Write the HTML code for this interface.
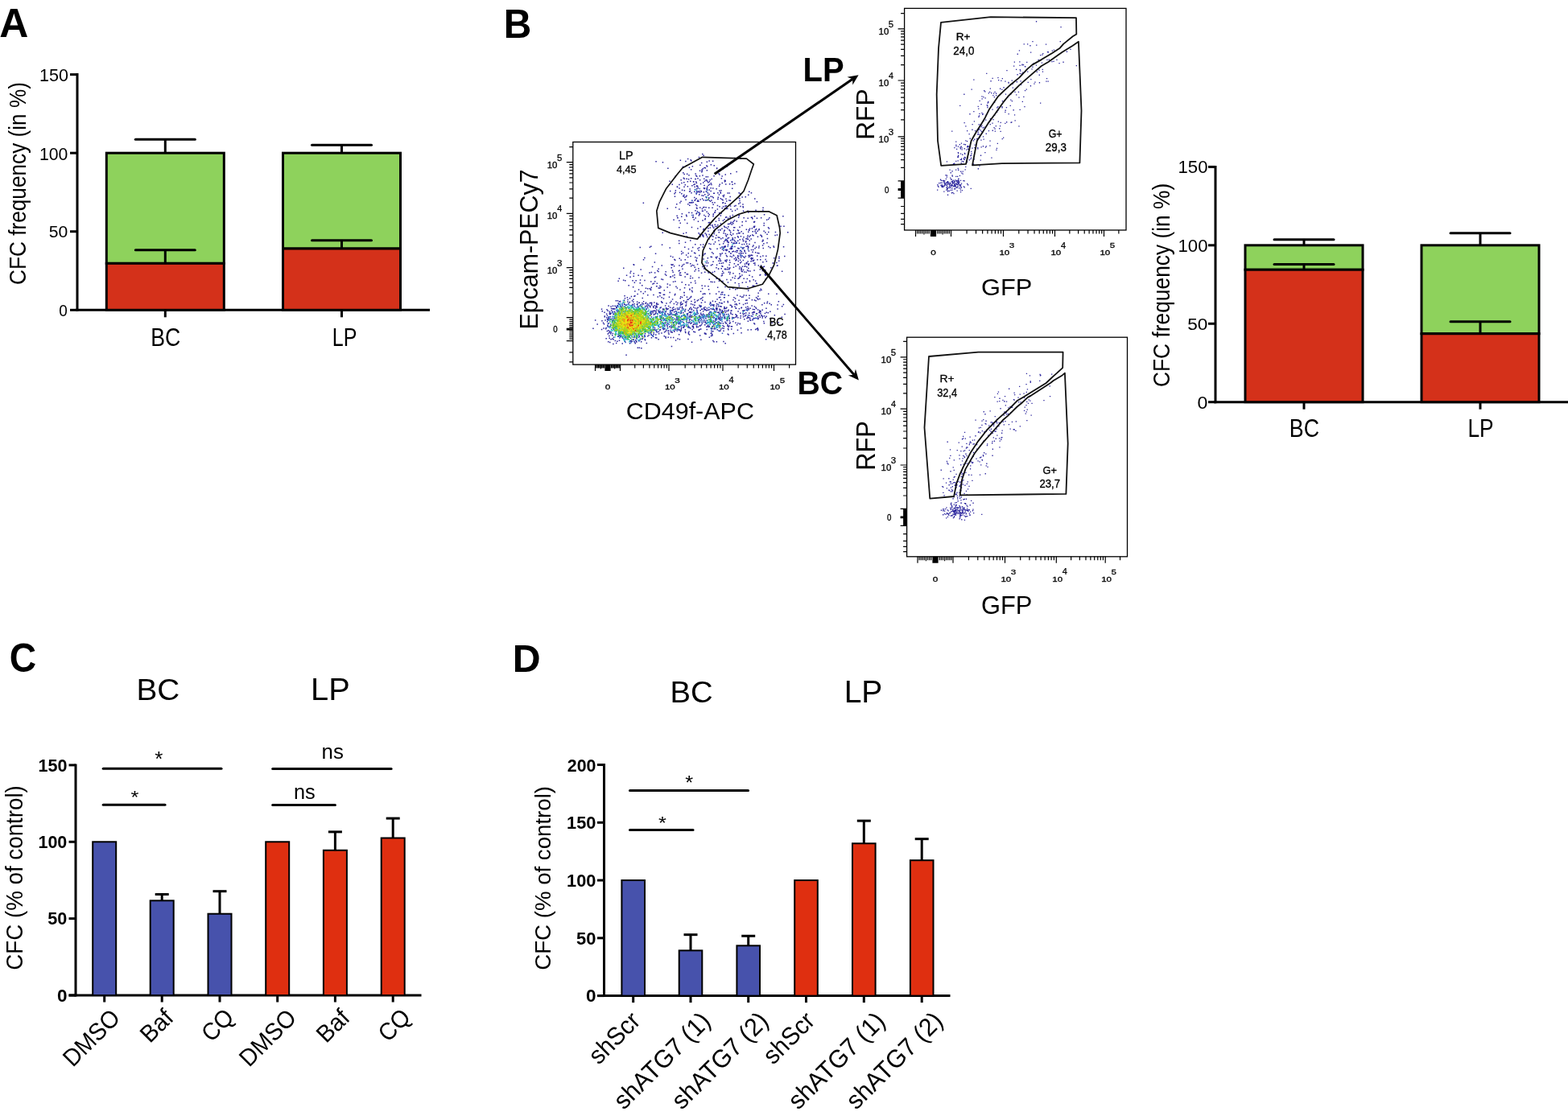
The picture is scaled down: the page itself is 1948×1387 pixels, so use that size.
<!DOCTYPE html>
<html><head><meta charset="utf-8"><title>Figure</title>
<style>html,body{margin:0;padding:0;background:#fff;overflow:hidden}svg{display:block}</style>
</head><body>
<svg width="1948" height="1387" viewBox="0 0 1948 1387" font-family="'Liberation Sans', Arial, sans-serif">
<rect width="1948" height="1387" fill="#fff"/>
<text transform="translate(-0.75,46) scale(1.0147,1)" font-size="49.28" font-weight="bold" fill="#000">A</text>
<text transform="translate(625.69,46.8) scale(0.9519,1)" font-size="50.29" font-weight="bold" fill="#000">B</text>
<text transform="translate(11.85,834.9) scale(0.9278,1)" font-size="49.86" font-weight="bold" fill="#000">C</text>
<text transform="translate(636.66,834.8) scale(0.9888,1)" font-size="48.84" font-weight="bold" fill="#000">D</text>
<line x1="96" y1="91.1" x2="96" y2="386.8" stroke="#000" stroke-width="3" stroke-linecap="butt"/>
<line x1="94.5" y1="385.3" x2="534" y2="385.3" stroke="#000" stroke-width="3" stroke-linecap="butt"/>
<line x1="87" y1="385.3" x2="96" y2="385.3" stroke="#000" stroke-width="3" stroke-linecap="butt"/>
<line x1="87" y1="287.73" x2="96" y2="287.73" stroke="#000" stroke-width="3" stroke-linecap="butt"/>
<line x1="87" y1="190.17" x2="96" y2="190.17" stroke="#000" stroke-width="3" stroke-linecap="butt"/>
<line x1="87" y1="92.6" x2="96" y2="92.6" stroke="#000" stroke-width="3" stroke-linecap="butt"/>
<text transform="translate(48.98,100.59) scale(1.0065,1)" font-size="21.41" fill="#000">150</text>
<text transform="translate(49.01,198.57) scale(0.9419,1)" font-size="22.54" fill="#000">100</text>
<text transform="translate(60.85,295.29)" font-size="21.13" fill="#000">50</text>
<text transform="translate(73.24,392.79) scale(0.9090,1)" font-size="20.85" fill="#000">0</text>
<rect x="132.3" y="190.17" width="146" height="137.18" fill="#8ED25C" stroke="#000" stroke-width="3"/>
<rect x="132.3" y="327.35" width="146" height="57.95" fill="#D4311A" stroke="#000" stroke-width="3"/>
<line x1="205.3" y1="190.17" x2="205.3" y2="173.19" stroke="#000" stroke-width="3" stroke-linecap="butt"/>
<line x1="168.3" y1="173.19" x2="242.3" y2="173.19" stroke="#000" stroke-width="3" stroke-linecap="round"/>
<line x1="205.3" y1="327.35" x2="205.3" y2="310.76" stroke="#000" stroke-width="3" stroke-linecap="butt"/>
<line x1="168.3" y1="310.76" x2="242.3" y2="310.76" stroke="#000" stroke-width="3" stroke-linecap="round"/>
<line x1="205.3" y1="385.3" x2="205.3" y2="394.3" stroke="#000" stroke-width="3" stroke-linecap="butt"/>
<rect x="351.5" y="190.17" width="146" height="118.84" fill="#8ED25C" stroke="#000" stroke-width="3"/>
<rect x="351.5" y="309" width="146" height="76.3" fill="#D4311A" stroke="#000" stroke-width="3"/>
<line x1="424.5" y1="190.17" x2="424.5" y2="180.21" stroke="#000" stroke-width="3" stroke-linecap="butt"/>
<line x1="387.5" y1="180.21" x2="461.5" y2="180.21" stroke="#000" stroke-width="3" stroke-linecap="round"/>
<line x1="424.5" y1="309" x2="424.5" y2="298.66" stroke="#000" stroke-width="3" stroke-linecap="butt"/>
<line x1="387.5" y1="298.66" x2="461.5" y2="298.66" stroke="#000" stroke-width="3" stroke-linecap="round"/>
<line x1="424.5" y1="385.3" x2="424.5" y2="394.3" stroke="#000" stroke-width="3" stroke-linecap="butt"/>
<text transform="translate(32.27,353.91) rotate(-90) scale(0.8973,1)" font-size="29.2" fill="#000">CFC frequency (in %)</text>
<text transform="translate(187.27,429.99) scale(0.8482,1)" font-size="31.41" fill="#000">BC</text>
<text transform="translate(412.8,430) scale(0.7855,1)" font-size="31.88" fill="#000">LP</text>
<line x1="1510" y1="205.9" x2="1510" y2="501.2" stroke="#000" stroke-width="3" stroke-linecap="butt"/>
<line x1="1508.5" y1="499.7" x2="1948" y2="499.7" stroke="#000" stroke-width="3" stroke-linecap="butt"/>
<line x1="1501" y1="499.7" x2="1510" y2="499.7" stroke="#000" stroke-width="3" stroke-linecap="butt"/>
<line x1="1501" y1="402.27" x2="1510" y2="402.27" stroke="#000" stroke-width="3" stroke-linecap="butt"/>
<line x1="1501" y1="304.83" x2="1510" y2="304.83" stroke="#000" stroke-width="3" stroke-linecap="butt"/>
<line x1="1501" y1="207.4" x2="1510" y2="207.4" stroke="#000" stroke-width="3" stroke-linecap="butt"/>
<text transform="translate(1463.54,215.39) scale(1.0405,1)" font-size="21.27" fill="#000">150</text>
<text transform="translate(1463.54,313.18) scale(1.0072,1)" font-size="21.97" fill="#000">100</text>
<text transform="translate(1475.3,409.79) scale(1.0707,1)" font-size="21.13" fill="#000">50</text>
<text transform="translate(1487.57,507.78) scale(1.0473,1)" font-size="22.11" fill="#000">0</text>
<rect x="1547" y="304.83" width="146" height="30.4" fill="#8ED25C" stroke="#000" stroke-width="3"/>
<rect x="1547" y="335.23" width="146" height="164.47" fill="#D4311A" stroke="#000" stroke-width="3"/>
<line x1="1620" y1="304.83" x2="1620" y2="297.82" stroke="#000" stroke-width="3" stroke-linecap="butt"/>
<line x1="1583" y1="297.82" x2="1657" y2="297.82" stroke="#000" stroke-width="3" stroke-linecap="round"/>
<line x1="1620" y1="335.23" x2="1620" y2="328.61" stroke="#000" stroke-width="3" stroke-linecap="butt"/>
<line x1="1583" y1="328.61" x2="1657" y2="328.61" stroke="#000" stroke-width="3" stroke-linecap="round"/>
<line x1="1620" y1="499.7" x2="1620" y2="508.7" stroke="#000" stroke-width="3" stroke-linecap="butt"/>
<rect x="1766" y="304.83" width="146" height="109.9" fill="#8ED25C" stroke="#000" stroke-width="3"/>
<rect x="1766" y="414.74" width="146" height="84.96" fill="#D4311A" stroke="#000" stroke-width="3"/>
<line x1="1839" y1="304.83" x2="1839" y2="289.63" stroke="#000" stroke-width="3" stroke-linecap="butt"/>
<line x1="1802" y1="289.63" x2="1876" y2="289.63" stroke="#000" stroke-width="3" stroke-linecap="round"/>
<line x1="1839" y1="414.74" x2="1839" y2="399.73" stroke="#000" stroke-width="3" stroke-linecap="butt"/>
<line x1="1802" y1="399.73" x2="1876" y2="399.73" stroke="#000" stroke-width="3" stroke-linecap="round"/>
<line x1="1839" y1="499.7" x2="1839" y2="508.7" stroke="#000" stroke-width="3" stroke-linecap="butt"/>
<text transform="translate(1453.28,481.02) rotate(-90) scale(0.9199,1)" font-size="28.66" fill="#000">CFC frequency (in %)</text>
<text transform="translate(1601.86,542.89) scale(0.8545,1)" font-size="31.27" fill="#000">BC</text>
<text transform="translate(1823.39,543) scale(0.8258,1)" font-size="31.88" fill="#000">LP</text>
<line x1="94" y1="949.4" x2="94" y2="1238.5" stroke="#000" stroke-width="3" stroke-linecap="butt"/>
<line x1="85.5" y1="1237" x2="523.5" y2="1237" stroke="#000" stroke-width="3" stroke-linecap="butt"/>
<line x1="85.5" y1="1237" x2="94" y2="1237" stroke="#000" stroke-width="3" stroke-linecap="butt"/>
<line x1="85.5" y1="1141.63" x2="94" y2="1141.63" stroke="#000" stroke-width="3" stroke-linecap="butt"/>
<line x1="85.5" y1="1046.27" x2="94" y2="1046.27" stroke="#000" stroke-width="3" stroke-linecap="butt"/>
<line x1="85.5" y1="950.9" x2="94" y2="950.9" stroke="#000" stroke-width="3" stroke-linecap="butt"/>
<text transform="translate(47.4,958.58) scale(0.9960,1)" font-size="21.69" font-weight="bold" fill="#000">150</text>
<text transform="translate(47.4,1053.88)" font-size="21.55" font-weight="bold" fill="#000">100</text>
<text transform="translate(59.35,1148.98) scale(1.0040,1)" font-size="21.55" font-weight="bold" fill="#000">50</text>
<text transform="translate(70.9,1244.98) scale(1.0252,1)" font-size="21.97" font-weight="bold" fill="#000">0</text>
<rect x="115.2" y="1046.27" width="29" height="190.73" fill="#4752AC" stroke="#000" stroke-width="2"/>
<line x1="129.7" y1="1237" x2="129.7" y2="1245.5" stroke="#000" stroke-width="3" stroke-linecap="butt"/>
<line x1="201.2" y1="1119.32" x2="201.2" y2="1111.5" stroke="#000" stroke-width="3" stroke-linecap="butt"/>
<line x1="192.7" y1="1111.5" x2="209.7" y2="1111.5" stroke="#000" stroke-width="3" stroke-linecap="butt"/>
<rect x="186.7" y="1119.32" width="29" height="117.68" fill="#4752AC" stroke="#000" stroke-width="2"/>
<line x1="201.2" y1="1237" x2="201.2" y2="1245.5" stroke="#000" stroke-width="3" stroke-linecap="butt"/>
<line x1="273" y1="1135.72" x2="273" y2="1107.68" stroke="#000" stroke-width="3" stroke-linecap="butt"/>
<line x1="264.5" y1="1107.68" x2="281.5" y2="1107.68" stroke="#000" stroke-width="3" stroke-linecap="butt"/>
<rect x="258.5" y="1135.72" width="29" height="101.28" fill="#4752AC" stroke="#000" stroke-width="2"/>
<line x1="273" y1="1237" x2="273" y2="1245.5" stroke="#000" stroke-width="3" stroke-linecap="butt"/>
<rect x="330.2" y="1046.27" width="29" height="190.73" fill="#DF2F10" stroke="#000" stroke-width="2"/>
<line x1="344.7" y1="1237" x2="344.7" y2="1245.5" stroke="#000" stroke-width="3" stroke-linecap="butt"/>
<line x1="416.4" y1="1056.76" x2="416.4" y2="1033.87" stroke="#000" stroke-width="3" stroke-linecap="butt"/>
<line x1="407.9" y1="1033.87" x2="424.9" y2="1033.87" stroke="#000" stroke-width="3" stroke-linecap="butt"/>
<rect x="401.9" y="1056.76" width="29" height="180.24" fill="#DF2F10" stroke="#000" stroke-width="2"/>
<line x1="416.4" y1="1237" x2="416.4" y2="1245.5" stroke="#000" stroke-width="3" stroke-linecap="butt"/>
<line x1="488.2" y1="1041.5" x2="488.2" y2="1017.08" stroke="#000" stroke-width="3" stroke-linecap="butt"/>
<line x1="479.7" y1="1017.08" x2="496.7" y2="1017.08" stroke="#000" stroke-width="3" stroke-linecap="butt"/>
<rect x="473.7" y="1041.5" width="29" height="195.5" fill="#DF2F10" stroke="#000" stroke-width="2"/>
<line x1="488.2" y1="1237" x2="488.2" y2="1245.5" stroke="#000" stroke-width="3" stroke-linecap="butt"/>
<line x1="128.2" y1="955.3" x2="275" y2="955.3" stroke="#000" stroke-width="3" stroke-linecap="round"/>
<line x1="128.2" y1="1000.3" x2="205" y2="1000.3" stroke="#000" stroke-width="3" stroke-linecap="round"/>
<line x1="338.7" y1="955.5" x2="486.1" y2="955.5" stroke="#000" stroke-width="3" stroke-linecap="round"/>
<line x1="338.7" y1="1000.5" x2="416.4" y2="1000.5" stroke="#000" stroke-width="3" stroke-linecap="round"/>
<text transform="translate(192.28,952.24)" font-size="26" fill="#000">*</text>
<text transform="translate(162.59,997.57) scale(1.1125,1)" font-size="22.86" fill="#000">*</text>
<text transform="translate(399.62,943.14) scale(1.0089,1)" font-size="25.64" fill="#000">ns</text>
<text transform="translate(364.95,993.25) scale(1.0099,1)" font-size="25.09" fill="#000">ns</text>
<text transform="translate(169.5,869.94) scale(1.0660,1)" font-size="36.34" fill="#000">BC</text>
<text transform="translate(386.01,870.3) scale(1.0486,1)" font-size="37.97" fill="#000">LP</text>
<text transform="translate(28.11,1205.79) rotate(-90) scale(0.9575,1)" font-size="28.98" fill="#000">CFC (% of control)</text>
<text transform="translate(90.49,1327.31) rotate(-45) scale(0.9443,1)" font-size="30.14">DMSO</text>
<text transform="translate(186.36,1297.44) rotate(-45) scale(0.9614,1)" font-size="30.14">Baf</text>
<text transform="translate(262.4,1296.3) rotate(-45) scale(0.9407,1)" font-size="30.14">CQ</text>
<text transform="translate(309.49,1327.31) rotate(-45) scale(0.9443,1)" font-size="30.14">DMSO</text>
<text transform="translate(405.36,1297.44) rotate(-45) scale(0.9614,1)" font-size="30.14">Baf</text>
<text transform="translate(481.9,1296.3) rotate(-45) scale(0.9407,1)" font-size="30.14">CQ</text>
<line x1="750.5" y1="949" x2="750.5" y2="1239.1" stroke="#000" stroke-width="3" stroke-linecap="butt"/>
<line x1="742" y1="1237.6" x2="1180.5" y2="1237.6" stroke="#000" stroke-width="3" stroke-linecap="butt"/>
<line x1="742" y1="1237.6" x2="750.5" y2="1237.6" stroke="#000" stroke-width="3" stroke-linecap="butt"/>
<line x1="742" y1="1165.82" x2="750.5" y2="1165.82" stroke="#000" stroke-width="3" stroke-linecap="butt"/>
<line x1="742" y1="1094.05" x2="750.5" y2="1094.05" stroke="#000" stroke-width="3" stroke-linecap="butt"/>
<line x1="742" y1="1022.27" x2="750.5" y2="1022.27" stroke="#000" stroke-width="3" stroke-linecap="butt"/>
<line x1="742" y1="950.5" x2="750.5" y2="950.5" stroke="#000" stroke-width="3" stroke-linecap="butt"/>
<text transform="translate(704.75,958.58) scale(0.9859,1)" font-size="21.69" font-weight="bold" fill="#000">200</text>
<text transform="translate(704.08,1030.18) scale(1.0048,1)" font-size="21.69" font-weight="bold" fill="#000">150</text>
<text transform="translate(704.08,1102.28) scale(1.0048,1)" font-size="21.69" font-weight="bold" fill="#000">100</text>
<text transform="translate(716.04,1173.68) scale(1.0107,1)" font-size="21.69" font-weight="bold" fill="#000">50</text>
<text transform="translate(727.9,1245.08) scale(1.0386,1)" font-size="21.69" font-weight="bold" fill="#000">0</text>
<rect x="772.4" y="1094.05" width="28.6" height="143.55" fill="#4752AC" stroke="#000" stroke-width="2"/>
<line x1="786.7" y1="1237.6" x2="786.7" y2="1246.1" stroke="#000" stroke-width="3" stroke-linecap="butt"/>
<line x1="858" y1="1181.33" x2="858" y2="1161.66" stroke="#000" stroke-width="3" stroke-linecap="butt"/>
<line x1="849.5" y1="1161.66" x2="866.5" y2="1161.66" stroke="#000" stroke-width="3" stroke-linecap="butt"/>
<rect x="843.7" y="1181.33" width="28.6" height="56.27" fill="#4752AC" stroke="#000" stroke-width="2"/>
<line x1="858" y1="1237.6" x2="858" y2="1246.1" stroke="#000" stroke-width="3" stroke-linecap="butt"/>
<line x1="929.7" y1="1175.3" x2="929.7" y2="1163.24" stroke="#000" stroke-width="3" stroke-linecap="butt"/>
<line x1="921.2" y1="1163.24" x2="938.2" y2="1163.24" stroke="#000" stroke-width="3" stroke-linecap="butt"/>
<rect x="915.4" y="1175.3" width="28.6" height="62.3" fill="#4752AC" stroke="#000" stroke-width="2"/>
<line x1="929.7" y1="1237.6" x2="929.7" y2="1246.1" stroke="#000" stroke-width="3" stroke-linecap="butt"/>
<rect x="987.2" y="1094.05" width="28.6" height="143.55" fill="#DF2F10" stroke="#000" stroke-width="2"/>
<line x1="1001.5" y1="1237.6" x2="1001.5" y2="1246.1" stroke="#000" stroke-width="3" stroke-linecap="butt"/>
<line x1="1073.3" y1="1048.26" x2="1073.3" y2="1020.12" stroke="#000" stroke-width="3" stroke-linecap="butt"/>
<line x1="1064.8" y1="1020.12" x2="1081.8" y2="1020.12" stroke="#000" stroke-width="3" stroke-linecap="butt"/>
<rect x="1059" y="1048.26" width="28.6" height="189.34" fill="#DF2F10" stroke="#000" stroke-width="2"/>
<line x1="1073.3" y1="1237.6" x2="1073.3" y2="1246.1" stroke="#000" stroke-width="3" stroke-linecap="butt"/>
<line x1="1145.2" y1="1069.22" x2="1145.2" y2="1042.66" stroke="#000" stroke-width="3" stroke-linecap="butt"/>
<line x1="1136.7" y1="1042.66" x2="1153.7" y2="1042.66" stroke="#000" stroke-width="3" stroke-linecap="butt"/>
<rect x="1130.9" y="1069.22" width="28.6" height="168.38" fill="#DF2F10" stroke="#000" stroke-width="2"/>
<line x1="1145.2" y1="1237.6" x2="1145.2" y2="1246.1" stroke="#000" stroke-width="3" stroke-linecap="butt"/>
<line x1="782.5" y1="982.4" x2="929.5" y2="982.4" stroke="#000" stroke-width="3" stroke-linecap="round"/>
<line x1="782.5" y1="1031.5" x2="861" y2="1031.5" stroke="#000" stroke-width="3" stroke-linecap="round"/>
<text transform="translate(851.19,980.57) scale(1.0988,1)" font-size="23.14" fill="#000">*</text>
<text transform="translate(817.89,1029.77) scale(1.1125,1)" font-size="22.86" fill="#000">*</text>
<text transform="translate(832.54,872.83) scale(1.0329,1)" font-size="37.04" fill="#000">BC</text>
<text transform="translate(1048.68,873.2) scale(0.9964,1)" font-size="39.13" fill="#000">LP</text>
<text transform="translate(684.21,1205.78) rotate(-90) scale(1.0018,1)" font-size="27.59" fill="#000">CFC (% of control)</text>
<text transform="translate(743.67,1324.13) rotate(-45) scale(0.9526,1)" font-size="31.16">shScr</text>
<text transform="translate(775.06,1380.24) rotate(-45) scale(0.9756,1)" font-size="31.16">shATG7 (1)</text>
<text transform="translate(846.96,1380.14) rotate(-45) scale(0.9756,1)" font-size="31.16">shATG7 (2)</text>
<text transform="translate(960.47,1324.13) rotate(-45) scale(0.9526,1)" font-size="31.16">shScr</text>
<text transform="translate(991.86,1380.24) rotate(-45) scale(0.9756,1)" font-size="31.16">shATG7 (1)</text>
<text transform="translate(1063.76,1380.14) rotate(-45) scale(0.9756,1)" font-size="31.16">shATG7 (2)</text>
<path d="M815.0 376.5h1.5v1.5h-1.5zM905.6 398.0h1.5v1.5h-1.5zM897.0 336.4h1.5v1.5h-1.5zM894.0 390.9h1.5v1.5h-1.5zM892.5 361.8h1.5v1.5h-1.5zM912.4 377.6h1.5v1.5h-1.5zM919.5 392.0h1.5v1.5h-1.5zM894.8 365.3h1.5v1.5h-1.5zM825.9 379.2h1.5v1.5h-1.5zM928.5 409.3h1.5v1.5h-1.5zM938.8 369.0h1.5v1.5h-1.5zM886.0 379.7h1.5v1.5h-1.5zM875.4 384.0h1.5v1.5h-1.5zM835.4 390.4h1.5v1.5h-1.5zM870.9 370.1h1.5v1.5h-1.5zM927.6 345.8h1.5v1.5h-1.5zM865.6 372.9h1.5v1.5h-1.5zM793.6 375.5h1.5v1.5h-1.5zM833.1 373.7h1.5v1.5h-1.5zM812.1 375.2h1.5v1.5h-1.5zM925.4 376.5h1.5v1.5h-1.5zM889.4 345.5h1.5v1.5h-1.5zM771.5 384.2h1.5v1.5h-1.5zM930.0 388.5h1.5v1.5h-1.5zM798.6 251.6h1.5v1.5h-1.5zM863.0 314.1h1.5v1.5h-1.5zM899.6 333.8h1.5v1.5h-1.5zM948.9 375.9h1.5v1.5h-1.5zM934.7 389.9h1.5v1.5h-1.5zM927.6 376.0h1.5v1.5h-1.5zM857.3 368.7h1.5v1.5h-1.5zM765.1 382.1h1.5v1.5h-1.5zM800.8 422.1h1.5v1.5h-1.5zM756.7 389.7h1.5v1.5h-1.5zM760.5 406.5h1.5v1.5h-1.5zM890.3 382.6h1.5v1.5h-1.5zM886.1 378.1h1.5v1.5h-1.5zM853.8 389.1h1.5v1.5h-1.5zM826.8 382.0h1.5v1.5h-1.5zM856.1 359.1h1.5v1.5h-1.5zM782.4 338.6h1.5v1.5h-1.5zM875.2 364.5h1.5v1.5h-1.5zM892.3 402.2h1.5v1.5h-1.5zM886.5 408.0h1.5v1.5h-1.5zM904.6 392.3h1.5v1.5h-1.5zM885.1 422.7h1.5v1.5h-1.5zM974.3 389.7h1.5v1.5h-1.5zM944.1 387.0h1.5v1.5h-1.5zM892.6 399.4h1.5v1.5h-1.5zM886.0 402.9h1.5v1.5h-1.5zM755.1 395.8h1.5v1.5h-1.5zM807.7 388.5h1.5v1.5h-1.5zM910.6 413.7h1.5v1.5h-1.5zM898.9 383.1h1.5v1.5h-1.5zM882.8 388.0h1.5v1.5h-1.5zM808.5 356.5h1.5v1.5h-1.5zM806.6 306.4h1.5v1.5h-1.5zM943.9 340.7h1.5v1.5h-1.5zM940.3 370.3h1.5v1.5h-1.5zM884.7 373.4h1.5v1.5h-1.5zM767.5 386.0h1.5v1.5h-1.5zM753.7 391.5h1.5v1.5h-1.5zM894.3 410.2h1.5v1.5h-1.5zM838.2 348.9h1.5v1.5h-1.5zM849.1 362.7h1.5v1.5h-1.5zM775.3 367.0h1.5v1.5h-1.5zM857.8 376.9h1.5v1.5h-1.5zM935.4 347.1h1.5v1.5h-1.5zM871.8 357.8h1.5v1.5h-1.5zM819.0 357.3h1.5v1.5h-1.5zM933.9 388.0h1.5v1.5h-1.5zM758.3 421.0h1.5v1.5h-1.5zM857.7 393.7h1.5v1.5h-1.5zM954.0 364.5h1.5v1.5h-1.5zM831.9 381.5h1.5v1.5h-1.5zM875.0 337.6h1.5v1.5h-1.5zM946.4 384.4h1.5v1.5h-1.5zM940.7 393.0h1.5v1.5h-1.5zM760.5 386.8h1.5v1.5h-1.5zM819.4 382.1h1.5v1.5h-1.5zM871.0 383.4h1.5v1.5h-1.5zM798.0 382.0h1.5v1.5h-1.5zM878.8 384.6h1.5v1.5h-1.5zM929.1 382.5h1.5v1.5h-1.5zM943.3 360.5h1.5v1.5h-1.5zM872.0 372.5h1.5v1.5h-1.5zM855.1 353.6h1.5v1.5h-1.5zM901.8 385.8h1.5v1.5h-1.5zM853.4 394.4h1.5v1.5h-1.5zM768.6 345.5h1.5v1.5h-1.5zM875.1 354.7h1.5v1.5h-1.5zM803.9 358.1h1.5v1.5h-1.5zM805.2 379.2h1.5v1.5h-1.5zM875.1 393.0h1.5v1.5h-1.5zM936.6 386.9h1.5v1.5h-1.5zM844.5 370.0h1.5v1.5h-1.5zM946.1 377.9h1.5v1.5h-1.5zM899.1 390.8h1.5v1.5h-1.5zM913.0 358.9h1.5v1.5h-1.5zM942.4 387.8h1.5v1.5h-1.5zM786.4 328.1h1.5v1.5h-1.5zM941.5 394.7h1.5v1.5h-1.5zM950.1 394.1h1.5v1.5h-1.5zM934.5 354.5h1.5v1.5h-1.5zM862.4 336.3h1.5v1.5h-1.5zM811.7 351.6h1.5v1.5h-1.5zM856.2 359.3h1.5v1.5h-1.5zM929.8 394.1h1.5v1.5h-1.5zM837.8 391.1h1.5v1.5h-1.5zM852.7 368.4h1.5v1.5h-1.5zM803.2 395.0h1.5v1.5h-1.5zM748.8 400.6h1.5v1.5h-1.5zM801.8 375.5h1.5v1.5h-1.5zM766.8 379.0h1.5v1.5h-1.5zM850.8 374.8h1.5v1.5h-1.5zM951.4 392.5h1.5v1.5h-1.5zM802.4 383.0h1.5v1.5h-1.5zM911.2 368.9h1.5v1.5h-1.5zM932.9 321.8h1.5v1.5h-1.5zM930.7 348.2h1.5v1.5h-1.5zM799.0 382.8h1.5v1.5h-1.5zM875.2 374.8h1.5v1.5h-1.5zM831.4 362.8h1.5v1.5h-1.5zM912.8 342.4h1.5v1.5h-1.5zM929.5 383.9h1.5v1.5h-1.5zM822.1 375.4h1.5v1.5h-1.5zM819.8 363.3h1.5v1.5h-1.5zM827.2 382.8h1.5v1.5h-1.5zM938.3 373.1h1.5v1.5h-1.5zM843.4 335.6h1.5v1.5h-1.5zM870.7 375.4h1.5v1.5h-1.5zM950.2 394.1h1.5v1.5h-1.5zM933.4 379.2h1.5v1.5h-1.5zM873.6 382.0h1.5v1.5h-1.5zM936.8 401.9h1.5v1.5h-1.5zM950.5 341.4h1.5v1.5h-1.5zM810.9 380.0h1.5v1.5h-1.5zM785.8 381.6h1.5v1.5h-1.5zM872.9 386.2h1.5v1.5h-1.5zM890.3 371.2h1.5v1.5h-1.5zM785.9 356.1h1.5v1.5h-1.5zM866.4 388.8h1.5v1.5h-1.5zM905.8 401.2h1.5v1.5h-1.5zM903.8 407.8h1.5v1.5h-1.5zM887.4 401.7h1.5v1.5h-1.5zM893.7 385.5h1.5v1.5h-1.5zM936.1 401.1h1.5v1.5h-1.5zM903.5 414.4h1.5v1.5h-1.5zM903.1 403.1h1.5v1.5h-1.5zM883.1 413.6h1.5v1.5h-1.5zM907.4 385.4h1.5v1.5h-1.5zM900.3 399.5h1.5v1.5h-1.5zM930.9 396.7h1.5v1.5h-1.5zM908.8 380.8h1.5v1.5h-1.5zM932.4 408.9h1.5v1.5h-1.5zM912.3 374.2h1.5v1.5h-1.5zM883.2 411.4h1.5v1.5h-1.5zM915.7 409.6h1.5v1.5h-1.5zM918.4 402.1h1.5v1.5h-1.5zM881.8 375.0h1.5v1.5h-1.5zM941.1 367.6h1.5v1.5h-1.5zM897.6 401.2h1.5v1.5h-1.5zM794.3 379.3h1.5v1.5h-1.5zM810.5 386.1h1.5v1.5h-1.5zM803.6 404.6h1.5v1.5h-1.5zM810.0 416.6h1.5v1.5h-1.5zM771.6 381.5h1.5v1.5h-1.5zM752.3 406.7h1.5v1.5h-1.5zM790.4 418.3h1.5v1.5h-1.5zM759.0 385.2h1.5v1.5h-1.5zM908.1 385.3h1.5v1.5h-1.5zM917.5 354.7h1.5v1.5h-1.5zM882.7 407.4h1.5v1.5h-1.5zM903.3 404.4h1.5v1.5h-1.5zM889.4 379.4h1.5v1.5h-1.5zM891.5 377.7h1.5v1.5h-1.5zM898.2 386.9h1.5v1.5h-1.5zM910.2 394.4h1.5v1.5h-1.5zM896.1 387.3h1.5v1.5h-1.5zM891.0 403.8h1.5v1.5h-1.5zM891.0 387.4h1.5v1.5h-1.5zM914.9 403.0h1.5v1.5h-1.5zM884.0 414.7h1.5v1.5h-1.5zM892.3 393.9h1.5v1.5h-1.5zM913.2 382.3h1.5v1.5h-1.5zM899.2 381.5h1.5v1.5h-1.5zM885.0 411.1h1.5v1.5h-1.5zM889.2 381.7h1.5v1.5h-1.5zM799.2 387.6h1.5v1.5h-1.5zM796.0 379.9h1.5v1.5h-1.5zM799.6 384.4h1.5v1.5h-1.5zM767.5 415.1h1.5v1.5h-1.5zM938.8 382.8h1.5v1.5h-1.5zM880.2 390.3h1.5v1.5h-1.5zM891.9 379.9h1.5v1.5h-1.5zM938.1 394.6h1.5v1.5h-1.5zM889.6 424.0h1.5v1.5h-1.5zM770.1 417.8h1.5v1.5h-1.5zM755.0 424.0h1.5v1.5h-1.5zM898.2 410.5h1.5v1.5h-1.5zM922.1 385.4h1.5v1.5h-1.5zM935.7 394.8h1.5v1.5h-1.5zM920.6 381.6h1.5v1.5h-1.5zM920.3 412.9h1.5v1.5h-1.5zM908.4 381.0h1.5v1.5h-1.5zM905.5 395.0h1.5v1.5h-1.5zM972.6 377.8h1.5v1.5h-1.5zM901.9 401.0h1.5v1.5h-1.5zM940.5 407.0h1.5v1.5h-1.5zM941.1 395.8h1.5v1.5h-1.5zM896.0 396.7h1.5v1.5h-1.5zM910.2 372.1h1.5v1.5h-1.5zM935.2 386.9h1.5v1.5h-1.5zM755.3 405.5h1.5v1.5h-1.5zM893.0 410.7h1.5v1.5h-1.5zM885.2 378.5h1.5v1.5h-1.5zM924.0 395.9h1.5v1.5h-1.5zM957.5 378.0h1.5v1.5h-1.5zM887.5 398.7h1.5v1.5h-1.5zM948.6 401.1h1.5v1.5h-1.5zM764.9 425.7h1.5v1.5h-1.5zM760.4 397.8h1.5v1.5h-1.5zM964.2 364.4h1.5v1.5h-1.5zM801.0 379.7h1.5v1.5h-1.5zM766.1 423.4h1.5v1.5h-1.5zM903.2 397.1h1.5v1.5h-1.5zM902.0 381.5h1.5v1.5h-1.5zM882.5 413.7h1.5v1.5h-1.5zM902.5 397.9h1.5v1.5h-1.5zM970.6 393.4h1.5v1.5h-1.5zM940.8 409.7h1.5v1.5h-1.5zM908.6 380.0h1.5v1.5h-1.5zM970.9 380.1h1.5v1.5h-1.5zM966.4 400.1h1.5v1.5h-1.5zM900.7 387.4h1.5v1.5h-1.5zM927.4 383.1h1.5v1.5h-1.5zM956.1 386.5h1.5v1.5h-1.5zM905.2 391.7h1.5v1.5h-1.5zM916.0 393.9h1.5v1.5h-1.5zM913.2 400.6h1.5v1.5h-1.5zM939.4 407.9h1.5v1.5h-1.5zM884.5 404.8h1.5v1.5h-1.5zM885.7 398.0h1.5v1.5h-1.5zM884.2 405.3h1.5v1.5h-1.5zM906.4 400.2h1.5v1.5h-1.5zM884.1 416.3h1.5v1.5h-1.5zM914.7 377.9h1.5v1.5h-1.5zM923.5 366.3h1.5v1.5h-1.5zM908.9 395.4h1.5v1.5h-1.5zM899.0 374.5h1.5v1.5h-1.5zM966.6 373.9h1.5v1.5h-1.5zM955.9 395.2h1.5v1.5h-1.5zM895.4 388.0h1.5v1.5h-1.5zM936.5 384.0h1.5v1.5h-1.5zM905.5 394.2h1.5v1.5h-1.5zM923.3 385.5h1.5v1.5h-1.5zM955.4 376.4h1.5v1.5h-1.5zM938.9 389.1h1.5v1.5h-1.5zM894.9 401.1h1.5v1.5h-1.5zM890.5 409.1h1.5v1.5h-1.5zM913.2 389.9h1.5v1.5h-1.5zM941.1 408.4h1.5v1.5h-1.5zM927.2 394.8h1.5v1.5h-1.5zM922.1 388.6h1.5v1.5h-1.5zM919.2 394.5h1.5v1.5h-1.5zM896.5 393.7h1.5v1.5h-1.5zM939.7 389.0h1.5v1.5h-1.5zM948.1 398.8h1.5v1.5h-1.5zM904.2 389.8h1.5v1.5h-1.5zM930.1 369.8h1.5v1.5h-1.5zM944.1 386.0h1.5v1.5h-1.5zM905.6 400.9h1.5v1.5h-1.5zM922.8 377.7h1.5v1.5h-1.5zM908.7 404.9h1.5v1.5h-1.5zM920.2 381.9h1.5v1.5h-1.5zM802.6 425.7h1.5v1.5h-1.5zM910.0 398.8h1.5v1.5h-1.5zM949.7 388.7h1.5v1.5h-1.5zM754.4 385.4h1.5v1.5h-1.5zM894.7 372.0h1.5v1.5h-1.5zM882.7 416.8h1.5v1.5h-1.5zM899.8 395.3h1.5v1.5h-1.5zM888.0 374.0h1.5v1.5h-1.5zM922.7 390.5h1.5v1.5h-1.5zM835.3 328.0h1.5v1.5h-1.5zM889.0 364.4h1.5v1.5h-1.5zM935.8 387.7h1.5v1.5h-1.5zM872.3 368.8h1.5v1.5h-1.5zM926.0 372.6h1.5v1.5h-1.5zM792.7 380.4h1.5v1.5h-1.5zM952.7 374.3h1.5v1.5h-1.5zM821.2 387.6h1.5v1.5h-1.5zM879.2 355.0h1.5v1.5h-1.5zM899.7 392.8h1.5v1.5h-1.5zM913.4 393.4h1.5v1.5h-1.5zM881.0 364.2h1.5v1.5h-1.5zM871.4 354.2h1.5v1.5h-1.5zM837.3 344.2h1.5v1.5h-1.5zM820.9 374.1h1.5v1.5h-1.5zM920.5 333.7h1.5v1.5h-1.5zM845.2 385.8h1.5v1.5h-1.5zM909.4 344.3h1.5v1.5h-1.5zM797.0 341.9h1.5v1.5h-1.5zM879.4 337.1h1.5v1.5h-1.5zM916.0 307.7h1.5v1.5h-1.5zM876.9 291.7h1.5v1.5h-1.5zM931.1 394.7h1.5v1.5h-1.5zM774.8 376.9h1.5v1.5h-1.5zM812.6 325.3h1.5v1.5h-1.5zM868.2 378.7h1.5v1.5h-1.5zM917.6 383.1h1.5v1.5h-1.5zM858.7 311.3h1.5v1.5h-1.5zM787.3 377.0h1.5v1.5h-1.5zM850.2 386.2h1.5v1.5h-1.5zM845.5 387.9h1.5v1.5h-1.5zM767.4 348.5h1.5v1.5h-1.5zM786.1 374.6h1.5v1.5h-1.5zM817.3 421.0h1.5v1.5h-1.5zM751.3 397.2h1.5v1.5h-1.5zM859.4 362.0h1.5v1.5h-1.5zM921.6 350.4h1.5v1.5h-1.5zM893.0 375.4h1.5v1.5h-1.5zM945.6 392.1h1.5v1.5h-1.5zM831.8 375.4h1.5v1.5h-1.5zM895.7 362.8h1.5v1.5h-1.5zM866.8 372.1h1.5v1.5h-1.5zM786.1 371.6h1.5v1.5h-1.5zM906.5 337.8h1.5v1.5h-1.5zM940.9 384.3h1.5v1.5h-1.5zM941.4 363.5h1.5v1.5h-1.5zM935.8 326.6h1.5v1.5h-1.5zM786.6 339.2h1.5v1.5h-1.5zM815.6 351.6h1.5v1.5h-1.5zM882.7 328.9h1.5v1.5h-1.5zM854.4 371.4h1.5v1.5h-1.5zM838.6 390.5h1.5v1.5h-1.5zM761.8 408.4h1.5v1.5h-1.5zM918.9 367.6h1.5v1.5h-1.5zM925.9 381.2h1.5v1.5h-1.5zM896.4 384.9h1.5v1.5h-1.5zM767.7 377.1h1.5v1.5h-1.5zM951.2 382.5h1.5v1.5h-1.5zM802.1 410.8h1.5v1.5h-1.5zM770.7 417.4h1.5v1.5h-1.5zM788.4 425.7h1.5v1.5h-1.5zM948.8 392.1h1.5v1.5h-1.5zM893.9 284.7h1.5v1.5h-1.5zM856.1 358.6h1.5v1.5h-1.5zM894.5 393.1h1.5v1.5h-1.5zM945.2 359.7h1.5v1.5h-1.5zM832.0 343.5h1.5v1.5h-1.5zM809.0 375.7h1.5v1.5h-1.5zM917.9 376.4h1.5v1.5h-1.5zM869.8 361.5h1.5v1.5h-1.5zM910.0 290.1h1.5v1.5h-1.5zM852.4 373.8h1.5v1.5h-1.5zM793.6 431.5h1.5v1.5h-1.5zM858.2 373.7h1.5v1.5h-1.5zM852.7 293.2h1.5v1.5h-1.5zM783.7 367.8h1.5v1.5h-1.5zM849.8 357.1h1.5v1.5h-1.5zM916.8 288.7h1.5v1.5h-1.5zM837.1 321.8h1.5v1.5h-1.5zM954.0 287.8h1.5v1.5h-1.5zM921.5 275.1h1.5v1.5h-1.5zM914.0 301.5h1.5v1.5h-1.5zM964.7 291.3h1.5v1.5h-1.5zM814.9 355.0h1.5v1.5h-1.5zM892.9 263.9h1.5v1.5h-1.5zM822.5 400.5h1.5v1.5h-1.5zM908.9 304.9h1.5v1.5h-1.5zM945.3 292.3h1.5v1.5h-1.5zM898.3 288.9h1.5v1.5h-1.5zM893.2 303.1h1.5v1.5h-1.5zM917.3 308.2h1.5v1.5h-1.5zM869.7 303.4h1.5v1.5h-1.5zM907.0 277.1h1.5v1.5h-1.5zM808.0 349.3h1.5v1.5h-1.5zM892.6 273.0h1.5v1.5h-1.5zM952.2 301.1h1.5v1.5h-1.5zM844.7 338.2h1.5v1.5h-1.5zM795.4 334.3h1.5v1.5h-1.5zM822.5 288.6h1.5v1.5h-1.5zM922.6 257.0h1.5v1.5h-1.5zM831.5 307.2h1.5v1.5h-1.5zM857.2 342.5h1.5v1.5h-1.5zM812.9 349.0h1.5v1.5h-1.5zM801.7 357.4h1.5v1.5h-1.5zM934.0 271.0h1.5v1.5h-1.5zM821.5 329.2h1.5v1.5h-1.5zM878.9 325.9h1.5v1.5h-1.5zM790.2 419.4h1.5v1.5h-1.5zM773.6 386.7h1.5v1.5h-1.5zM781.6 374.7h1.5v1.5h-1.5zM851.0 353.0h1.5v1.5h-1.5zM820.3 355.9h1.5v1.5h-1.5zM777.8 341.6h1.5v1.5h-1.5zM936.0 275.4h1.5v1.5h-1.5zM835.8 349.5h1.5v1.5h-1.5zM784.7 372.9h1.5v1.5h-1.5zM857.0 298.2h1.5v1.5h-1.5zM903.8 277.8h1.5v1.5h-1.5zM906.8 255.2h1.5v1.5h-1.5zM808.1 305.6h1.5v1.5h-1.5zM936.4 280.5h1.5v1.5h-1.5zM807.9 375.4h1.5v1.5h-1.5zM857.9 329.9h1.5v1.5h-1.5zM798.6 364.1h1.5v1.5h-1.5zM898.7 306.6h1.5v1.5h-1.5zM908.0 291.7h1.5v1.5h-1.5zM843.0 281.9h1.5v1.5h-1.5zM832.7 343.3h1.5v1.5h-1.5zM900.5 305.9h1.5v1.5h-1.5zM835.1 318.7h1.5v1.5h-1.5zM900.2 255.6h1.5v1.5h-1.5zM788.1 361.2h1.5v1.5h-1.5zM928.4 270.5h1.5v1.5h-1.5zM879.4 338.2h1.5v1.5h-1.5zM863.4 270.3h1.5v1.5h-1.5zM800.2 347.8h1.5v1.5h-1.5zM909.7 296.5h1.5v1.5h-1.5zM822.8 346.7h1.5v1.5h-1.5zM863.0 303.0h1.5v1.5h-1.5zM900.1 305.0h1.5v1.5h-1.5zM885.5 245.0h1.5v1.5h-1.5zM807.8 387.8h1.5v1.5h-1.5zM846.8 380.7h1.5v1.5h-1.5zM942.9 385.2h1.5v1.5h-1.5zM858.8 360.5h1.5v1.5h-1.5zM867.4 335.7h1.5v1.5h-1.5zM786.5 342.6h1.5v1.5h-1.5zM787.2 367.4h1.5v1.5h-1.5zM782.3 343.6h1.5v1.5h-1.5zM812.9 338.3h1.5v1.5h-1.5zM781.7 369.9h1.5v1.5h-1.5zM926.3 366.4h1.5v1.5h-1.5zM897.7 391.7h1.5v1.5h-1.5zM811.8 390.3h1.5v1.5h-1.5zM940.7 293.5h1.5v1.5h-1.5zM920.2 314.6h1.5v1.5h-1.5zM808.7 377.1h1.5v1.5h-1.5zM768.8 373.9h1.5v1.5h-1.5zM804.0 366.1h1.5v1.5h-1.5zM924.8 391.9h1.5v1.5h-1.5zM874.3 384.3h1.5v1.5h-1.5zM899.8 382.6h1.5v1.5h-1.5zM806.4 358.0h1.5v1.5h-1.5zM903.7 350.3h1.5v1.5h-1.5zM870.8 390.7h1.5v1.5h-1.5zM899.2 365.7h1.5v1.5h-1.5zM936.6 380.3h1.5v1.5h-1.5zM780.4 354.0h1.5v1.5h-1.5zM846.3 330.5h1.5v1.5h-1.5zM928.2 393.1h1.5v1.5h-1.5zM814.0 380.7h1.5v1.5h-1.5zM897.1 362.6h1.5v1.5h-1.5zM892.7 369.1h1.5v1.5h-1.5zM785.6 421.2h1.5v1.5h-1.5zM760.5 382.9h1.5v1.5h-1.5zM765.5 381.4h1.5v1.5h-1.5zM821.5 375.1h1.5v1.5h-1.5zM874.4 314.9h1.5v1.5h-1.5zM849.5 366.3h1.5v1.5h-1.5zM808.1 388.6h1.5v1.5h-1.5zM912.9 370.3h1.5v1.5h-1.5zM879.8 359.0h1.5v1.5h-1.5zM953.5 388.1h1.5v1.5h-1.5zM829.9 379.7h1.5v1.5h-1.5zM844.9 367.9h1.5v1.5h-1.5zM927.7 384.7h1.5v1.5h-1.5zM914.0 377.1h1.5v1.5h-1.5zM862.1 371.8h1.5v1.5h-1.5zM774.0 332.5h1.5v1.5h-1.5zM846.5 377.5h1.5v1.5h-1.5zM849.4 362.9h1.5v1.5h-1.5zM942.7 391.5h1.5v1.5h-1.5zM827.2 376.3h1.5v1.5h-1.5zM871.9 290.9h1.5v1.5h-1.5zM943.5 393.6h1.5v1.5h-1.5zM777.6 382.2h1.5v1.5h-1.5zM932.7 391.9h1.5v1.5h-1.5zM929.5 358.0h1.5v1.5h-1.5zM942.7 387.3h1.5v1.5h-1.5zM877.2 385.2h1.5v1.5h-1.5zM803.0 378.8h1.5v1.5h-1.5zM926.0 388.2h1.5v1.5h-1.5zM793.4 417.3h1.5v1.5h-1.5zM758.0 414.1h1.5v1.5h-1.5zM869.7 379.9h1.5v1.5h-1.5zM763.1 383.3h1.5v1.5h-1.5zM747.2 398.0h1.5v1.5h-1.5zM907.1 387.8h1.5v1.5h-1.5zM788.1 366.9h1.5v1.5h-1.5zM941.1 371.4h1.5v1.5h-1.5zM848.7 372.9h1.5v1.5h-1.5zM944.2 389.0h1.5v1.5h-1.5zM904.4 366.6h1.5v1.5h-1.5zM839.2 355.4h1.5v1.5h-1.5zM833.4 392.8h1.5v1.5h-1.5zM900.8 334.0h1.5v1.5h-1.5zM924.0 385.0h1.5v1.5h-1.5zM802.4 383.2h1.5v1.5h-1.5zM797.0 354.1h1.5v1.5h-1.5zM931.4 382.4h1.5v1.5h-1.5zM855.6 387.5h1.5v1.5h-1.5zM838.0 364.7h1.5v1.5h-1.5zM749.7 402.0h1.5v1.5h-1.5zM767.5 417.2h1.5v1.5h-1.5zM782.8 422.9h1.5v1.5h-1.5zM769.9 373.7h1.5v1.5h-1.5zM928.2 380.5h1.5v1.5h-1.5zM920.8 368.5h1.5v1.5h-1.5zM944.4 358.5h1.5v1.5h-1.5zM913.9 382.4h1.5v1.5h-1.5zM919.7 292.9h1.5v1.5h-1.5zM789.8 423.2h1.5v1.5h-1.5zM914.3 391.0h1.5v1.5h-1.5zM951.5 387.5h1.5v1.5h-1.5zM896.6 386.3h1.5v1.5h-1.5zM894.1 384.1h1.5v1.5h-1.5zM930.2 391.2h1.5v1.5h-1.5zM874.4 390.7h1.5v1.5h-1.5zM933.6 372.1h1.5v1.5h-1.5zM837.2 341.1h1.5v1.5h-1.5zM892.4 388.2h1.5v1.5h-1.5zM904.3 384.6h1.5v1.5h-1.5zM913.9 392.7h1.5v1.5h-1.5zM936.7 372.2h1.5v1.5h-1.5zM828.9 389.3h1.5v1.5h-1.5zM835.3 384.2h1.5v1.5h-1.5zM826.6 386.2h1.5v1.5h-1.5zM829.3 382.9h1.5v1.5h-1.5zM839.2 374.4h1.5v1.5h-1.5zM758.8 382.7h1.5v1.5h-1.5zM754.5 396.8h1.5v1.5h-1.5zM760.7 379.5h1.5v1.5h-1.5zM750.5 393.0h1.5v1.5h-1.5zM774.8 372.6h1.5v1.5h-1.5zM755.3 393.6h1.5v1.5h-1.5zM864.5 323.7h1.5v1.5h-1.5zM938.2 381.6h1.5v1.5h-1.5zM792.4 341.5h1.5v1.5h-1.5zM795.5 361.8h1.5v1.5h-1.5zM787.6 350.5h1.5v1.5h-1.5zM917.3 372.4h1.5v1.5h-1.5zM836.6 376.8h1.5v1.5h-1.5zM889.8 377.0h1.5v1.5h-1.5zM791.7 380.7h1.5v1.5h-1.5zM906.5 378.6h1.5v1.5h-1.5zM823.1 384.3h1.5v1.5h-1.5zM952.3 376.1h1.5v1.5h-1.5zM872.5 394.2h1.5v1.5h-1.5zM943.1 370.8h1.5v1.5h-1.5zM773.8 374.7h1.5v1.5h-1.5zM767.5 376.3h1.5v1.5h-1.5zM811.2 365.8h1.5v1.5h-1.5zM900.3 355.7h1.5v1.5h-1.5zM927.3 372.3h1.5v1.5h-1.5zM911.2 394.3h1.5v1.5h-1.5zM850.4 343.3h1.5v1.5h-1.5zM886.9 349.8h1.5v1.5h-1.5zM890.3 318.5h1.5v1.5h-1.5zM896.7 364.9h1.5v1.5h-1.5zM928.7 393.9h1.5v1.5h-1.5zM877.6 323.8h1.5v1.5h-1.5zM814.0 388.5h1.5v1.5h-1.5zM886.9 384.0h1.5v1.5h-1.5zM814.0 415.3h1.5v1.5h-1.5zM840.3 392.7h1.5v1.5h-1.5zM825.9 389.4h1.5v1.5h-1.5zM842.9 415.1h1.5v1.5h-1.5zM823.7 407.4h1.5v1.5h-1.5zM831.4 405.2h1.5v1.5h-1.5zM805.5 415.8h1.5v1.5h-1.5zM844.8 397.6h1.5v1.5h-1.5zM858.9 392.1h1.5v1.5h-1.5zM848.8 402.3h1.5v1.5h-1.5zM831.4 397.8h1.5v1.5h-1.5zM884.6 400.9h1.5v1.5h-1.5zM865.3 400.6h1.5v1.5h-1.5zM903.4 373.8h1.5v1.5h-1.5zM761.3 420.9h1.5v1.5h-1.5zM770.2 413.9h1.5v1.5h-1.5zM763.4 379.5h1.5v1.5h-1.5zM736.2 407.6h1.5v1.5h-1.5zM850.9 383.7h1.5v1.5h-1.5zM879.2 405.6h1.5v1.5h-1.5zM876.4 400.9h1.5v1.5h-1.5zM889.0 386.9h1.5v1.5h-1.5zM808.8 378.2h1.5v1.5h-1.5zM898.4 407.5h1.5v1.5h-1.5zM867.6 396.5h1.5v1.5h-1.5zM843.0 383.4h1.5v1.5h-1.5zM768.7 422.6h1.5v1.5h-1.5zM738.9 397.3h1.5v1.5h-1.5zM779.0 385.9h1.5v1.5h-1.5zM850.9 392.4h1.5v1.5h-1.5zM846.4 395.9h1.5v1.5h-1.5zM811.7 385.6h1.5v1.5h-1.5zM905.2 404.3h1.5v1.5h-1.5zM843.7 421.1h1.5v1.5h-1.5zM904.1 408.9h1.5v1.5h-1.5zM850.2 385.4h1.5v1.5h-1.5zM810.8 417.6h1.5v1.5h-1.5zM907.5 378.8h1.5v1.5h-1.5zM844.8 378.4h1.5v1.5h-1.5zM811.4 405.4h1.5v1.5h-1.5zM828.8 407.0h1.5v1.5h-1.5zM824.8 412.0h1.5v1.5h-1.5zM868.9 416.2h1.5v1.5h-1.5zM826.1 386.9h1.5v1.5h-1.5zM835.9 404.1h1.5v1.5h-1.5zM863.7 389.4h1.5v1.5h-1.5zM879.9 393.7h1.5v1.5h-1.5zM870.5 403.2h1.5v1.5h-1.5zM844.6 409.7h1.5v1.5h-1.5zM864.9 384.6h1.5v1.5h-1.5zM852.5 399.8h1.5v1.5h-1.5zM854.6 404.4h1.5v1.5h-1.5zM869.5 408.2h1.5v1.5h-1.5zM834.7 385.5h1.5v1.5h-1.5zM884.2 407.8h1.5v1.5h-1.5zM837.1 411.2h1.5v1.5h-1.5zM887.0 385.9h1.5v1.5h-1.5zM855.8 415.2h1.5v1.5h-1.5zM858.7 384.3h1.5v1.5h-1.5zM860.6 399.4h1.5v1.5h-1.5zM831.9 390.5h1.5v1.5h-1.5zM822.5 389.4h1.5v1.5h-1.5zM851.2 379.5h1.5v1.5h-1.5zM813.1 389.6h1.5v1.5h-1.5zM821.3 400.5h1.5v1.5h-1.5zM841.2 375.7h1.5v1.5h-1.5zM856.1 383.4h1.5v1.5h-1.5zM883.7 399.4h1.5v1.5h-1.5zM859.5 404.5h1.5v1.5h-1.5zM878.3 404.5h1.5v1.5h-1.5zM847.3 376.8h1.5v1.5h-1.5zM892.9 400.3h1.5v1.5h-1.5zM893.5 396.4h1.5v1.5h-1.5zM777.3 440.6h1.5v1.5h-1.5zM762.0 382.9h1.5v1.5h-1.5zM808.3 414.9h1.5v1.5h-1.5zM880.5 404.7h1.5v1.5h-1.5zM831.0 405.2h1.5v1.5h-1.5zM826.1 397.7h1.5v1.5h-1.5zM797.7 419.6h1.5v1.5h-1.5zM863.1 395.3h1.5v1.5h-1.5zM844.6 376.0h1.5v1.5h-1.5zM889.0 383.1h1.5v1.5h-1.5zM851.9 375.8h1.5v1.5h-1.5zM814.1 409.7h1.5v1.5h-1.5zM838.2 399.5h1.5v1.5h-1.5zM845.7 408.0h1.5v1.5h-1.5zM820.9 394.0h1.5v1.5h-1.5zM758.1 388.5h1.5v1.5h-1.5zM858.4 400.4h1.5v1.5h-1.5zM886.5 393.7h1.5v1.5h-1.5zM841.3 384.1h1.5v1.5h-1.5zM818.7 386.5h1.5v1.5h-1.5zM862.4 375.3h1.5v1.5h-1.5zM895.4 380.2h1.5v1.5h-1.5zM845.9 386.1h1.5v1.5h-1.5zM848.9 405.6h1.5v1.5h-1.5zM872.7 399.6h1.5v1.5h-1.5zM766.9 395.0h1.5v1.5h-1.5zM756.6 397.2h1.5v1.5h-1.5zM800.5 416.7h1.5v1.5h-1.5zM843.1 397.0h1.5v1.5h-1.5zM862.9 382.3h1.5v1.5h-1.5zM899.2 380.7h1.5v1.5h-1.5zM857.4 381.4h1.5v1.5h-1.5zM864.8 401.0h1.5v1.5h-1.5zM857.7 400.6h1.5v1.5h-1.5zM885.4 382.7h1.5v1.5h-1.5zM845.5 409.8h1.5v1.5h-1.5zM855.6 399.6h1.5v1.5h-1.5zM827.5 383.9h1.5v1.5h-1.5zM822.3 404.8h1.5v1.5h-1.5zM884.2 383.5h1.5v1.5h-1.5zM819.3 392.0h1.5v1.5h-1.5zM825.2 408.0h1.5v1.5h-1.5zM861.0 385.3h1.5v1.5h-1.5zM854.6 413.0h1.5v1.5h-1.5zM861.6 402.0h1.5v1.5h-1.5zM822.9 383.3h1.5v1.5h-1.5zM834.1 406.1h1.5v1.5h-1.5zM856.0 382.7h1.5v1.5h-1.5zM830.5 390.6h1.5v1.5h-1.5zM871.8 383.6h1.5v1.5h-1.5zM758.3 380.2h1.5v1.5h-1.5zM808.0 390.1h1.5v1.5h-1.5zM856.5 396.0h1.5v1.5h-1.5zM819.6 395.3h1.5v1.5h-1.5zM897.1 389.5h1.5v1.5h-1.5zM775.6 423.4h1.5v1.5h-1.5zM778.2 414.3h1.5v1.5h-1.5zM768.7 402.2h1.5v1.5h-1.5zM843.1 409.1h1.5v1.5h-1.5zM866.4 381.4h1.5v1.5h-1.5zM817.5 411.8h1.5v1.5h-1.5zM865.3 402.2h1.5v1.5h-1.5zM884.8 393.8h1.5v1.5h-1.5zM835.4 400.4h1.5v1.5h-1.5zM844.3 380.9h1.5v1.5h-1.5zM814.2 386.7h1.5v1.5h-1.5zM832.3 386.7h1.5v1.5h-1.5zM874.7 413.5h1.5v1.5h-1.5zM904.1 300.7h1.5v1.5h-1.5zM829.4 418.6h1.5v1.5h-1.5zM889.2 404.7h1.5v1.5h-1.5zM838.8 409.3h1.5v1.5h-1.5zM804.9 395.7h1.5v1.5h-1.5zM892.4 387.6h1.5v1.5h-1.5zM882.4 382.9h1.5v1.5h-1.5zM869.0 393.0h1.5v1.5h-1.5zM817.9 414.0h1.5v1.5h-1.5zM837.5 403.7h1.5v1.5h-1.5zM926.0 274.3h1.5v1.5h-1.5zM807.0 379.7h1.5v1.5h-1.5zM909.9 357.5h1.5v1.5h-1.5zM954.7 283.3h1.5v1.5h-1.5zM934.5 320.2h1.5v1.5h-1.5zM935.0 309.8h1.5v1.5h-1.5zM898.2 310.4h1.5v1.5h-1.5zM961.0 320.0h1.5v1.5h-1.5zM888.1 395.6h1.5v1.5h-1.5zM834.5 405.2h1.5v1.5h-1.5zM876.3 414.4h1.5v1.5h-1.5zM881.7 393.2h1.5v1.5h-1.5zM832.9 406.8h1.5v1.5h-1.5zM811.9 401.2h1.5v1.5h-1.5zM833.7 388.3h1.5v1.5h-1.5zM855.7 397.3h1.5v1.5h-1.5zM872.9 389.5h1.5v1.5h-1.5zM894.0 323.6h1.5v1.5h-1.5zM848.1 396.7h1.5v1.5h-1.5zM821.2 413.2h1.5v1.5h-1.5zM820.2 401.5h1.5v1.5h-1.5zM878.4 400.3h1.5v1.5h-1.5zM790.1 424.3h1.5v1.5h-1.5zM867.8 399.3h1.5v1.5h-1.5zM896.7 407.0h1.5v1.5h-1.5zM864.9 405.9h1.5v1.5h-1.5zM905.1 248.3h1.5v1.5h-1.5zM910.8 317.0h1.5v1.5h-1.5zM920.7 336.6h1.5v1.5h-1.5zM967.2 318.6h1.5v1.5h-1.5zM900.6 309.8h1.5v1.5h-1.5zM887.5 278.6h1.5v1.5h-1.5zM896.6 341.5h1.5v1.5h-1.5zM916.3 345.4h1.5v1.5h-1.5zM939.6 351.8h1.5v1.5h-1.5zM908.7 307.9h1.5v1.5h-1.5zM934.4 323.4h1.5v1.5h-1.5zM940.0 317.2h1.5v1.5h-1.5zM925.5 243.9h1.5v1.5h-1.5zM906.9 297.9h1.5v1.5h-1.5zM909.2 312.0h1.5v1.5h-1.5zM882.4 349.6h1.5v1.5h-1.5zM937.2 300.8h1.5v1.5h-1.5zM964.7 329.5h1.5v1.5h-1.5zM904.7 355.9h1.5v1.5h-1.5zM930.8 348.9h1.5v1.5h-1.5zM967.0 323.5h1.5v1.5h-1.5zM907.2 347.2h1.5v1.5h-1.5zM944.2 291.4h1.5v1.5h-1.5zM947.2 298.5h1.5v1.5h-1.5zM922.6 322.8h1.5v1.5h-1.5zM904.6 337.4h1.5v1.5h-1.5zM905.7 322.7h1.5v1.5h-1.5zM875.0 402.9h1.5v1.5h-1.5zM914.3 322.3h1.5v1.5h-1.5zM903.0 290.8h1.5v1.5h-1.5zM923.2 293.9h1.5v1.5h-1.5zM922.2 308.6h1.5v1.5h-1.5zM927.3 326.3h1.5v1.5h-1.5zM893.4 346.6h1.5v1.5h-1.5zM901.2 291.7h1.5v1.5h-1.5zM854.5 385.0h1.5v1.5h-1.5zM876.0 413.7h1.5v1.5h-1.5zM876.9 390.9h1.5v1.5h-1.5zM820.7 393.8h1.5v1.5h-1.5zM870.6 393.0h1.5v1.5h-1.5zM877.4 397.6h1.5v1.5h-1.5zM844.7 411.2h1.5v1.5h-1.5zM811.5 414.7h1.5v1.5h-1.5zM867.4 409.5h1.5v1.5h-1.5zM907.6 404.9h1.5v1.5h-1.5zM832.7 418.8h1.5v1.5h-1.5zM835.9 418.8h1.5v1.5h-1.5zM870.8 393.1h1.5v1.5h-1.5zM862.7 412.0h1.5v1.5h-1.5zM829.7 412.7h1.5v1.5h-1.5zM817.2 396.7h1.5v1.5h-1.5zM845.4 377.4h1.5v1.5h-1.5zM854.8 414.3h1.5v1.5h-1.5zM815.5 411.9h1.5v1.5h-1.5zM854.6 406.2h1.5v1.5h-1.5zM902.8 394.7h1.5v1.5h-1.5zM815.9 389.3h1.5v1.5h-1.5zM800.5 410.6h1.5v1.5h-1.5zM828.4 405.1h1.5v1.5h-1.5zM868.7 404.1h1.5v1.5h-1.5zM862.1 391.4h1.5v1.5h-1.5zM855.1 400.4h1.5v1.5h-1.5zM861.1 411.6h1.5v1.5h-1.5zM809.1 386.2h1.5v1.5h-1.5zM874.7 391.5h1.5v1.5h-1.5zM849.8 404.6h1.5v1.5h-1.5zM814.9 410.7h1.5v1.5h-1.5zM815.0 384.6h1.5v1.5h-1.5zM846.9 399.1h1.5v1.5h-1.5zM886.8 406.2h1.5v1.5h-1.5zM894.0 390.2h1.5v1.5h-1.5zM854.2 420.7h1.5v1.5h-1.5zM848.6 406.4h1.5v1.5h-1.5zM830.2 390.8h1.5v1.5h-1.5zM877.0 390.7h1.5v1.5h-1.5zM893.3 394.8h1.5v1.5h-1.5zM870.2 390.2h1.5v1.5h-1.5zM899.7 385.6h1.5v1.5h-1.5zM868.1 400.3h1.5v1.5h-1.5zM845.9 406.3h1.5v1.5h-1.5zM897.1 387.6h1.5v1.5h-1.5zM874.9 414.0h1.5v1.5h-1.5zM829.0 401.5h1.5v1.5h-1.5zM807.9 408.8h1.5v1.5h-1.5zM898.7 405.0h1.5v1.5h-1.5zM828.3 383.4h1.5v1.5h-1.5zM848.3 383.3h1.5v1.5h-1.5zM848.0 388.1h1.5v1.5h-1.5zM795.2 378.0h1.5v1.5h-1.5zM836.9 387.0h1.5v1.5h-1.5zM832.0 397.8h1.5v1.5h-1.5zM829.3 410.6h1.5v1.5h-1.5zM880.4 384.2h1.5v1.5h-1.5zM808.7 419.0h1.5v1.5h-1.5zM845.3 404.2h1.5v1.5h-1.5zM823.9 401.6h1.5v1.5h-1.5zM892.7 404.4h1.5v1.5h-1.5zM804.1 417.1h1.5v1.5h-1.5zM875.9 399.6h1.5v1.5h-1.5zM853.8 405.8h1.5v1.5h-1.5zM852.7 397.1h1.5v1.5h-1.5zM836.8 410.7h1.5v1.5h-1.5zM819.4 405.9h1.5v1.5h-1.5zM826.9 398.1h1.5v1.5h-1.5zM811.3 385.7h1.5v1.5h-1.5zM824.5 417.0h1.5v1.5h-1.5zM836.4 384.0h1.5v1.5h-1.5zM888.3 396.7h1.5v1.5h-1.5zM858.6 397.2h1.5v1.5h-1.5zM757.9 402.2h1.5v1.5h-1.5zM808.2 414.4h1.5v1.5h-1.5zM820.1 396.6h1.5v1.5h-1.5zM830.6 402.4h1.5v1.5h-1.5zM848.5 400.1h1.5v1.5h-1.5zM872.5 364.8h1.5v1.5h-1.5zM870.0 379.2h1.5v1.5h-1.5zM845.4 387.6h1.5v1.5h-1.5zM808.9 397.8h1.5v1.5h-1.5zM839.8 389.2h1.5v1.5h-1.5zM881.0 390.6h1.5v1.5h-1.5zM904.4 405.5h1.5v1.5h-1.5zM848.6 403.7h1.5v1.5h-1.5zM846.7 382.3h1.5v1.5h-1.5zM889.5 383.1h1.5v1.5h-1.5zM907.3 389.3h1.5v1.5h-1.5zM817.6 386.8h1.5v1.5h-1.5zM870.0 388.4h1.5v1.5h-1.5zM863.9 392.7h1.5v1.5h-1.5zM845.6 388.4h1.5v1.5h-1.5zM817.7 411.6h1.5v1.5h-1.5zM800.5 421.1h1.5v1.5h-1.5zM863.6 401.2h1.5v1.5h-1.5zM870.1 421.6h1.5v1.5h-1.5zM892.4 393.6h1.5v1.5h-1.5zM826.6 400.4h1.5v1.5h-1.5zM881.7 402.0h1.5v1.5h-1.5zM830.3 414.4h1.5v1.5h-1.5zM879.0 403.2h1.5v1.5h-1.5zM875.1 381.0h1.5v1.5h-1.5zM876.2 384.6h1.5v1.5h-1.5zM819.7 409.0h1.5v1.5h-1.5zM840.2 400.8h1.5v1.5h-1.5zM899.2 394.0h1.5v1.5h-1.5zM874.8 397.8h1.5v1.5h-1.5zM857.6 388.0h1.5v1.5h-1.5zM842.3 401.5h1.5v1.5h-1.5zM835.9 400.0h1.5v1.5h-1.5zM836.0 381.3h1.5v1.5h-1.5zM860.8 407.1h1.5v1.5h-1.5zM839.2 388.9h1.5v1.5h-1.5zM796.6 413.7h1.5v1.5h-1.5zM827.1 409.4h1.5v1.5h-1.5zM892.1 395.6h1.5v1.5h-1.5zM858.5 383.3h1.5v1.5h-1.5zM857.3 401.4h1.5v1.5h-1.5zM792.9 422.8h1.5v1.5h-1.5zM839.5 402.1h1.5v1.5h-1.5zM826.3 410.9h1.5v1.5h-1.5zM876.1 395.0h1.5v1.5h-1.5zM824.9 404.2h1.5v1.5h-1.5zM869.5 384.9h1.5v1.5h-1.5zM868.2 409.0h1.5v1.5h-1.5zM832.5 411.5h1.5v1.5h-1.5zM826.7 391.3h1.5v1.5h-1.5zM877.0 401.4h1.5v1.5h-1.5zM879.7 399.8h1.5v1.5h-1.5zM840.0 394.3h1.5v1.5h-1.5zM833.9 411.8h1.5v1.5h-1.5zM806.5 375.9h1.5v1.5h-1.5zM870.4 380.0h1.5v1.5h-1.5zM793.2 375.6h1.5v1.5h-1.5zM826.2 396.8h1.5v1.5h-1.5zM770.9 380.2h1.5v1.5h-1.5zM755.8 413.0h1.5v1.5h-1.5zM804.9 407.3h1.5v1.5h-1.5zM857.3 392.9h1.5v1.5h-1.5zM924.0 389.0h1.5v1.5h-1.5zM911.1 394.1h1.5v1.5h-1.5zM753.3 384.1h1.5v1.5h-1.5zM767.2 395.4h1.5v1.5h-1.5zM778.6 368.9h1.5v1.5h-1.5zM764.9 380.8h1.5v1.5h-1.5zM922.5 368.2h1.5v1.5h-1.5zM965.4 383.2h1.5v1.5h-1.5zM894.5 397.3h1.5v1.5h-1.5zM894.9 408.3h1.5v1.5h-1.5zM934.7 395.7h1.5v1.5h-1.5zM934.7 383.7h1.5v1.5h-1.5zM887.6 387.6h1.5v1.5h-1.5zM899.4 369.0h1.5v1.5h-1.5zM937.9 408.7h1.5v1.5h-1.5zM896.4 376.2h1.5v1.5h-1.5zM880.9 387.1h1.5v1.5h-1.5zM928.6 398.5h1.5v1.5h-1.5zM881.4 399.7h1.5v1.5h-1.5zM945.3 390.9h1.5v1.5h-1.5zM889.8 383.9h1.5v1.5h-1.5zM919.0 388.6h1.5v1.5h-1.5zM882.1 395.2h1.5v1.5h-1.5zM965.3 378.2h1.5v1.5h-1.5zM919.8 406.9h1.5v1.5h-1.5zM946.5 394.2h1.5v1.5h-1.5zM897.3 403.9h1.5v1.5h-1.5zM916.3 386.3h1.5v1.5h-1.5zM903.7 385.8h1.5v1.5h-1.5zM925.9 391.0h1.5v1.5h-1.5zM943.6 385.8h1.5v1.5h-1.5zM916.1 401.1h1.5v1.5h-1.5zM914.9 392.0h1.5v1.5h-1.5zM894.0 380.1h1.5v1.5h-1.5zM904.3 415.2h1.5v1.5h-1.5zM888.7 386.5h1.5v1.5h-1.5zM804.6 389.2h1.5v1.5h-1.5zM860.5 404.8h1.5v1.5h-1.5zM861.0 411.4h1.5v1.5h-1.5zM875.1 399.7h1.5v1.5h-1.5zM865.5 386.7h1.5v1.5h-1.5zM801.4 376.5h1.5v1.5h-1.5zM849.5 404.4h1.5v1.5h-1.5zM821.1 393.6h1.5v1.5h-1.5zM809.4 410.6h1.5v1.5h-1.5zM863.0 389.4h1.5v1.5h-1.5zM814.4 386.8h1.5v1.5h-1.5zM870.9 396.7h1.5v1.5h-1.5zM851.0 412.8h1.5v1.5h-1.5zM877.5 408.7h1.5v1.5h-1.5zM864.7 404.5h1.5v1.5h-1.5zM832.6 411.7h1.5v1.5h-1.5zM855.2 411.5h1.5v1.5h-1.5zM848.3 405.9h1.5v1.5h-1.5zM756.5 411.2h1.5v1.5h-1.5zM901.8 389.9h1.5v1.5h-1.5zM961.6 391.1h1.5v1.5h-1.5zM946.7 392.5h1.5v1.5h-1.5zM882.2 379.1h1.5v1.5h-1.5zM918.5 401.5h1.5v1.5h-1.5zM909.0 393.7h1.5v1.5h-1.5zM950.9 421.1h1.5v1.5h-1.5zM958.3 400.4h1.5v1.5h-1.5zM903.6 375.1h1.5v1.5h-1.5zM752.9 389.4h1.5v1.5h-1.5zM931.8 397.6h1.5v1.5h-1.5zM934.3 396.9h1.5v1.5h-1.5zM922.8 393.0h1.5v1.5h-1.5zM900.4 425.9h1.5v1.5h-1.5zM908.0 408.2h1.5v1.5h-1.5zM817.4 385.3h1.5v1.5h-1.5zM775.0 422.8h1.5v1.5h-1.5zM812.8 406.9h1.5v1.5h-1.5zM807.5 412.8h1.5v1.5h-1.5zM835.1 394.0h1.5v1.5h-1.5zM850.6 409.1h1.5v1.5h-1.5zM874.7 413.2h1.5v1.5h-1.5zM836.3 403.5h1.5v1.5h-1.5zM820.4 381.3h1.5v1.5h-1.5zM791.3 377.0h1.5v1.5h-1.5zM820.9 397.7h1.5v1.5h-1.5zM763.6 422.7h1.5v1.5h-1.5zM758.6 412.2h1.5v1.5h-1.5zM801.0 379.8h1.5v1.5h-1.5zM758.3 396.5h1.5v1.5h-1.5zM823.9 383.5h1.5v1.5h-1.5zM841.1 396.9h1.5v1.5h-1.5zM846.1 391.8h1.5v1.5h-1.5zM895.3 376.1h1.5v1.5h-1.5zM859.8 377.7h1.5v1.5h-1.5zM746.8 408.7h1.5v1.5h-1.5zM901.2 382.7h1.5v1.5h-1.5zM877.6 382.3h1.5v1.5h-1.5zM869.0 404.6h1.5v1.5h-1.5zM885.4 383.1h1.5v1.5h-1.5zM861.0 381.0h1.5v1.5h-1.5zM831.1 392.9h1.5v1.5h-1.5zM838.0 406.6h1.5v1.5h-1.5zM842.1 404.9h1.5v1.5h-1.5zM856.6 390.8h1.5v1.5h-1.5zM856.5 386.8h1.5v1.5h-1.5zM855.8 392.4h1.5v1.5h-1.5zM882.1 376.6h1.5v1.5h-1.5zM853.4 371.5h1.5v1.5h-1.5zM863.4 402.3h1.5v1.5h-1.5zM843.4 401.1h1.5v1.5h-1.5zM808.4 411.4h1.5v1.5h-1.5zM815.5 380.9h1.5v1.5h-1.5zM867.9 392.2h1.5v1.5h-1.5zM818.9 409.5h1.5v1.5h-1.5zM884.1 378.3h1.5v1.5h-1.5zM824.4 403.1h1.5v1.5h-1.5zM814.3 398.4h1.5v1.5h-1.5zM822.7 386.5h1.5v1.5h-1.5zM871.5 401.6h1.5v1.5h-1.5zM826.2 417.7h1.5v1.5h-1.5zM874.3 383.2h1.5v1.5h-1.5zM811.4 390.2h1.5v1.5h-1.5zM823.5 394.9h1.5v1.5h-1.5zM883.5 391.5h1.5v1.5h-1.5zM823.9 397.3h1.5v1.5h-1.5zM858.8 424.6h1.5v1.5h-1.5zM815.0 419.2h1.5v1.5h-1.5zM820.4 405.4h1.5v1.5h-1.5zM859.7 405.2h1.5v1.5h-1.5zM865.4 387.6h1.5v1.5h-1.5zM847.0 396.6h1.5v1.5h-1.5zM840.7 408.8h1.5v1.5h-1.5zM838.7 385.9h1.5v1.5h-1.5zM817.3 403.7h1.5v1.5h-1.5zM859.4 408.7h1.5v1.5h-1.5zM880.2 405.5h1.5v1.5h-1.5zM880.6 418.6h1.5v1.5h-1.5zM858.9 393.3h1.5v1.5h-1.5zM790.6 377.4h1.5v1.5h-1.5zM865.1 382.6h1.5v1.5h-1.5zM834.3 412.5h1.5v1.5h-1.5zM870.0 408.2h1.5v1.5h-1.5zM761.7 418.6h1.5v1.5h-1.5zM844.6 388.8h1.5v1.5h-1.5zM851.8 378.3h1.5v1.5h-1.5zM893.9 368.8h1.5v1.5h-1.5zM866.7 405.4h1.5v1.5h-1.5zM893.2 383.4h1.5v1.5h-1.5zM857.3 386.9h1.5v1.5h-1.5zM840.8 382.2h1.5v1.5h-1.5zM868.0 391.6h1.5v1.5h-1.5zM889.0 400.6h1.5v1.5h-1.5zM826.4 419.2h1.5v1.5h-1.5zM848.5 396.4h1.5v1.5h-1.5zM909.2 390.0h1.5v1.5h-1.5zM830.7 368.4h1.5v1.5h-1.5zM871.7 390.7h1.5v1.5h-1.5zM885.7 388.7h1.5v1.5h-1.5zM825.6 392.0h1.5v1.5h-1.5zM782.1 423.4h1.5v1.5h-1.5zM823.9 407.9h1.5v1.5h-1.5zM877.0 405.6h1.5v1.5h-1.5zM842.6 387.5h1.5v1.5h-1.5zM889.8 395.6h1.5v1.5h-1.5zM808.6 393.2h1.5v1.5h-1.5zM843.4 409.4h1.5v1.5h-1.5zM812.8 409.0h1.5v1.5h-1.5zM836.3 404.8h1.5v1.5h-1.5zM893.4 403.7h1.5v1.5h-1.5zM883.2 397.8h1.5v1.5h-1.5zM829.9 410.3h1.5v1.5h-1.5zM857.2 387.8h1.5v1.5h-1.5zM834.7 382.2h1.5v1.5h-1.5zM818.7 388.1h1.5v1.5h-1.5zM838.8 422.2h1.5v1.5h-1.5zM808.4 390.0h1.5v1.5h-1.5zM772.5 418.9h1.5v1.5h-1.5zM752.4 419.9h1.5v1.5h-1.5zM776.0 418.5h1.5v1.5h-1.5zM813.7 382.5h1.5v1.5h-1.5zM905.5 395.6h1.5v1.5h-1.5zM850.3 396.3h1.5v1.5h-1.5zM811.2 408.8h1.5v1.5h-1.5zM845.5 374.8h1.5v1.5h-1.5zM811.4 412.7h1.5v1.5h-1.5zM826.9 402.8h1.5v1.5h-1.5zM860.7 402.6h1.5v1.5h-1.5zM880.0 388.8h1.5v1.5h-1.5zM822.1 387.2h1.5v1.5h-1.5zM839.8 396.2h1.5v1.5h-1.5zM841.6 409.0h1.5v1.5h-1.5zM889.9 400.3h1.5v1.5h-1.5zM823.5 408.7h1.5v1.5h-1.5zM856.9 407.0h1.5v1.5h-1.5zM815.0 384.5h1.5v1.5h-1.5zM833.4 385.0h1.5v1.5h-1.5zM807.0 381.0h1.5v1.5h-1.5zM769.7 374.1h1.5v1.5h-1.5zM762.4 401.3h1.5v1.5h-1.5zM897.0 386.1h1.5v1.5h-1.5zM881.9 396.9h1.5v1.5h-1.5zM841.3 420.3h1.5v1.5h-1.5zM824.7 383.8h1.5v1.5h-1.5zM819.0 392.3h1.5v1.5h-1.5zM833.7 429.7h1.5v1.5h-1.5zM853.4 390.4h1.5v1.5h-1.5zM862.9 374.6h1.5v1.5h-1.5zM901.0 401.0h1.5v1.5h-1.5zM798.7 376.9h1.5v1.5h-1.5zM810.4 395.3h1.5v1.5h-1.5zM797.2 381.9h1.5v1.5h-1.5zM780.3 376.2h1.5v1.5h-1.5zM850.7 411.6h1.5v1.5h-1.5zM885.6 383.7h1.5v1.5h-1.5zM886.2 424.1h1.5v1.5h-1.5zM847.1 396.2h1.5v1.5h-1.5zM929.2 317.1h1.5v1.5h-1.5zM770.7 417.2h1.5v1.5h-1.5zM760.5 400.1h1.5v1.5h-1.5zM768.5 410.2h1.5v1.5h-1.5zM863.7 253.5h1.5v1.5h-1.5zM838.8 256.9h1.5v1.5h-1.5zM891.1 279.1h1.5v1.5h-1.5zM917.6 245.8h1.5v1.5h-1.5zM935.5 354.5h1.5v1.5h-1.5zM771.9 391.7h1.5v1.5h-1.5zM967.2 320.6h1.5v1.5h-1.5zM935.3 304.2h1.5v1.5h-1.5zM908.4 300.6h1.5v1.5h-1.5zM909.3 275.7h1.5v1.5h-1.5zM923.8 302.7h1.5v1.5h-1.5zM944.8 329.3h1.5v1.5h-1.5zM901.4 281.9h1.5v1.5h-1.5zM878.0 293.7h1.5v1.5h-1.5zM924.6 312.0h1.5v1.5h-1.5zM910.5 311.5h1.5v1.5h-1.5zM936.9 280.4h1.5v1.5h-1.5zM949.8 340.8h1.5v1.5h-1.5zM920.1 324.7h1.5v1.5h-1.5zM940.3 321.9h1.5v1.5h-1.5zM952.3 290.5h1.5v1.5h-1.5zM873.0 316.5h1.5v1.5h-1.5zM962.3 291.8h1.5v1.5h-1.5zM924.5 311.3h1.5v1.5h-1.5zM923.4 345.5h1.5v1.5h-1.5zM948.4 286.6h1.5v1.5h-1.5zM944.9 270.1h1.5v1.5h-1.5zM928.3 292.0h1.5v1.5h-1.5zM769.8 379.9h1.5v1.5h-1.5zM800.7 414.0h1.5v1.5h-1.5zM762.9 410.6h1.5v1.5h-1.5zM761.1 426.8h1.5v1.5h-1.5zM874.0 256.7h1.5v1.5h-1.5zM855.7 207.6h1.5v1.5h-1.5zM858.7 281.8h1.5v1.5h-1.5zM859.6 205.9h1.5v1.5h-1.5zM877.7 248.1h1.5v1.5h-1.5zM875.1 260.2h1.5v1.5h-1.5zM852.3 267.9h1.5v1.5h-1.5zM847.8 206.4h1.5v1.5h-1.5zM870.9 201.8h1.5v1.5h-1.5zM746.8 383.5h1.5v1.5h-1.5zM849.6 236.1h1.5v1.5h-1.5zM869.8 227.7h1.5v1.5h-1.5zM853.6 230.9h1.5v1.5h-1.5zM841.3 270.1h1.5v1.5h-1.5zM880.9 228.5h1.5v1.5h-1.5zM866.3 237.9h1.5v1.5h-1.5zM886.6 239.5h1.5v1.5h-1.5zM918.1 245.9h1.5v1.5h-1.5zM919.4 342.8h1.5v1.5h-1.5zM923.4 307.0h1.5v1.5h-1.5zM938.5 289.3h1.5v1.5h-1.5zM889.3 291.7h1.5v1.5h-1.5zM831.3 224.6h1.5v1.5h-1.5zM930.0 237.5h1.5v1.5h-1.5zM864.7 264.2h1.5v1.5h-1.5zM918.9 322.6h1.5v1.5h-1.5zM930.1 285.4h1.5v1.5h-1.5zM959.5 326.3h1.5v1.5h-1.5zM884.3 349.7h1.5v1.5h-1.5zM877.6 211.1h1.5v1.5h-1.5zM867.5 237.2h1.5v1.5h-1.5zM877.9 224.6h1.5v1.5h-1.5zM865.1 229.9h1.5v1.5h-1.5zM788.6 426.0h1.5v1.5h-1.5zM768.6 374.1h1.5v1.5h-1.5zM764.6 372.9h1.5v1.5h-1.5zM906.1 332.3h1.5v1.5h-1.5zM784.7 378.5h1.5v1.5h-1.5zM955.1 270.0h1.5v1.5h-1.5zM915.2 358.1h1.5v1.5h-1.5zM929.8 318.7h1.5v1.5h-1.5zM912.1 345.1h1.5v1.5h-1.5zM892.1 323.6h1.5v1.5h-1.5zM902.5 318.0h1.5v1.5h-1.5zM926.3 337.6h1.5v1.5h-1.5zM757.7 389.8h1.5v1.5h-1.5zM876.7 326.1h1.5v1.5h-1.5zM926.2 296.0h1.5v1.5h-1.5zM910.7 285.6h1.5v1.5h-1.5zM909.4 295.0h1.5v1.5h-1.5zM903.0 298.3h1.5v1.5h-1.5zM978.0 288.1h1.5v1.5h-1.5zM916.0 298.4h1.5v1.5h-1.5zM908.5 278.2h1.5v1.5h-1.5zM907.5 307.2h1.5v1.5h-1.5zM933.6 283.3h1.5v1.5h-1.5zM919.9 319.2h1.5v1.5h-1.5zM905.4 312.2h1.5v1.5h-1.5zM914.3 310.8h1.5v1.5h-1.5zM918.9 317.3h1.5v1.5h-1.5zM927.8 334.9h1.5v1.5h-1.5zM934.5 287.1h1.5v1.5h-1.5zM932.3 324.1h1.5v1.5h-1.5zM950.0 334.9h1.5v1.5h-1.5zM931.2 336.3h1.5v1.5h-1.5zM930.3 341.4h1.5v1.5h-1.5zM933.9 316.8h1.5v1.5h-1.5zM902.8 299.7h1.5v1.5h-1.5zM867.8 306.9h1.5v1.5h-1.5zM948.4 279.4h1.5v1.5h-1.5zM912.6 350.7h1.5v1.5h-1.5zM760.6 413.8h1.5v1.5h-1.5zM879.6 275.9h1.5v1.5h-1.5zM891.2 246.8h1.5v1.5h-1.5zM865.0 218.4h1.5v1.5h-1.5zM879.2 264.5h1.5v1.5h-1.5zM851.1 199.8h1.5v1.5h-1.5zM944.1 318.2h1.5v1.5h-1.5zM965.2 329.3h1.5v1.5h-1.5zM906.5 269.8h1.5v1.5h-1.5zM935.8 322.4h1.5v1.5h-1.5zM760.3 392.8h1.5v1.5h-1.5zM894.2 317.2h1.5v1.5h-1.5zM917.2 352.1h1.5v1.5h-1.5zM917.5 314.2h1.5v1.5h-1.5zM880.5 346.4h1.5v1.5h-1.5zM913.5 330.1h1.5v1.5h-1.5zM868.1 316.7h1.5v1.5h-1.5zM914.5 274.2h1.5v1.5h-1.5zM916.1 327.9h1.5v1.5h-1.5zM892.9 345.9h1.5v1.5h-1.5zM913.8 321.3h1.5v1.5h-1.5zM929.0 332.7h1.5v1.5h-1.5zM894.4 307.5h1.5v1.5h-1.5zM928.9 360.6h1.5v1.5h-1.5zM916.0 317.1h1.5v1.5h-1.5zM957.1 331.9h1.5v1.5h-1.5zM927.0 302.4h1.5v1.5h-1.5zM899.5 285.5h1.5v1.5h-1.5zM877.1 223.1h1.5v1.5h-1.5zM904.9 312.1h1.5v1.5h-1.5zM962.7 287.7h1.5v1.5h-1.5zM893.1 326.5h1.5v1.5h-1.5zM907.9 306.1h1.5v1.5h-1.5zM932.8 309.7h1.5v1.5h-1.5zM915.2 366.2h1.5v1.5h-1.5zM758.3 388.5h1.5v1.5h-1.5zM798.8 374.0h1.5v1.5h-1.5zM898.9 241.8h1.5v1.5h-1.5zM855.2 263.6h1.5v1.5h-1.5zM864.8 234.0h1.5v1.5h-1.5zM880.5 235.2h1.5v1.5h-1.5zM852.3 221.4h1.5v1.5h-1.5zM875.5 270.9h1.5v1.5h-1.5zM862.4 231.4h1.5v1.5h-1.5zM922.2 253.2h1.5v1.5h-1.5zM900.3 223.7h1.5v1.5h-1.5zM871.9 246.3h1.5v1.5h-1.5zM834.5 228.6h1.5v1.5h-1.5zM874.0 221.6h1.5v1.5h-1.5zM888.0 261.0h1.5v1.5h-1.5zM873.7 232.9h1.5v1.5h-1.5zM878.0 231.3h1.5v1.5h-1.5zM877.6 200.4h1.5v1.5h-1.5zM900.3 251.9h1.5v1.5h-1.5zM873.5 283.7h1.5v1.5h-1.5zM857.9 221.0h1.5v1.5h-1.5zM857.0 224.5h1.5v1.5h-1.5zM884.4 251.1h1.5v1.5h-1.5zM873.3 247.9h1.5v1.5h-1.5zM858.8 263.7h1.5v1.5h-1.5zM907.2 259.4h1.5v1.5h-1.5zM861.2 228.7h1.5v1.5h-1.5zM864.0 225.3h1.5v1.5h-1.5zM878.9 242.1h1.5v1.5h-1.5zM908.4 225.3h1.5v1.5h-1.5zM857.4 198.1h1.5v1.5h-1.5zM873.6 238.0h1.5v1.5h-1.5zM900.9 269.4h1.5v1.5h-1.5zM874.2 207.7h1.5v1.5h-1.5zM840.6 231.3h1.5v1.5h-1.5zM899.3 272.0h1.5v1.5h-1.5zM858.0 250.9h1.5v1.5h-1.5zM849.4 221.4h1.5v1.5h-1.5zM851.9 205.2h1.5v1.5h-1.5zM838.6 218.0h1.5v1.5h-1.5zM814.3 200.0h1.5v1.5h-1.5zM899.8 258.3h1.5v1.5h-1.5zM886.3 218.0h1.5v1.5h-1.5zM877.4 234.5h1.5v1.5h-1.5zM881.7 278.9h1.5v1.5h-1.5zM859.1 230.1h1.5v1.5h-1.5zM897.6 208.9h1.5v1.5h-1.5zM876.3 244.0h1.5v1.5h-1.5zM874.8 233.3h1.5v1.5h-1.5zM852.3 242.5h1.5v1.5h-1.5zM866.1 283.2h1.5v1.5h-1.5zM880.4 199.2h1.5v1.5h-1.5zM903.4 239.3h1.5v1.5h-1.5zM747.5 386.0h1.5v1.5h-1.5zM785.3 377.6h1.5v1.5h-1.5zM797.1 420.8h1.5v1.5h-1.5zM853.6 225.0h1.5v1.5h-1.5zM803.8 377.1h1.5v1.5h-1.5zM753.8 398.9h1.5v1.5h-1.5zM875.8 268.2h1.5v1.5h-1.5zM868.8 238.4h1.5v1.5h-1.5zM896.2 247.1h1.5v1.5h-1.5zM877.6 233.1h1.5v1.5h-1.5zM865.0 254.7h1.5v1.5h-1.5zM905.4 239.2h1.5v1.5h-1.5zM864.3 245.9h1.5v1.5h-1.5zM890.6 259.2h1.5v1.5h-1.5zM863.4 221.8h1.5v1.5h-1.5zM883.9 279.2h1.5v1.5h-1.5zM856.7 251.2h1.5v1.5h-1.5zM863.0 247.6h1.5v1.5h-1.5zM868.8 211.6h1.5v1.5h-1.5zM862.4 228.2h1.5v1.5h-1.5zM873.4 192.5h1.5v1.5h-1.5zM876.5 218.9h1.5v1.5h-1.5zM889.4 234.0h1.5v1.5h-1.5zM873.1 257.0h1.5v1.5h-1.5zM844.5 276.6h1.5v1.5h-1.5zM880.6 225.0h1.5v1.5h-1.5zM892.3 215.0h1.5v1.5h-1.5zM843.2 228.8h1.5v1.5h-1.5zM860.1 269.6h1.5v1.5h-1.5zM872.5 261.6h1.5v1.5h-1.5zM872.0 190.8h1.5v1.5h-1.5zM879.0 226.1h1.5v1.5h-1.5zM895.2 236.1h1.5v1.5h-1.5zM879.4 247.2h1.5v1.5h-1.5zM872.5 208.9h1.5v1.5h-1.5zM856.0 254.5h1.5v1.5h-1.5zM904.0 281.1h1.5v1.5h-1.5zM873.0 226.3h1.5v1.5h-1.5zM906.4 243.8h1.5v1.5h-1.5zM836.3 272.4h1.5v1.5h-1.5zM843.1 273.5h1.5v1.5h-1.5zM891.1 239.1h1.5v1.5h-1.5zM903.0 258.6h1.5v1.5h-1.5zM850.5 229.1h1.5v1.5h-1.5zM871.5 211.8h1.5v1.5h-1.5zM844.1 251.2h1.5v1.5h-1.5zM918.2 248.7h1.5v1.5h-1.5zM877.1 205.3h1.5v1.5h-1.5zM896.2 283.4h1.5v1.5h-1.5zM858.0 199.1h1.5v1.5h-1.5zM829.1 208.4h1.5v1.5h-1.5zM902.7 205.9h1.5v1.5h-1.5zM886.5 205.1h1.5v1.5h-1.5zM765.0 403.9h1.5v1.5h-1.5zM866.7 274.4h1.5v1.5h-1.5zM890.7 254.8h1.5v1.5h-1.5zM898.3 243.7h1.5v1.5h-1.5zM879.5 267.9h1.5v1.5h-1.5zM851.5 243.7h1.5v1.5h-1.5zM892.7 241.3h1.5v1.5h-1.5zM871.7 258.8h1.5v1.5h-1.5zM897.8 250.9h1.5v1.5h-1.5zM877.4 262.6h1.5v1.5h-1.5zM866.3 248.2h1.5v1.5h-1.5zM880.0 257.6h1.5v1.5h-1.5zM885.0 233.3h1.5v1.5h-1.5zM846.1 240.1h1.5v1.5h-1.5zM843.9 238.4h1.5v1.5h-1.5zM845.4 223.0h1.5v1.5h-1.5zM831.9 236.7h1.5v1.5h-1.5zM877.1 244.9h1.5v1.5h-1.5zM894.6 239.3h1.5v1.5h-1.5zM885.3 268.0h1.5v1.5h-1.5zM870.1 236.6h1.5v1.5h-1.5zM876.8 290.4h1.5v1.5h-1.5zM874.5 233.8h1.5v1.5h-1.5zM900.6 289.7h1.5v1.5h-1.5zM893.2 236.2h1.5v1.5h-1.5zM874.7 224.6h1.5v1.5h-1.5zM938.3 260.5h1.5v1.5h-1.5zM900.5 216.2h1.5v1.5h-1.5zM919.6 196.6h1.5v1.5h-1.5zM882.6 227.1h1.5v1.5h-1.5zM877.9 205.9h1.5v1.5h-1.5zM921.2 303.0h1.5v1.5h-1.5zM849.3 231.6h1.5v1.5h-1.5zM750.3 387.6h1.5v1.5h-1.5zM761.2 383.2h1.5v1.5h-1.5zM775.1 380.4h1.5v1.5h-1.5zM868.0 265.8h1.5v1.5h-1.5zM838.3 238.4h1.5v1.5h-1.5zM822.7 201.0h1.5v1.5h-1.5zM846.8 235.4h1.5v1.5h-1.5zM890.3 308.6h1.5v1.5h-1.5zM901.7 316.7h1.5v1.5h-1.5zM951.6 324.0h1.5v1.5h-1.5zM918.3 288.8h1.5v1.5h-1.5zM895.6 341.9h1.5v1.5h-1.5zM947.1 325.1h1.5v1.5h-1.5zM927.0 331.0h1.5v1.5h-1.5zM960.3 305.2h1.5v1.5h-1.5zM760.2 420.3h1.5v1.5h-1.5zM895.5 333.0h1.5v1.5h-1.5zM914.7 312.7h1.5v1.5h-1.5zM903.8 303.6h1.5v1.5h-1.5zM936.3 335.3h1.5v1.5h-1.5zM936.7 268.0h1.5v1.5h-1.5zM912.3 301.7h1.5v1.5h-1.5zM898.6 306.1h1.5v1.5h-1.5zM930.5 298.2h1.5v1.5h-1.5zM897.7 326.1h1.5v1.5h-1.5zM930.3 366.5h1.5v1.5h-1.5zM902.9 310.0h1.5v1.5h-1.5zM904.7 294.7h1.5v1.5h-1.5zM937.3 286.9h1.5v1.5h-1.5zM892.2 298.3h1.5v1.5h-1.5zM918.0 344.3h1.5v1.5h-1.5zM932.4 316.6h1.5v1.5h-1.5zM932.7 269.4h1.5v1.5h-1.5zM922.5 298.5h1.5v1.5h-1.5zM931.5 292.0h1.5v1.5h-1.5zM908.5 308.4h1.5v1.5h-1.5zM947.3 331.2h1.5v1.5h-1.5zM924.3 330.3h1.5v1.5h-1.5zM929.2 358.0h1.5v1.5h-1.5zM901.7 309.5h1.5v1.5h-1.5zM931.0 317.5h1.5v1.5h-1.5zM930.2 293.6h1.5v1.5h-1.5zM902.8 333.9h1.5v1.5h-1.5zM905.4 328.4h1.5v1.5h-1.5zM924.3 319.4h1.5v1.5h-1.5zM932.4 296.2h1.5v1.5h-1.5zM937.9 313.1h1.5v1.5h-1.5zM937.9 348.4h1.5v1.5h-1.5zM762.8 386.5h1.5v1.5h-1.5zM775.7 370.1h1.5v1.5h-1.5zM787.7 424.2h1.5v1.5h-1.5zM763.8 415.3h1.5v1.5h-1.5zM934.0 291.2h1.5v1.5h-1.5zM897.2 294.9h1.5v1.5h-1.5zM919.4 313.8h1.5v1.5h-1.5zM900.4 322.7h1.5v1.5h-1.5zM862.5 331.4h1.5v1.5h-1.5zM903.2 331.8h1.5v1.5h-1.5zM900.4 333.4h1.5v1.5h-1.5zM898.8 299.8h1.5v1.5h-1.5zM901.6 324.5h1.5v1.5h-1.5zM906.4 268.1h1.5v1.5h-1.5zM926.2 349.9h1.5v1.5h-1.5zM944.0 321.9h1.5v1.5h-1.5zM851.8 288.4h1.5v1.5h-1.5zM945.7 293.5h1.5v1.5h-1.5zM929.3 328.6h1.5v1.5h-1.5zM928.4 324.2h1.5v1.5h-1.5zM884.6 337.8h1.5v1.5h-1.5zM974.0 317.7h1.5v1.5h-1.5zM926.6 325.7h1.5v1.5h-1.5zM915.8 319.3h1.5v1.5h-1.5zM921.5 336.8h1.5v1.5h-1.5zM912.0 282.1h1.5v1.5h-1.5zM938.8 288.6h1.5v1.5h-1.5zM915.6 310.8h1.5v1.5h-1.5zM951.9 272.4h1.5v1.5h-1.5zM943.6 334.1h1.5v1.5h-1.5zM901.6 269.0h1.5v1.5h-1.5zM912.1 305.7h1.5v1.5h-1.5zM927.7 296.3h1.5v1.5h-1.5zM920.9 317.0h1.5v1.5h-1.5zM920.2 334.7h1.5v1.5h-1.5zM928.2 355.8h1.5v1.5h-1.5zM918.7 311.1h1.5v1.5h-1.5zM916.4 317.8h1.5v1.5h-1.5zM887.3 263.5h1.5v1.5h-1.5zM896.3 329.9h1.5v1.5h-1.5zM941.6 329.3h1.5v1.5h-1.5zM933.3 320.8h1.5v1.5h-1.5zM889.2 331.9h1.5v1.5h-1.5zM942.4 284.0h1.5v1.5h-1.5zM929.6 327.0h1.5v1.5h-1.5zM906.7 290.4h1.5v1.5h-1.5zM923.0 318.4h1.5v1.5h-1.5zM948.6 330.5h1.5v1.5h-1.5zM918.1 331.1h1.5v1.5h-1.5zM950.5 345.9h1.5v1.5h-1.5zM855.7 405.9h1.5v1.5h-1.5zM900.0 394.4h1.5v1.5h-1.5zM887.3 401.2h1.5v1.5h-1.5zM860.6 405.4h1.5v1.5h-1.5zM889.9 384.6h1.5v1.5h-1.5zM898.2 423.7h1.5v1.5h-1.5zM878.5 390.8h1.5v1.5h-1.5zM904.4 300.3h1.5v1.5h-1.5zM880.8 337.5h1.5v1.5h-1.5zM905.9 339.7h1.5v1.5h-1.5zM936.2 274.8h1.5v1.5h-1.5zM750.5 392.2h1.5v1.5h-1.5zM779.1 374.3h1.5v1.5h-1.5zM921.7 330.6h1.5v1.5h-1.5zM901.4 297.8h1.5v1.5h-1.5zM926.6 284.5h1.5v1.5h-1.5zM891.8 333.2h1.5v1.5h-1.5zM768.8 416.7h1.5v1.5h-1.5zM942.3 305.3h1.5v1.5h-1.5zM906.9 314.2h1.5v1.5h-1.5zM923.2 298.8h1.5v1.5h-1.5zM924.1 310.6h1.5v1.5h-1.5zM765.5 385.5h1.5v1.5h-1.5zM755.4 394.9h1.5v1.5h-1.5zM792.6 382.1h1.5v1.5h-1.5zM781.0 378.6h1.5v1.5h-1.5zM874.0 333.1h1.5v1.5h-1.5zM785.2 380.9h1.5v1.5h-1.5zM784.4 423.5h1.5v1.5h-1.5zM756.6 388.3h1.5v1.5h-1.5zM906.6 317.7h1.5v1.5h-1.5zM891.5 294.2h1.5v1.5h-1.5zM902.3 322.2h1.5v1.5h-1.5zM908.5 318.4h1.5v1.5h-1.5zM888.6 319.0h1.5v1.5h-1.5zM894.3 285.2h1.5v1.5h-1.5zM910.3 302.1h1.5v1.5h-1.5zM922.8 334.8h1.5v1.5h-1.5zM940.5 313.8h1.5v1.5h-1.5zM936.5 281.8h1.5v1.5h-1.5zM904.4 300.4h1.5v1.5h-1.5zM929.6 311.2h1.5v1.5h-1.5zM897.0 330.6h1.5v1.5h-1.5zM909.3 312.0h1.5v1.5h-1.5zM946.6 335.8h1.5v1.5h-1.5zM905.3 332.8h1.5v1.5h-1.5zM921.4 307.2h1.5v1.5h-1.5zM918.0 339.4h1.5v1.5h-1.5zM913.2 323.1h1.5v1.5h-1.5zM878.6 320.0h1.5v1.5h-1.5zM950.4 321.7h1.5v1.5h-1.5zM768.1 404.6h1.5v1.5h-1.5zM893.7 314.8h1.5v1.5h-1.5zM938.9 284.1h1.5v1.5h-1.5zM933.9 343.3h1.5v1.5h-1.5zM952.7 295.7h1.5v1.5h-1.5zM932.8 319.7h1.5v1.5h-1.5zM882.2 302.8h1.5v1.5h-1.5zM926.3 305.6h1.5v1.5h-1.5zM788.9 421.9h1.5v1.5h-1.5zM930.1 316.4h1.5v1.5h-1.5zM941.8 262.6h1.5v1.5h-1.5zM868.6 290.5h1.5v1.5h-1.5zM918.2 281.4h1.5v1.5h-1.5zM928.5 305.5h1.5v1.5h-1.5zM916.5 294.2h1.5v1.5h-1.5zM925.2 329.9h1.5v1.5h-1.5zM900.7 314.3h1.5v1.5h-1.5zM910.7 331.4h1.5v1.5h-1.5zM900.3 323.5h1.5v1.5h-1.5zM917.7 301.5h1.5v1.5h-1.5zM916.9 269.6h1.5v1.5h-1.5zM907.7 308.7h1.5v1.5h-1.5zM892.9 320.6h1.5v1.5h-1.5zM903.3 295.5h1.5v1.5h-1.5zM936.3 275.1h1.5v1.5h-1.5zM912.5 299.2h1.5v1.5h-1.5zM924.0 337.3h1.5v1.5h-1.5zM925.8 300.3h1.5v1.5h-1.5zM920.2 332.3h1.5v1.5h-1.5zM917.4 344.8h1.5v1.5h-1.5zM922.6 289.5h1.5v1.5h-1.5zM927.9 305.1h1.5v1.5h-1.5zM938.8 351.2h1.5v1.5h-1.5zM902.2 346.8h1.5v1.5h-1.5zM934.4 305.8h1.5v1.5h-1.5zM892.7 348.6h1.5v1.5h-1.5zM947.1 317.3h1.5v1.5h-1.5zM890.9 356.6h1.5v1.5h-1.5zM942.1 284.9h1.5v1.5h-1.5zM918.5 297.0h1.5v1.5h-1.5zM919.0 326.1h1.5v1.5h-1.5zM783.4 422.8h1.5v1.5h-1.5zM918.5 342.4h1.5v1.5h-1.5zM897.7 307.7h1.5v1.5h-1.5zM946.4 299.2h1.5v1.5h-1.5zM956.1 307.0h1.5v1.5h-1.5zM929.0 306.2h1.5v1.5h-1.5zM891.9 333.4h1.5v1.5h-1.5zM914.4 300.5h1.5v1.5h-1.5zM910.2 339.1h1.5v1.5h-1.5zM906.3 308.4h1.5v1.5h-1.5zM950.0 339.2h1.5v1.5h-1.5zM916.7 285.9h1.5v1.5h-1.5zM903.1 283.3h1.5v1.5h-1.5zM924.6 327.4h1.5v1.5h-1.5zM947.5 307.7h1.5v1.5h-1.5zM884.4 279.3h1.5v1.5h-1.5zM911.8 255.4h1.5v1.5h-1.5zM920.4 287.1h1.5v1.5h-1.5zM962.5 352.5h1.5v1.5h-1.5zM874.0 333.2h1.5v1.5h-1.5zM867.3 289.1h1.5v1.5h-1.5zM937.3 307.9h1.5v1.5h-1.5zM937.2 328.5h1.5v1.5h-1.5zM889.8 328.5h1.5v1.5h-1.5zM927.8 294.1h1.5v1.5h-1.5zM920.6 312.1h1.5v1.5h-1.5zM932.7 316.3h1.5v1.5h-1.5zM970.9 336.5h1.5v1.5h-1.5zM905.2 284.9h1.5v1.5h-1.5zM895.0 296.1h1.5v1.5h-1.5zM914.8 289.7h1.5v1.5h-1.5zM964.1 325.8h1.5v1.5h-1.5zM934.3 312.6h1.5v1.5h-1.5zM910.7 274.6h1.5v1.5h-1.5zM911.6 320.9h1.5v1.5h-1.5zM760.0 416.1h1.5v1.5h-1.5zM761.5 404.1h1.5v1.5h-1.5zM755.6 401.1h1.5v1.5h-1.5zM948.1 302.0h1.5v1.5h-1.5zM922.1 296.4h1.5v1.5h-1.5zM942.1 313.9h1.5v1.5h-1.5zM921.2 341.2h1.5v1.5h-1.5zM929.0 328.0h1.5v1.5h-1.5zM925.6 317.7h1.5v1.5h-1.5zM972.8 306.0h1.5v1.5h-1.5zM922.8 261.6h1.5v1.5h-1.5zM915.8 292.9h1.5v1.5h-1.5zM947.2 297.5h1.5v1.5h-1.5zM900.0 298.1h1.5v1.5h-1.5zM925.7 313.9h1.5v1.5h-1.5zM926.6 326.9h1.5v1.5h-1.5zM936.1 354.4h1.5v1.5h-1.5zM942.0 307.3h1.5v1.5h-1.5zM935.2 323.6h1.5v1.5h-1.5zM897.2 348.7h1.5v1.5h-1.5zM916.9 320.8h1.5v1.5h-1.5zM887.0 336.8h1.5v1.5h-1.5zM896.5 313.9h1.5v1.5h-1.5zM872.5 306.3h1.5v1.5h-1.5zM916.6 323.7h1.5v1.5h-1.5zM922.4 313.9h1.5v1.5h-1.5zM882.2 308.9h1.5v1.5h-1.5zM943.3 341.2h1.5v1.5h-1.5zM897.9 302.0h1.5v1.5h-1.5zM883.9 313.1h1.5v1.5h-1.5zM885.2 293.3h1.5v1.5h-1.5zM906.1 325.6h1.5v1.5h-1.5zM933.6 269.4h1.5v1.5h-1.5zM937.2 326.2h1.5v1.5h-1.5zM791.6 431.5h1.5v1.5h-1.5zM926.0 299.0h1.5v1.5h-1.5zM793.5 417.7h1.5v1.5h-1.5zM757.4 405.1h1.5v1.5h-1.5zM741.4 402.3h1.5v1.5h-1.5zM754.5 414.3h1.5v1.5h-1.5zM786.5 421.2h1.5v1.5h-1.5zM781.8 426.1h1.5v1.5h-1.5zM770.9 384.9h1.5v1.5h-1.5zM904.9 334.0h1.5v1.5h-1.5zM749.3 407.2h1.5v1.5h-1.5zM917.9 333.2h1.5v1.5h-1.5zM896.4 339.5h1.5v1.5h-1.5zM938.8 306.5h1.5v1.5h-1.5zM954.1 305.7h1.5v1.5h-1.5zM960.8 306.4h1.5v1.5h-1.5zM895.4 264.6h1.5v1.5h-1.5zM915.8 285.2h1.5v1.5h-1.5zM928.6 307.7h1.5v1.5h-1.5zM929.0 336.1h1.5v1.5h-1.5zM932.3 320.4h1.5v1.5h-1.5zM898.1 338.5h1.5v1.5h-1.5zM894.8 323.4h1.5v1.5h-1.5zM898.8 368.9h1.5v1.5h-1.5zM893.3 346.7h1.5v1.5h-1.5zM951.1 317.4h1.5v1.5h-1.5zM880.2 296.3h1.5v1.5h-1.5zM901.0 228.3h1.5v1.5h-1.5zM950.1 288.2h1.5v1.5h-1.5zM946.8 304.3h1.5v1.5h-1.5zM911.6 327.0h1.5v1.5h-1.5zM912.3 380.2h1.5v1.5h-1.5zM907.4 314.3h1.5v1.5h-1.5zM913.1 319.5h1.5v1.5h-1.5zM930.2 302.8h1.5v1.5h-1.5zM875.3 314.5h1.5v1.5h-1.5zM807.8 359.8h1.5v1.5h-1.5zM817.4 333.5h1.5v1.5h-1.5zM884.8 280.9h1.5v1.5h-1.5zM833.3 327.9h1.5v1.5h-1.5zM847.2 333.4h1.5v1.5h-1.5zM857.3 317.8h1.5v1.5h-1.5zM901.8 269.0h1.5v1.5h-1.5zM888.6 295.1h1.5v1.5h-1.5zM885.4 314.5h1.5v1.5h-1.5zM800.8 361.8h1.5v1.5h-1.5zM873.3 321.3h1.5v1.5h-1.5zM854.5 314.1h1.5v1.5h-1.5zM792.8 359.3h1.5v1.5h-1.5zM905.8 358.7h1.5v1.5h-1.5zM835.1 342.3h1.5v1.5h-1.5zM886.2 302.4h1.5v1.5h-1.5zM810.2 352.2h1.5v1.5h-1.5zM937.7 285.1h1.5v1.5h-1.5zM869.5 370.8h1.5v1.5h-1.5zM948.8 266.0h1.5v1.5h-1.5zM845.9 311.7h1.5v1.5h-1.5zM930.8 283.5h1.5v1.5h-1.5zM813.9 343.4h1.5v1.5h-1.5zM972.1 267.9h1.5v1.5h-1.5zM889.4 320.3h1.5v1.5h-1.5zM935.5 281.4h1.5v1.5h-1.5zM864.2 322.4h1.5v1.5h-1.5zM821.1 346.2h1.5v1.5h-1.5zM791.4 364.7h1.5v1.5h-1.5zM810.4 388.0h1.5v1.5h-1.5zM795.9 424.0h1.5v1.5h-1.5zM796.9 416.9h1.5v1.5h-1.5zM882.4 318.5h1.5v1.5h-1.5zM872.2 292.3h1.5v1.5h-1.5zM928.7 296.5h1.5v1.5h-1.5zM948.5 276.7h1.5v1.5h-1.5zM809.8 330.8h1.5v1.5h-1.5zM867.1 333.1h1.5v1.5h-1.5zM953.8 282.1h1.5v1.5h-1.5zM887.9 280.7h1.5v1.5h-1.5zM857.0 326.9h1.5v1.5h-1.5zM825.7 339.9h1.5v1.5h-1.5zM824.5 360.1h1.5v1.5h-1.5zM834.7 335.5h1.5v1.5h-1.5zM907.0 215.0h1.5v1.5h-1.5zM876.3 257.0h1.5v1.5h-1.5zM850.8 300.4h1.5v1.5h-1.5zM875.0 329.2h1.5v1.5h-1.5zM823.6 365.6h1.5v1.5h-1.5zM911.8 273.1h1.5v1.5h-1.5zM816.5 368.2h1.5v1.5h-1.5zM910.1 276.9h1.5v1.5h-1.5zM905.4 277.5h1.5v1.5h-1.5zM896.7 309.0h1.5v1.5h-1.5zM847.8 313.4h1.5v1.5h-1.5zM929.0 241.4h1.5v1.5h-1.5zM753.8 396.1h1.5v1.5h-1.5zM819.6 363.5h1.5v1.5h-1.5zM814.9 379.5h1.5v1.5h-1.5zM859.4 328.8h1.5v1.5h-1.5zM826.9 341.4h1.5v1.5h-1.5zM833.5 332.0h1.5v1.5h-1.5zM785.3 348.1h1.5v1.5h-1.5zM875.4 289.2h1.5v1.5h-1.5zM762.4 406.8h1.5v1.5h-1.5zM794.8 421.5h1.5v1.5h-1.5zM808.6 337.7h1.5v1.5h-1.5zM856.9 344.9h1.5v1.5h-1.5zM889.8 280.8h1.5v1.5h-1.5zM834.8 371.3h1.5v1.5h-1.5zM886.3 285.9h1.5v1.5h-1.5zM776.0 347.9h1.5v1.5h-1.5zM819.1 367.0h1.5v1.5h-1.5zM794.8 347.3h1.5v1.5h-1.5zM794.5 306.7h1.5v1.5h-1.5zM862.7 234.7h1.5v1.5h-1.5zM889.9 208.3h1.5v1.5h-1.5zM866.2 221.0h1.5v1.5h-1.5zM813.1 385.5h1.5v1.5h-1.5zM831.6 353.5h1.5v1.5h-1.5zM853.9 318.7h1.5v1.5h-1.5zM912.1 227.5h1.5v1.5h-1.5zM921.3 279.5h1.5v1.5h-1.5zM909.0 233.4h1.5v1.5h-1.5zM883.2 228.8h1.5v1.5h-1.5zM880.8 278.4h1.5v1.5h-1.5zM880.6 248.4h1.5v1.5h-1.5zM866.5 233.1h1.5v1.5h-1.5zM837.7 243.4h1.5v1.5h-1.5zM863.4 215.3h1.5v1.5h-1.5zM840.8 231.8h1.5v1.5h-1.5zM840.2 377.8h1.5v1.5h-1.5zM847.3 328.7h1.5v1.5h-1.5zM940.4 286.4h1.5v1.5h-1.5zM891.1 246.6h1.5v1.5h-1.5zM871.7 261.6h1.5v1.5h-1.5zM883.7 292.3h1.5v1.5h-1.5zM868.0 241.1h1.5v1.5h-1.5zM845.3 249.6h1.5v1.5h-1.5zM864.7 257.6h1.5v1.5h-1.5zM909.3 228.5h1.5v1.5h-1.5zM858.9 251.2h1.5v1.5h-1.5zM893.1 216.3h1.5v1.5h-1.5zM866.1 231.1h1.5v1.5h-1.5zM894.8 315.2h1.5v1.5h-1.5zM894.4 238.3h1.5v1.5h-1.5zM855.2 216.9h1.5v1.5h-1.5zM869.1 204.4h1.5v1.5h-1.5zM860.8 225.0h1.5v1.5h-1.5zM863.2 261.0h1.5v1.5h-1.5zM878.7 239.3h1.5v1.5h-1.5zM901.9 249.3h1.5v1.5h-1.5zM872.2 217.2h1.5v1.5h-1.5zM806.3 338.2h1.5v1.5h-1.5zM908.9 261.7h1.5v1.5h-1.5zM846.5 350.0h1.5v1.5h-1.5zM906.2 286.0h1.5v1.5h-1.5zM794.5 350.9h1.5v1.5h-1.5zM947.1 260.2h1.5v1.5h-1.5zM851.9 316.2h1.5v1.5h-1.5zM892.5 288.0h1.5v1.5h-1.5zM868.8 380.3h1.5v1.5h-1.5zM867.4 310.4h1.5v1.5h-1.5zM845.4 322.5h1.5v1.5h-1.5zM881.0 308.0h1.5v1.5h-1.5zM929.0 287.4h1.5v1.5h-1.5zM936.8 274.7h1.5v1.5h-1.5zM798.8 322.1h1.5v1.5h-1.5zM863.6 334.3h1.5v1.5h-1.5zM763.0 388.3h1.5v1.5h-1.5zM850.0 306.4h1.5v1.5h-1.5zM928.3 261.5h1.5v1.5h-1.5zM893.8 321.4h1.5v1.5h-1.5zM870.8 338.5h1.5v1.5h-1.5zM811.2 381.5h1.5v1.5h-1.5zM849.0 327.8h1.5v1.5h-1.5zM786.9 328.4h1.5v1.5h-1.5zM901.7 292.9h1.5v1.5h-1.5zM852.5 339.9h1.5v1.5h-1.5zM969.2 280.5h1.5v1.5h-1.5zM902.2 322.7h1.5v1.5h-1.5zM912.4 294.8h1.5v1.5h-1.5zM918.7 251.2h1.5v1.5h-1.5zM817.5 357.2h1.5v1.5h-1.5zM818.5 362.9h1.5v1.5h-1.5zM883.6 318.8h1.5v1.5h-1.5zM862.2 378.5h1.5v1.5h-1.5zM859.3 356.9h1.5v1.5h-1.5zM892.4 270.8h1.5v1.5h-1.5zM792.8 415.5h1.5v1.5h-1.5zM755.3 410.0h1.5v1.5h-1.5zM881.9 338.3h1.5v1.5h-1.5zM886.8 287.4h1.5v1.5h-1.5zM887.8 300.0h1.5v1.5h-1.5zM910.9 301.3h1.5v1.5h-1.5zM819.1 354.7h1.5v1.5h-1.5zM921.4 244.3h1.5v1.5h-1.5zM896.4 306.6h1.5v1.5h-1.5zM800.1 319.8h1.5v1.5h-1.5zM894.7 277.2h1.5v1.5h-1.5zM906.7 248.6h1.5v1.5h-1.5zM888.7 274.5h1.5v1.5h-1.5zM884.6 297.0h1.5v1.5h-1.5zM850.4 338.0h1.5v1.5h-1.5zM775.1 377.5h1.5v1.5h-1.5zM776.5 378.4h1.5v1.5h-1.5zM812.7 378.9h1.5v1.5h-1.5zM753.6 410.7h1.5v1.5h-1.5zM797.1 376.1h1.5v1.5h-1.5zM872.9 303.3h1.5v1.5h-1.5zM886.0 282.6h1.5v1.5h-1.5zM917.3 267.3h1.5v1.5h-1.5zM895.6 326.5h1.5v1.5h-1.5zM879.1 286.6h1.5v1.5h-1.5zM848.4 289.4h1.5v1.5h-1.5zM935.2 292.0h1.5v1.5h-1.5zM840.6 357.3h1.5v1.5h-1.5zM824.8 365.6h1.5v1.5h-1.5zM901.6 297.3h1.5v1.5h-1.5zM872.3 273.3h1.5v1.5h-1.5zM861.8 378.5h1.5v1.5h-1.5zM843.0 301.7h1.5v1.5h-1.5zM866.2 308.3h1.5v1.5h-1.5zM865.8 327.7h1.5v1.5h-1.5zM859.9 306.8h1.5v1.5h-1.5zM815.2 355.1h1.5v1.5h-1.5zM797.5 369.8h1.5v1.5h-1.5zM837.6 365.9h1.5v1.5h-1.5zM860.4 269.1h1.5v1.5h-1.5zM873.1 293.4h1.5v1.5h-1.5zM901.5 310.8h1.5v1.5h-1.5zM912.8 260.8h1.5v1.5h-1.5zM832.6 317.7h1.5v1.5h-1.5zM826.4 337.0h1.5v1.5h-1.5zM853.8 325.9h1.5v1.5h-1.5zM873.1 285.0h1.5v1.5h-1.5zM932.7 239.1h1.5v1.5h-1.5zM863.3 351.1h1.5v1.5h-1.5zM911.0 281.9h1.5v1.5h-1.5zM874.1 364.3h1.5v1.5h-1.5zM916.3 328.3h1.5v1.5h-1.5zM807.8 358.5h1.5v1.5h-1.5zM885.4 265.9h1.5v1.5h-1.5zM842.6 335.9h1.5v1.5h-1.5zM897.8 255.9h1.5v1.5h-1.5zM880.4 290.8h1.5v1.5h-1.5zM909.6 266.7h1.5v1.5h-1.5zM815.2 376.1h1.5v1.5h-1.5zM838.0 322.4h1.5v1.5h-1.5zM861.2 329.3h1.5v1.5h-1.5zM854.7 308.8h1.5v1.5h-1.5zM842.9 298.6h1.5v1.5h-1.5zM922.3 256.0h1.5v1.5h-1.5zM877.7 329.7h1.5v1.5h-1.5zM859.7 344.8h1.5v1.5h-1.5zM913.4 254.8h1.5v1.5h-1.5zM863.1 319.0h1.5v1.5h-1.5zM907.3 275.5h1.5v1.5h-1.5zM754.1 404.1h1.5v1.5h-1.5zM821.4 369.0h1.5v1.5h-1.5zM897.6 273.5h1.5v1.5h-1.5zM857.9 367.8h1.5v1.5h-1.5zM853.7 340.1h1.5v1.5h-1.5zM846.8 368.8h1.5v1.5h-1.5zM929.7 284.9h1.5v1.5h-1.5zM789.4 347.9h1.5v1.5h-1.5zM917.6 267.1h1.5v1.5h-1.5zM773.9 347.6h1.5v1.5h-1.5zM869.3 293.3h1.5v1.5h-1.5zM843.5 320.4h1.5v1.5h-1.5zM910.5 316.6h1.5v1.5h-1.5zM873.0 291.7h1.5v1.5h-1.5zM813.8 314.6h1.5v1.5h-1.5zM899.6 281.4h1.5v1.5h-1.5zM766.7 373.1h1.5v1.5h-1.5zM783.0 336.6h1.5v1.5h-1.5zM879.2 283.0h1.5v1.5h-1.5zM897.3 247.9h1.5v1.5h-1.5zM815.2 377.8h1.5v1.5h-1.5zM838.4 383.5h1.5v1.5h-1.5zM812.5 344.3h1.5v1.5h-1.5zM836.8 329.9h1.5v1.5h-1.5zM835.4 337.6h1.5v1.5h-1.5zM816.1 335.8h1.5v1.5h-1.5zM947.3 257.6h1.5v1.5h-1.5zM794.9 385.1h1.5v1.5h-1.5zM909.0 297.6h1.5v1.5h-1.5zM861.9 313.6h1.5v1.5h-1.5zM973.2 280.6h1.5v1.5h-1.5zM890.5 282.8h1.5v1.5h-1.5zM754.3 403.6h1.5v1.5h-1.5zM783.0 379.8h1.5v1.5h-1.5zM902.8 297.8h1.5v1.5h-1.5zM939.7 250.0h1.5v1.5h-1.5zM843.7 341.1h1.5v1.5h-1.5zM880.2 302.1h1.5v1.5h-1.5zM812.5 400.0h1.5v1.5h-1.5zM865.1 319.9h1.5v1.5h-1.5zM884.3 328.0h1.5v1.5h-1.5zM864.4 265.0h1.5v1.5h-1.5zM862.8 348.5h1.5v1.5h-1.5zM850.5 322.1h1.5v1.5h-1.5zM803.3 380.5h1.5v1.5h-1.5zM939.7 270.6h1.5v1.5h-1.5zM898.3 308.3h1.5v1.5h-1.5zM867.6 266.9h1.5v1.5h-1.5zM843.2 329.2h1.5v1.5h-1.5zM823.7 370.3h1.5v1.5h-1.5zM953.9 271.8h1.5v1.5h-1.5zM901.6 258.7h1.5v1.5h-1.5zM844.2 359.2h1.5v1.5h-1.5zM898.8 286.8h1.5v1.5h-1.5zM828.6 352.3h1.5v1.5h-1.5zM911.4 297.7h1.5v1.5h-1.5zM834.2 328.8h1.5v1.5h-1.5zM828.4 356.2h1.5v1.5h-1.5zM855.9 370.1h1.5v1.5h-1.5zM893.1 294.5h1.5v1.5h-1.5zM923.4 269.9h1.5v1.5h-1.5zM867.6 344.2h1.5v1.5h-1.5zM885.3 324.4h1.5v1.5h-1.5zM779.3 392.0h1.5v1.5h-1.5zM755.3 379.3h1.5v1.5h-1.5zM751.9 408.0h1.5v1.5h-1.5zM917.4 238.9h1.5v1.5h-1.5zM757.2 395.5h1.5v1.5h-1.5zM777.6 378.6h1.5v1.5h-1.5zM756.5 419.6h1.5v1.5h-1.5zM937.0 246.3h1.5v1.5h-1.5zM845.3 341.6h1.5v1.5h-1.5zM919.2 255.8h1.5v1.5h-1.5zM821.8 303.6h1.5v1.5h-1.5zM912.6 312.1h1.5v1.5h-1.5zM816.9 377.6h1.5v1.5h-1.5zM899.3 306.2h1.5v1.5h-1.5zM898.9 280.5h1.5v1.5h-1.5zM887.4 263.1h1.5v1.5h-1.5zM869.6 280.9h1.5v1.5h-1.5zM843.7 338.8h1.5v1.5h-1.5zM872.1 330.8h1.5v1.5h-1.5zM917.5 289.2h1.5v1.5h-1.5zM857.7 350.5h1.5v1.5h-1.5zM817.2 336.8h1.5v1.5h-1.5zM846.0 268.4h1.5v1.5h-1.5zM858.2 238.9h1.5v1.5h-1.5zM843.3 233.2h1.5v1.5h-1.5zM865.2 258.4h1.5v1.5h-1.5zM878.6 218.9h1.5v1.5h-1.5zM865.7 249.5h1.5v1.5h-1.5zM882.4 232.9h1.5v1.5h-1.5zM871.3 210.2h1.5v1.5h-1.5zM884.4 243.7h1.5v1.5h-1.5zM867.7 194.7h1.5v1.5h-1.5zM855.7 250.9h1.5v1.5h-1.5zM879.5 229.5h1.5v1.5h-1.5zM873.1 256.9h1.5v1.5h-1.5zM837.3 240.0h1.5v1.5h-1.5zM893.5 228.5h1.5v1.5h-1.5zM886.9 285.2h1.5v1.5h-1.5zM861.1 225.2h1.5v1.5h-1.5zM851.9 266.4h1.5v1.5h-1.5zM854.8 221.9h1.5v1.5h-1.5zM864.0 217.4h1.5v1.5h-1.5zM756.7 386.4h1.5v1.5h-1.5zM853.0 276.7h1.5v1.5h-1.5zM889.9 208.7h1.5v1.5h-1.5zM851.3 247.6h1.5v1.5h-1.5zM867.2 249.6h1.5v1.5h-1.5zM849.0 225.9h1.5v1.5h-1.5zM899.7 225.0h1.5v1.5h-1.5zM882.6 204.0h1.5v1.5h-1.5zM895.6 221.1h1.5v1.5h-1.5zM840.9 269.8h1.5v1.5h-1.5zM881.8 249.4h1.5v1.5h-1.5zM882.4 243.4h1.5v1.5h-1.5zM873.0 242.5h1.5v1.5h-1.5zM864.8 237.5h1.5v1.5h-1.5zM856.8 236.7h1.5v1.5h-1.5zM901.5 254.9h1.5v1.5h-1.5zM881.6 282.2h1.5v1.5h-1.5zM917.0 252.4h1.5v1.5h-1.5zM885.4 253.4h1.5v1.5h-1.5zM915.2 259.1h1.5v1.5h-1.5zM929.0 263.2h1.5v1.5h-1.5zM884.9 199.6h1.5v1.5h-1.5zM867.9 236.8h1.5v1.5h-1.5zM852.9 215.5h1.5v1.5h-1.5zM838.2 219.1h1.5v1.5h-1.5zM857.9 210.1h1.5v1.5h-1.5zM875.1 272.1h1.5v1.5h-1.5zM849.4 215.8h1.5v1.5h-1.5zM756.0 416.7h1.5v1.5h-1.5zM757.3 411.9h1.5v1.5h-1.5zM772.5 426.2h1.5v1.5h-1.5zM853.9 196.8h1.5v1.5h-1.5zM851.6 243.7h1.5v1.5h-1.5zM912.2 195.7h1.5v1.5h-1.5zM868.1 263.4h1.5v1.5h-1.5zM897.1 251.4h1.5v1.5h-1.5zM855.9 237.3h1.5v1.5h-1.5zM844.6 198.4h1.5v1.5h-1.5zM849.9 244.7h1.5v1.5h-1.5zM876.5 237.2h1.5v1.5h-1.5zM880.0 245.5h1.5v1.5h-1.5zM848.0 243.0h1.5v1.5h-1.5zM875.0 240.9h1.5v1.5h-1.5zM893.2 256.1h1.5v1.5h-1.5zM879.9 245.0h1.5v1.5h-1.5zM884.3 257.4h1.5v1.5h-1.5zM903.8 270.4h1.5v1.5h-1.5zM862.0 237.5h1.5v1.5h-1.5zM883.2 248.3h1.5v1.5h-1.5zM894.6 246.0h1.5v1.5h-1.5zM896.5 226.7h1.5v1.5h-1.5zM886.5 289.7h1.5v1.5h-1.5zM848.9 243.2h1.5v1.5h-1.5zM887.2 251.0h1.5v1.5h-1.5zM871.1 212.9h1.5v1.5h-1.5zM901.2 246.4h1.5v1.5h-1.5zM874.1 266.8h1.5v1.5h-1.5zM896.4 218.2h1.5v1.5h-1.5zM790.9 374.6h1.5v1.5h-1.5zM900.4 224.3h1.5v1.5h-1.5zM882.4 236.8h1.5v1.5h-1.5zM860.6 266.8h1.5v1.5h-1.5zM850.0 272.4h1.5v1.5h-1.5zM864.4 240.2h1.5v1.5h-1.5zM860.5 250.7h1.5v1.5h-1.5zM861.5 272.2h1.5v1.5h-1.5zM886.0 239.4h1.5v1.5h-1.5zM883.4 221.7h1.5v1.5h-1.5zM854.1 252.9h1.5v1.5h-1.5zM848.1 214.0h1.5v1.5h-1.5zM848.6 220.6h1.5v1.5h-1.5zM864.7 239.8h1.5v1.5h-1.5zM892.8 230.5h1.5v1.5h-1.5zM846.2 226.7h1.5v1.5h-1.5zM856.4 234.3h1.5v1.5h-1.5zM846.6 264.9h1.5v1.5h-1.5zM874.3 229.8h1.5v1.5h-1.5zM880.8 275.7h1.5v1.5h-1.5zM868.8 265.1h1.5v1.5h-1.5zM880.4 240.8h1.5v1.5h-1.5zM862.4 248.5h1.5v1.5h-1.5zM828.5 258.4h1.5v1.5h-1.5zM863.1 221.8h1.5v1.5h-1.5zM905.8 228.1h1.5v1.5h-1.5zM875.8 248.2h1.5v1.5h-1.5zM859.0 248.6h1.5v1.5h-1.5zM897.5 242.5h1.5v1.5h-1.5zM885.6 265.2h1.5v1.5h-1.5zM871.2 242.3h1.5v1.5h-1.5zM908.9 225.6h1.5v1.5h-1.5zM891.5 244.5h1.5v1.5h-1.5zM862.0 244.8h1.5v1.5h-1.5zM896.9 207.8h1.5v1.5h-1.5zM864.6 226.7h1.5v1.5h-1.5zM753.1 393.9h1.5v1.5h-1.5zM774.4 421.6h1.5v1.5h-1.5zM757.0 424.8h1.5v1.5h-1.5zM761.4 390.0h1.5v1.5h-1.5zM796.1 431.9h1.5v1.5h-1.5zM777.5 420.7h1.5v1.5h-1.5zM813.7 419.1h1.5v1.5h-1.5zM777.3 386.2h1.5v1.5h-1.5zM779.2 371.8h1.5v1.5h-1.5zM843.1 259.3h1.5v1.5h-1.5zM894.6 267.2h1.5v1.5h-1.5zM891.8 285.2h1.5v1.5h-1.5zM918.9 239.9h1.5v1.5h-1.5zM914.4 212.7h1.5v1.5h-1.5zM868.6 217.9h1.5v1.5h-1.5zM869.0 257.2h1.5v1.5h-1.5zM838.6 236.1h1.5v1.5h-1.5zM875.7 207.9h1.5v1.5h-1.5zM880.5 265.9h1.5v1.5h-1.5zM907.0 288.0h1.5v1.5h-1.5zM869.4 247.2h1.5v1.5h-1.5zM865.7 262.1h1.5v1.5h-1.5zM849.1 241.5h1.5v1.5h-1.5zM870.6 237.5h1.5v1.5h-1.5zM846.0 314.8h1.5v1.5h-1.5zM876.2 223.2h1.5v1.5h-1.5zM840.0 253.1h1.5v1.5h-1.5zM881.4 223.0h1.5v1.5h-1.5zM766.9 417.6h1.5v1.5h-1.5zM852.1 326.1h1.5v1.5h-1.5zM896.5 258.1h1.5v1.5h-1.5zM865.0 231.1h1.5v1.5h-1.5zM840.4 267.6h1.5v1.5h-1.5zM868.9 223.0h1.5v1.5h-1.5zM757.6 392.9h1.5v1.5h-1.5zM786.5 418.4h1.5v1.5h-1.5zM899.6 223.6h1.5v1.5h-1.5z" fill="#2d279e"/>
<path d="M795.9 407.2h1.5v1.5h-1.5zM765.9 410.3h1.5v1.5h-1.5zM817.9 387.5h1.5v1.5h-1.5zM806.7 407.6h1.5v1.5h-1.5zM766.4 387.1h1.5v1.5h-1.5zM764.8 411.6h1.5v1.5h-1.5zM864.6 393.8h1.5v1.5h-1.5zM840.1 387.4h1.5v1.5h-1.5zM798.5 382.0h1.5v1.5h-1.5zM840.8 394.9h1.5v1.5h-1.5zM860.4 397.9h1.5v1.5h-1.5zM769.5 383.1h1.5v1.5h-1.5zM786.9 379.0h1.5v1.5h-1.5zM783.4 397.0h1.5v1.5h-1.5zM775.6 420.2h1.5v1.5h-1.5zM767.8 414.5h1.5v1.5h-1.5zM776.9 384.8h1.5v1.5h-1.5zM777.9 410.5h1.5v1.5h-1.5zM936.9 394.9h1.5v1.5h-1.5zM805.4 413.4h1.5v1.5h-1.5zM797.1 378.1h1.5v1.5h-1.5zM854.4 405.8h1.5v1.5h-1.5zM805.7 391.2h1.5v1.5h-1.5zM897.5 389.9h1.5v1.5h-1.5zM880.5 392.6h1.5v1.5h-1.5zM865.0 236.2h1.5v1.5h-1.5zM789.4 413.9h1.5v1.5h-1.5zM867.7 397.2h1.5v1.5h-1.5zM891.4 398.7h1.5v1.5h-1.5zM843.5 400.2h1.5v1.5h-1.5zM823.3 407.3h1.5v1.5h-1.5zM804.5 393.4h1.5v1.5h-1.5zM788.0 417.9h1.5v1.5h-1.5zM895.5 395.7h1.5v1.5h-1.5zM926.2 384.5h1.5v1.5h-1.5zM893.3 400.6h1.5v1.5h-1.5zM780.6 381.7h1.5v1.5h-1.5zM889.1 406.5h1.5v1.5h-1.5zM919.8 306.6h1.5v1.5h-1.5zM842.8 402.0h1.5v1.5h-1.5zM807.4 391.2h1.5v1.5h-1.5zM877.6 235.2h1.5v1.5h-1.5zM764.9 393.6h1.5v1.5h-1.5zM789.3 414.5h1.5v1.5h-1.5zM800.6 417.5h1.5v1.5h-1.5zM858.9 248.8h1.5v1.5h-1.5zM831.7 388.5h1.5v1.5h-1.5zM835.5 396.7h1.5v1.5h-1.5zM834.3 390.6h1.5v1.5h-1.5zM789.9 416.9h1.5v1.5h-1.5zM843.1 409.0h1.5v1.5h-1.5zM853.8 402.6h1.5v1.5h-1.5zM768.1 413.1h1.5v1.5h-1.5zM821.4 390.8h1.5v1.5h-1.5zM873.9 393.3h1.5v1.5h-1.5zM799.6 398.4h1.5v1.5h-1.5zM789.4 381.8h1.5v1.5h-1.5zM769.8 377.9h1.5v1.5h-1.5zM789.1 384.2h1.5v1.5h-1.5zM921.2 317.6h1.5v1.5h-1.5zM803.1 389.1h1.5v1.5h-1.5zM816.2 400.7h1.5v1.5h-1.5zM800.5 390.8h1.5v1.5h-1.5zM848.2 391.0h1.5v1.5h-1.5zM793.0 414.3h1.5v1.5h-1.5zM868.5 233.7h1.5v1.5h-1.5zM787.8 380.3h1.5v1.5h-1.5zM769.4 390.5h1.5v1.5h-1.5zM881.8 396.4h1.5v1.5h-1.5zM883.4 393.7h1.5v1.5h-1.5zM814.0 393.4h1.5v1.5h-1.5zM808.2 399.5h1.5v1.5h-1.5zM754.4 405.2h1.5v1.5h-1.5zM864.3 239.3h1.5v1.5h-1.5zM772.0 412.0h1.5v1.5h-1.5zM864.9 389.5h1.5v1.5h-1.5zM847.3 403.5h1.5v1.5h-1.5zM824.6 396.9h1.5v1.5h-1.5zM892.0 378.1h1.5v1.5h-1.5zM784.8 415.1h1.5v1.5h-1.5zM862.9 390.7h1.5v1.5h-1.5zM895.4 386.7h1.5v1.5h-1.5zM770.7 389.4h1.5v1.5h-1.5zM828.6 403.2h1.5v1.5h-1.5zM837.5 408.4h1.5v1.5h-1.5zM842.3 393.8h1.5v1.5h-1.5zM792.1 408.3h1.5v1.5h-1.5zM760.7 402.4h1.5v1.5h-1.5zM809.2 410.4h1.5v1.5h-1.5zM892.1 410.3h1.5v1.5h-1.5zM770.0 392.2h1.5v1.5h-1.5zM783.3 425.1h1.5v1.5h-1.5zM766.6 380.3h1.5v1.5h-1.5zM769.9 417.7h1.5v1.5h-1.5zM767.1 384.4h1.5v1.5h-1.5zM816.4 401.1h1.5v1.5h-1.5zM760.3 387.6h1.5v1.5h-1.5zM805.2 378.3h1.5v1.5h-1.5zM892.8 406.6h1.5v1.5h-1.5zM859.0 266.7h1.5v1.5h-1.5zM801.8 390.4h1.5v1.5h-1.5zM928.7 309.5h1.5v1.5h-1.5zM767.6 417.0h1.5v1.5h-1.5zM876.1 248.0h1.5v1.5h-1.5zM783.5 379.0h1.5v1.5h-1.5zM890.3 406.2h1.5v1.5h-1.5zM899.1 389.6h1.5v1.5h-1.5zM813.7 393.0h1.5v1.5h-1.5zM766.0 385.8h1.5v1.5h-1.5zM859.2 387.0h1.5v1.5h-1.5zM775.9 415.2h1.5v1.5h-1.5zM787.1 411.0h1.5v1.5h-1.5zM772.3 376.5h1.5v1.5h-1.5zM832.7 404.3h1.5v1.5h-1.5zM780.7 417.7h1.5v1.5h-1.5zM868.8 395.5h1.5v1.5h-1.5zM768.4 388.3h1.5v1.5h-1.5zM882.5 399.8h1.5v1.5h-1.5zM824.9 395.7h1.5v1.5h-1.5zM793.3 423.0h1.5v1.5h-1.5zM844.1 393.5h1.5v1.5h-1.5zM790.4 420.3h1.5v1.5h-1.5zM900.9 296.5h1.5v1.5h-1.5zM922.0 307.6h1.5v1.5h-1.5zM764.7 394.4h1.5v1.5h-1.5zM801.2 411.8h1.5v1.5h-1.5zM833.0 389.2h1.5v1.5h-1.5zM797.5 417.4h1.5v1.5h-1.5zM888.8 395.0h1.5v1.5h-1.5zM839.8 391.7h1.5v1.5h-1.5zM908.7 297.3h1.5v1.5h-1.5zM792.7 411.1h1.5v1.5h-1.5zM928.7 391.0h1.5v1.5h-1.5zM819.8 386.0h1.5v1.5h-1.5zM810.9 403.2h1.5v1.5h-1.5zM776.3 424.8h1.5v1.5h-1.5zM759.0 403.8h1.5v1.5h-1.5zM770.4 386.1h1.5v1.5h-1.5zM754.6 401.5h1.5v1.5h-1.5zM845.0 393.7h1.5v1.5h-1.5zM839.7 386.7h1.5v1.5h-1.5zM883.5 390.7h1.5v1.5h-1.5zM777.1 417.6h1.5v1.5h-1.5zM760.2 397.1h1.5v1.5h-1.5zM827.8 392.7h1.5v1.5h-1.5zM914.5 301.4h1.5v1.5h-1.5zM785.7 415.0h1.5v1.5h-1.5zM888.1 407.9h1.5v1.5h-1.5zM851.7 393.0h1.5v1.5h-1.5zM805.3 394.0h1.5v1.5h-1.5zM769.0 419.2h1.5v1.5h-1.5zM779.4 377.5h1.5v1.5h-1.5zM765.9 379.2h1.5v1.5h-1.5zM872.8 394.0h1.5v1.5h-1.5zM801.6 405.0h1.5v1.5h-1.5zM895.0 394.4h1.5v1.5h-1.5zM899.7 365.8h1.5v1.5h-1.5zM903.5 392.8h1.5v1.5h-1.5zM896.3 398.7h1.5v1.5h-1.5zM768.4 377.4h1.5v1.5h-1.5zM807.3 395.3h1.5v1.5h-1.5zM870.3 395.0h1.5v1.5h-1.5zM888.8 397.4h1.5v1.5h-1.5zM787.6 413.5h1.5v1.5h-1.5zM872.9 397.7h1.5v1.5h-1.5zM861.7 399.8h1.5v1.5h-1.5zM890.3 392.4h1.5v1.5h-1.5zM822.3 407.3h1.5v1.5h-1.5zM870.7 399.6h1.5v1.5h-1.5zM827.4 394.8h1.5v1.5h-1.5zM864.6 393.9h1.5v1.5h-1.5zM770.9 393.6h1.5v1.5h-1.5zM823.0 405.7h1.5v1.5h-1.5zM850.3 392.0h1.5v1.5h-1.5zM881.1 387.5h1.5v1.5h-1.5zM821.9 400.3h1.5v1.5h-1.5zM801.9 384.0h1.5v1.5h-1.5zM881.0 377.3h1.5v1.5h-1.5zM846.3 392.4h1.5v1.5h-1.5zM782.7 419.5h1.5v1.5h-1.5zM920.8 317.5h1.5v1.5h-1.5zM795.7 406.6h1.5v1.5h-1.5zM801.0 399.4h1.5v1.5h-1.5zM884.8 400.3h1.5v1.5h-1.5zM866.5 263.5h1.5v1.5h-1.5zM777.5 411.3h1.5v1.5h-1.5zM759.1 408.8h1.5v1.5h-1.5zM828.4 403.4h1.5v1.5h-1.5zM777.5 378.6h1.5v1.5h-1.5zM887.6 391.0h1.5v1.5h-1.5zM824.9 403.9h1.5v1.5h-1.5zM832.2 394.3h1.5v1.5h-1.5zM861.5 395.9h1.5v1.5h-1.5zM771.2 383.4h1.5v1.5h-1.5zM757.0 405.3h1.5v1.5h-1.5zM763.8 395.7h1.5v1.5h-1.5zM878.8 400.3h1.5v1.5h-1.5zM939.5 394.9h1.5v1.5h-1.5zM813.6 394.5h1.5v1.5h-1.5zM844.4 401.5h1.5v1.5h-1.5zM846.5 403.7h1.5v1.5h-1.5zM842.3 400.5h1.5v1.5h-1.5zM830.8 397.1h1.5v1.5h-1.5zM825.9 391.7h1.5v1.5h-1.5zM780.2 382.0h1.5v1.5h-1.5zM934.1 392.4h1.5v1.5h-1.5zM882.5 386.4h1.5v1.5h-1.5zM784.3 379.9h1.5v1.5h-1.5zM857.7 391.1h1.5v1.5h-1.5zM865.4 387.3h1.5v1.5h-1.5zM882.7 398.4h1.5v1.5h-1.5zM777.1 419.0h1.5v1.5h-1.5zM800.9 381.3h1.5v1.5h-1.5zM807.2 391.0h1.5v1.5h-1.5zM821.3 392.9h1.5v1.5h-1.5zM835.8 396.8h1.5v1.5h-1.5zM808.5 415.7h1.5v1.5h-1.5zM773.9 385.5h1.5v1.5h-1.5zM861.8 396.0h1.5v1.5h-1.5zM882.4 397.1h1.5v1.5h-1.5zM764.6 413.8h1.5v1.5h-1.5zM780.7 383.0h1.5v1.5h-1.5zM810.4 416.4h1.5v1.5h-1.5zM866.9 396.1h1.5v1.5h-1.5zM828.6 400.4h1.5v1.5h-1.5zM781.8 416.6h1.5v1.5h-1.5zM833.8 404.5h1.5v1.5h-1.5zM807.3 413.0h1.5v1.5h-1.5zM825.6 396.3h1.5v1.5h-1.5zM812.6 408.9h1.5v1.5h-1.5zM755.7 393.5h1.5v1.5h-1.5zM819.0 393.1h1.5v1.5h-1.5zM891.8 391.1h1.5v1.5h-1.5zM756.1 393.1h1.5v1.5h-1.5zM762.5 394.9h1.5v1.5h-1.5zM790.1 384.5h1.5v1.5h-1.5zM765.2 405.6h1.5v1.5h-1.5zM761.6 395.2h1.5v1.5h-1.5zM779.8 413.9h1.5v1.5h-1.5zM855.5 393.8h1.5v1.5h-1.5zM842.6 399.0h1.5v1.5h-1.5zM787.2 418.3h1.5v1.5h-1.5zM872.5 393.1h1.5v1.5h-1.5zM817.4 403.6h1.5v1.5h-1.5zM804.7 412.0h1.5v1.5h-1.5zM781.7 416.8h1.5v1.5h-1.5zM838.9 398.0h1.5v1.5h-1.5zM887.9 387.1h1.5v1.5h-1.5zM790.0 420.2h1.5v1.5h-1.5zM881.2 397.1h1.5v1.5h-1.5zM808.2 386.3h1.5v1.5h-1.5zM792.7 418.8h1.5v1.5h-1.5zM784.3 417.3h1.5v1.5h-1.5zM861.4 388.7h1.5v1.5h-1.5zM805.7 407.5h1.5v1.5h-1.5zM795.5 415.6h1.5v1.5h-1.5zM815.8 400.1h1.5v1.5h-1.5zM786.0 386.4h1.5v1.5h-1.5zM823.3 387.3h1.5v1.5h-1.5zM801.1 411.8h1.5v1.5h-1.5zM842.0 394.9h1.5v1.5h-1.5zM818.8 405.8h1.5v1.5h-1.5zM887.2 390.1h1.5v1.5h-1.5zM832.5 409.5h1.5v1.5h-1.5zM866.6 398.0h1.5v1.5h-1.5zM852.5 389.3h1.5v1.5h-1.5zM764.3 388.8h1.5v1.5h-1.5zM772.4 382.7h1.5v1.5h-1.5zM896.4 306.3h1.5v1.5h-1.5zM787.8 418.2h1.5v1.5h-1.5zM819.5 393.5h1.5v1.5h-1.5zM869.7 380.7h1.5v1.5h-1.5zM816.1 389.5h1.5v1.5h-1.5zM799.8 416.1h1.5v1.5h-1.5zM770.0 415.5h1.5v1.5h-1.5zM807.2 399.4h1.5v1.5h-1.5zM810.8 406.8h1.5v1.5h-1.5zM819.9 388.2h1.5v1.5h-1.5zM889.6 395.4h1.5v1.5h-1.5zM811.4 396.3h1.5v1.5h-1.5zM872.5 391.5h1.5v1.5h-1.5zM770.3 379.3h1.5v1.5h-1.5zM762.3 397.8h1.5v1.5h-1.5zM773.5 419.7h1.5v1.5h-1.5zM869.2 394.3h1.5v1.5h-1.5zM815.8 400.7h1.5v1.5h-1.5zM764.8 411.0h1.5v1.5h-1.5zM814.6 403.1h1.5v1.5h-1.5zM852.5 395.5h1.5v1.5h-1.5zM754.6 397.5h1.5v1.5h-1.5zM883.0 409.6h1.5v1.5h-1.5zM840.0 407.8h1.5v1.5h-1.5zM761.8 392.9h1.5v1.5h-1.5zM874.5 391.0h1.5v1.5h-1.5zM824.9 400.5h1.5v1.5h-1.5zM831.8 386.8h1.5v1.5h-1.5zM909.5 305.9h1.5v1.5h-1.5zM774.6 416.3h1.5v1.5h-1.5zM765.3 405.0h1.5v1.5h-1.5zM834.2 396.0h1.5v1.5h-1.5zM769.5 389.9h1.5v1.5h-1.5zM762.2 389.8h1.5v1.5h-1.5zM766.9 380.1h1.5v1.5h-1.5zM809.4 409.4h1.5v1.5h-1.5zM786.8 423.4h1.5v1.5h-1.5zM889.8 396.3h1.5v1.5h-1.5zM879.0 392.3h1.5v1.5h-1.5zM789.1 411.0h1.5v1.5h-1.5zM800.1 418.0h1.5v1.5h-1.5zM856.6 406.9h1.5v1.5h-1.5zM789.1 395.2h1.5v1.5h-1.5zM801.6 391.4h1.5v1.5h-1.5zM760.9 388.4h1.5v1.5h-1.5zM894.8 396.7h1.5v1.5h-1.5zM837.6 399.6h1.5v1.5h-1.5zM837.4 395.4h1.5v1.5h-1.5zM869.7 397.7h1.5v1.5h-1.5zM807.4 388.9h1.5v1.5h-1.5zM840.5 410.5h1.5v1.5h-1.5zM791.5 381.4h1.5v1.5h-1.5zM836.4 409.5h1.5v1.5h-1.5zM883.5 377.9h1.5v1.5h-1.5zM829.8 395.8h1.5v1.5h-1.5zM880.0 381.5h1.5v1.5h-1.5zM790.0 386.2h1.5v1.5h-1.5zM812.4 399.1h1.5v1.5h-1.5zM903.5 305.5h1.5v1.5h-1.5zM885.8 404.3h1.5v1.5h-1.5zM771.3 416.4h1.5v1.5h-1.5zM815.2 393.1h1.5v1.5h-1.5zM804.2 382.0h1.5v1.5h-1.5zM764.0 409.3h1.5v1.5h-1.5zM877.6 237.8h1.5v1.5h-1.5zM817.4 405.0h1.5v1.5h-1.5zM812.3 399.8h1.5v1.5h-1.5zM853.2 399.9h1.5v1.5h-1.5zM841.8 407.0h1.5v1.5h-1.5zM927.7 385.3h1.5v1.5h-1.5zM852.1 394.3h1.5v1.5h-1.5zM772.9 379.5h1.5v1.5h-1.5zM919.7 310.6h1.5v1.5h-1.5zM823.3 400.9h1.5v1.5h-1.5zM868.5 393.7h1.5v1.5h-1.5zM919.1 315.9h1.5v1.5h-1.5zM831.7 395.2h1.5v1.5h-1.5zM878.0 235.4h1.5v1.5h-1.5zM897.3 389.1h1.5v1.5h-1.5zM760.1 399.0h1.5v1.5h-1.5zM825.5 391.4h1.5v1.5h-1.5zM893.7 404.0h1.5v1.5h-1.5zM804.6 385.8h1.5v1.5h-1.5zM776.3 381.3h1.5v1.5h-1.5zM832.2 388.9h1.5v1.5h-1.5zM876.5 392.8h1.5v1.5h-1.5zM791.3 379.2h1.5v1.5h-1.5zM863.7 400.4h1.5v1.5h-1.5zM815.2 409.1h1.5v1.5h-1.5zM762.5 405.1h1.5v1.5h-1.5zM849.4 403.9h1.5v1.5h-1.5zM849.6 390.9h1.5v1.5h-1.5zM825.0 388.5h1.5v1.5h-1.5zM896.7 413.5h1.5v1.5h-1.5zM893.4 396.8h1.5v1.5h-1.5zM878.3 392.8h1.5v1.5h-1.5zM834.7 393.9h1.5v1.5h-1.5zM837.2 390.1h1.5v1.5h-1.5zM782.6 415.4h1.5v1.5h-1.5zM840.8 389.9h1.5v1.5h-1.5zM781.0 418.1h1.5v1.5h-1.5zM891.2 403.2h1.5v1.5h-1.5zM889.0 395.4h1.5v1.5h-1.5zM883.5 393.1h1.5v1.5h-1.5zM893.8 388.8h1.5v1.5h-1.5zM837.3 399.4h1.5v1.5h-1.5zM816.1 392.5h1.5v1.5h-1.5zM844.7 398.5h1.5v1.5h-1.5zM881.7 396.1h1.5v1.5h-1.5zM773.2 383.8h1.5v1.5h-1.5zM823.2 390.9h1.5v1.5h-1.5zM842.8 382.2h1.5v1.5h-1.5zM814.7 411.6h1.5v1.5h-1.5zM844.9 399.3h1.5v1.5h-1.5zM893.5 400.9h1.5v1.5h-1.5zM831.1 393.7h1.5v1.5h-1.5zM836.7 402.6h1.5v1.5h-1.5zM772.6 413.0h1.5v1.5h-1.5zM831.9 385.1h1.5v1.5h-1.5zM764.1 390.9h1.5v1.5h-1.5zM831.1 399.7h1.5v1.5h-1.5zM849.3 391.8h1.5v1.5h-1.5zM843.6 405.5h1.5v1.5h-1.5zM801.2 385.4h1.5v1.5h-1.5zM864.8 393.2h1.5v1.5h-1.5zM821.1 392.8h1.5v1.5h-1.5zM865.4 385.5h1.5v1.5h-1.5zM882.8 406.9h1.5v1.5h-1.5zM759.7 394.9h1.5v1.5h-1.5zM825.0 390.0h1.5v1.5h-1.5zM844.8 400.0h1.5v1.5h-1.5zM834.8 397.6h1.5v1.5h-1.5zM851.7 403.1h1.5v1.5h-1.5zM807.2 386.3h1.5v1.5h-1.5zM853.7 392.3h1.5v1.5h-1.5zM885.4 392.1h1.5v1.5h-1.5zM772.3 378.0h1.5v1.5h-1.5zM810.0 409.5h1.5v1.5h-1.5zM846.7 384.6h1.5v1.5h-1.5zM891.4 392.7h1.5v1.5h-1.5zM877.9 392.9h1.5v1.5h-1.5zM873.9 395.7h1.5v1.5h-1.5zM838.0 404.1h1.5v1.5h-1.5zM792.4 388.9h1.5v1.5h-1.5z" fill="#2f60c8"/>
<path d="M866.4 393.4h1.5v1.5h-1.5zM807.7 397.3h1.5v1.5h-1.5zM772.4 417.7h1.5v1.5h-1.5zM778.9 416.7h1.5v1.5h-1.5zM780.6 416.6h1.5v1.5h-1.5zM765.2 405.4h1.5v1.5h-1.5zM758.2 397.0h1.5v1.5h-1.5zM811.6 400.4h1.5v1.5h-1.5zM844.9 402.9h1.5v1.5h-1.5zM798.8 401.1h1.5v1.5h-1.5zM825.5 397.1h1.5v1.5h-1.5zM836.4 390.3h1.5v1.5h-1.5zM850.5 394.0h1.5v1.5h-1.5zM864.8 401.3h1.5v1.5h-1.5zM837.6 406.6h1.5v1.5h-1.5zM816.3 395.9h1.5v1.5h-1.5zM769.9 383.0h1.5v1.5h-1.5zM794.4 395.7h1.5v1.5h-1.5zM842.1 392.2h1.5v1.5h-1.5zM848.0 395.6h1.5v1.5h-1.5zM763.8 393.4h1.5v1.5h-1.5zM818.9 402.0h1.5v1.5h-1.5zM795.3 408.0h1.5v1.5h-1.5zM803.6 409.5h1.5v1.5h-1.5zM796.6 415.6h1.5v1.5h-1.5zM793.9 421.3h1.5v1.5h-1.5zM810.5 402.6h1.5v1.5h-1.5zM888.8 399.8h1.5v1.5h-1.5zM888.1 402.9h1.5v1.5h-1.5zM834.8 409.8h1.5v1.5h-1.5zM821.5 388.6h1.5v1.5h-1.5zM827.7 396.3h1.5v1.5h-1.5zM764.6 408.1h1.5v1.5h-1.5zM800.9 402.2h1.5v1.5h-1.5zM805.5 401.4h1.5v1.5h-1.5zM800.6 408.0h1.5v1.5h-1.5zM792.2 410.0h1.5v1.5h-1.5zM769.3 411.1h1.5v1.5h-1.5zM801.1 386.4h1.5v1.5h-1.5zM769.5 388.0h1.5v1.5h-1.5zM790.1 405.8h1.5v1.5h-1.5zM770.8 391.2h1.5v1.5h-1.5zM810.1 405.0h1.5v1.5h-1.5zM775.0 391.9h1.5v1.5h-1.5zM779.4 415.0h1.5v1.5h-1.5zM909.1 303.0h1.5v1.5h-1.5zM775.0 386.7h1.5v1.5h-1.5zM800.0 394.8h1.5v1.5h-1.5zM837.9 399.2h1.5v1.5h-1.5zM877.5 401.3h1.5v1.5h-1.5zM810.3 406.1h1.5v1.5h-1.5zM834.4 397.8h1.5v1.5h-1.5zM849.0 402.4h1.5v1.5h-1.5zM771.3 411.7h1.5v1.5h-1.5zM771.6 384.3h1.5v1.5h-1.5zM767.9 394.1h1.5v1.5h-1.5zM836.7 400.9h1.5v1.5h-1.5zM855.3 395.5h1.5v1.5h-1.5zM809.0 409.3h1.5v1.5h-1.5zM813.9 403.6h1.5v1.5h-1.5zM795.1 379.8h1.5v1.5h-1.5zM831.9 395.4h1.5v1.5h-1.5zM848.3 402.9h1.5v1.5h-1.5zM811.1 393.6h1.5v1.5h-1.5zM877.5 244.2h1.5v1.5h-1.5zM785.0 385.2h1.5v1.5h-1.5zM763.1 398.1h1.5v1.5h-1.5zM796.6 411.0h1.5v1.5h-1.5zM763.3 418.2h1.5v1.5h-1.5zM778.8 420.4h1.5v1.5h-1.5zM805.3 392.2h1.5v1.5h-1.5zM779.7 388.5h1.5v1.5h-1.5zM875.6 324.6h1.5v1.5h-1.5zM790.1 414.8h1.5v1.5h-1.5zM759.4 399.1h1.5v1.5h-1.5zM789.3 393.4h1.5v1.5h-1.5zM767.9 381.0h1.5v1.5h-1.5zM776.7 411.9h1.5v1.5h-1.5zM779.0 421.2h1.5v1.5h-1.5zM765.2 414.6h1.5v1.5h-1.5zM846.2 399.2h1.5v1.5h-1.5zM822.4 403.9h1.5v1.5h-1.5zM879.4 400.8h1.5v1.5h-1.5zM795.1 382.5h1.5v1.5h-1.5zM763.2 397.8h1.5v1.5h-1.5zM765.3 407.5h1.5v1.5h-1.5zM791.3 383.0h1.5v1.5h-1.5zM758.3 410.0h1.5v1.5h-1.5zM762.9 393.6h1.5v1.5h-1.5zM864.5 393.4h1.5v1.5h-1.5zM813.5 397.2h1.5v1.5h-1.5zM862.8 388.6h1.5v1.5h-1.5zM887.9 386.9h1.5v1.5h-1.5zM840.9 399.3h1.5v1.5h-1.5zM800.2 382.1h1.5v1.5h-1.5zM805.5 400.1h1.5v1.5h-1.5zM785.4 381.6h1.5v1.5h-1.5zM797.1 400.9h1.5v1.5h-1.5zM795.0 415.7h1.5v1.5h-1.5zM788.2 386.2h1.5v1.5h-1.5zM776.1 411.0h1.5v1.5h-1.5zM793.4 386.3h1.5v1.5h-1.5zM774.1 421.6h1.5v1.5h-1.5zM806.1 406.0h1.5v1.5h-1.5zM828.5 393.4h1.5v1.5h-1.5zM832.2 398.0h1.5v1.5h-1.5zM830.6 402.6h1.5v1.5h-1.5zM844.4 388.2h1.5v1.5h-1.5zM843.3 392.4h1.5v1.5h-1.5zM810.0 405.4h1.5v1.5h-1.5zM863.1 235.4h1.5v1.5h-1.5zM777.8 407.1h1.5v1.5h-1.5zM818.3 383.8h1.5v1.5h-1.5zM865.2 400.6h1.5v1.5h-1.5zM813.2 400.9h1.5v1.5h-1.5zM816.0 397.0h1.5v1.5h-1.5zM849.4 396.7h1.5v1.5h-1.5zM822.0 402.5h1.5v1.5h-1.5zM796.1 396.6h1.5v1.5h-1.5zM840.8 399.8h1.5v1.5h-1.5zM778.1 420.2h1.5v1.5h-1.5zM786.5 389.5h1.5v1.5h-1.5zM760.8 410.0h1.5v1.5h-1.5zM795.4 385.5h1.5v1.5h-1.5zM785.9 388.8h1.5v1.5h-1.5zM851.9 401.8h1.5v1.5h-1.5zM819.1 393.1h1.5v1.5h-1.5zM815.6 395.9h1.5v1.5h-1.5zM783.9 382.3h1.5v1.5h-1.5zM781.0 385.5h1.5v1.5h-1.5zM760.2 392.8h1.5v1.5h-1.5zM782.2 414.2h1.5v1.5h-1.5zM783.4 403.4h1.5v1.5h-1.5zM798.5 382.6h1.5v1.5h-1.5zM769.9 414.5h1.5v1.5h-1.5zM781.6 421.9h1.5v1.5h-1.5zM802.4 404.6h1.5v1.5h-1.5zM814.1 401.7h1.5v1.5h-1.5zM771.5 393.1h1.5v1.5h-1.5zM800.6 397.6h1.5v1.5h-1.5zM783.9 413.2h1.5v1.5h-1.5zM769.8 411.7h1.5v1.5h-1.5zM776.1 388.1h1.5v1.5h-1.5zM791.8 387.7h1.5v1.5h-1.5zM886.5 389.7h1.5v1.5h-1.5zM844.8 400.5h1.5v1.5h-1.5zM778.1 386.1h1.5v1.5h-1.5zM810.5 400.6h1.5v1.5h-1.5zM783.1 385.9h1.5v1.5h-1.5zM794.2 406.5h1.5v1.5h-1.5zM773.7 391.5h1.5v1.5h-1.5zM763.3 408.4h1.5v1.5h-1.5zM759.5 400.5h1.5v1.5h-1.5zM775.7 413.0h1.5v1.5h-1.5zM762.1 401.8h1.5v1.5h-1.5zM777.4 406.8h1.5v1.5h-1.5zM860.2 389.9h1.5v1.5h-1.5zM818.3 402.8h1.5v1.5h-1.5zM804.9 399.0h1.5v1.5h-1.5zM819.3 393.7h1.5v1.5h-1.5zM779.4 417.1h1.5v1.5h-1.5zM762.6 398.9h1.5v1.5h-1.5zM803.9 386.6h1.5v1.5h-1.5zM792.9 408.8h1.5v1.5h-1.5zM790.1 388.8h1.5v1.5h-1.5zM770.6 409.1h1.5v1.5h-1.5zM773.1 382.0h1.5v1.5h-1.5zM791.3 398.7h1.5v1.5h-1.5zM795.4 397.2h1.5v1.5h-1.5zM794.0 412.6h1.5v1.5h-1.5zM805.2 411.3h1.5v1.5h-1.5zM803.3 410.1h1.5v1.5h-1.5zM825.1 385.9h1.5v1.5h-1.5zM769.9 376.3h1.5v1.5h-1.5zM778.7 417.8h1.5v1.5h-1.5zM764.8 396.3h1.5v1.5h-1.5zM808.1 408.8h1.5v1.5h-1.5zM821.4 402.5h1.5v1.5h-1.5zM797.8 392.9h1.5v1.5h-1.5zM774.0 389.5h1.5v1.5h-1.5zM782.4 389.3h1.5v1.5h-1.5zM786.5 383.3h1.5v1.5h-1.5zM786.9 416.4h1.5v1.5h-1.5zM779.3 414.6h1.5v1.5h-1.5zM810.9 403.7h1.5v1.5h-1.5zM801.3 390.8h1.5v1.5h-1.5zM777.1 420.7h1.5v1.5h-1.5zM783.0 384.4h1.5v1.5h-1.5zM775.6 390.8h1.5v1.5h-1.5zM771.7 414.0h1.5v1.5h-1.5zM811.4 394.1h1.5v1.5h-1.5zM796.3 403.0h1.5v1.5h-1.5zM759.3 406.7h1.5v1.5h-1.5zM799.0 407.7h1.5v1.5h-1.5zM781.0 423.9h1.5v1.5h-1.5zM773.2 416.9h1.5v1.5h-1.5zM776.4 420.7h1.5v1.5h-1.5zM763.0 391.6h1.5v1.5h-1.5zM789.3 407.6h1.5v1.5h-1.5zM764.0 388.2h1.5v1.5h-1.5zM802.6 401.9h1.5v1.5h-1.5zM767.4 389.8h1.5v1.5h-1.5zM800.3 387.9h1.5v1.5h-1.5zM765.3 393.8h1.5v1.5h-1.5zM787.0 388.8h1.5v1.5h-1.5zM803.9 409.1h1.5v1.5h-1.5zM784.6 385.7h1.5v1.5h-1.5zM781.0 385.5h1.5v1.5h-1.5zM804.8 408.1h1.5v1.5h-1.5zM801.4 410.9h1.5v1.5h-1.5zM796.4 394.7h1.5v1.5h-1.5zM829.4 391.8h1.5v1.5h-1.5zM812.4 402.7h1.5v1.5h-1.5zM809.0 403.9h1.5v1.5h-1.5zM828.9 399.5h1.5v1.5h-1.5zM821.1 392.1h1.5v1.5h-1.5zM777.3 390.6h1.5v1.5h-1.5zM771.9 410.0h1.5v1.5h-1.5zM781.2 379.0h1.5v1.5h-1.5zM782.0 381.5h1.5v1.5h-1.5zM787.4 382.8h1.5v1.5h-1.5zM828.6 395.2h1.5v1.5h-1.5zM756.9 407.0h1.5v1.5h-1.5zM773.0 384.2h1.5v1.5h-1.5zM789.8 383.2h1.5v1.5h-1.5zM769.6 400.9h1.5v1.5h-1.5zM775.9 380.2h1.5v1.5h-1.5zM826.2 392.5h1.5v1.5h-1.5zM773.5 372.7h1.5v1.5h-1.5zM770.8 392.1h1.5v1.5h-1.5zM798.2 405.3h1.5v1.5h-1.5zM764.2 411.9h1.5v1.5h-1.5zM799.4 383.7h1.5v1.5h-1.5zM765.7 407.4h1.5v1.5h-1.5zM807.1 396.3h1.5v1.5h-1.5zM777.8 386.2h1.5v1.5h-1.5zM765.5 410.8h1.5v1.5h-1.5zM922.7 387.0h1.5v1.5h-1.5zM862.1 394.4h1.5v1.5h-1.5zM762.1 406.4h1.5v1.5h-1.5zM837.3 405.6h1.5v1.5h-1.5zM857.2 399.0h1.5v1.5h-1.5zM852.9 404.1h1.5v1.5h-1.5zM769.7 395.2h1.5v1.5h-1.5zM801.4 399.4h1.5v1.5h-1.5zM865.3 390.4h1.5v1.5h-1.5zM879.4 391.7h1.5v1.5h-1.5zM897.3 394.7h1.5v1.5h-1.5zM784.5 414.2h1.5v1.5h-1.5zM904.0 391.2h1.5v1.5h-1.5zM785.0 391.2h1.5v1.5h-1.5zM792.6 381.6h1.5v1.5h-1.5zM888.8 405.0h1.5v1.5h-1.5zM845.1 396.3h1.5v1.5h-1.5zM833.6 397.2h1.5v1.5h-1.5zM802.1 393.4h1.5v1.5h-1.5zM763.9 413.3h1.5v1.5h-1.5zM775.6 416.5h1.5v1.5h-1.5zM770.2 390.4h1.5v1.5h-1.5zM902.3 393.0h1.5v1.5h-1.5zM792.4 382.7h1.5v1.5h-1.5zM822.6 389.2h1.5v1.5h-1.5zM785.5 412.3h1.5v1.5h-1.5zM799.6 410.7h1.5v1.5h-1.5zM801.6 384.8h1.5v1.5h-1.5zM766.3 407.7h1.5v1.5h-1.5zM790.2 404.9h1.5v1.5h-1.5zM774.8 418.4h1.5v1.5h-1.5zM804.4 401.9h1.5v1.5h-1.5zM886.0 387.6h1.5v1.5h-1.5zM875.0 393.3h1.5v1.5h-1.5zM791.0 409.8h1.5v1.5h-1.5zM834.9 394.7h1.5v1.5h-1.5zM779.3 413.3h1.5v1.5h-1.5zM763.5 400.0h1.5v1.5h-1.5zM815.1 402.2h1.5v1.5h-1.5zM769.1 412.6h1.5v1.5h-1.5zM766.5 409.2h1.5v1.5h-1.5zM847.3 391.8h1.5v1.5h-1.5zM773.7 375.6h1.5v1.5h-1.5zM800.2 408.2h1.5v1.5h-1.5zM887.6 389.7h1.5v1.5h-1.5zM772.0 386.2h1.5v1.5h-1.5zM794.0 408.0h1.5v1.5h-1.5zM783.2 379.2h1.5v1.5h-1.5zM796.1 406.1h1.5v1.5h-1.5zM781.9 399.6h1.5v1.5h-1.5zM839.7 401.1h1.5v1.5h-1.5zM883.1 396.5h1.5v1.5h-1.5zM881.0 399.3h1.5v1.5h-1.5zM882.3 388.6h1.5v1.5h-1.5zM793.0 391.9h1.5v1.5h-1.5zM909.5 395.3h1.5v1.5h-1.5zM779.1 379.8h1.5v1.5h-1.5zM764.3 388.2h1.5v1.5h-1.5zM883.4 396.9h1.5v1.5h-1.5zM771.0 414.0h1.5v1.5h-1.5zM772.1 388.5h1.5v1.5h-1.5zM845.9 386.0h1.5v1.5h-1.5zM777.4 410.7h1.5v1.5h-1.5zM852.1 394.1h1.5v1.5h-1.5zM885.0 401.2h1.5v1.5h-1.5zM809.2 404.2h1.5v1.5h-1.5zM901.8 395.0h1.5v1.5h-1.5zM816.0 403.5h1.5v1.5h-1.5zM834.5 399.1h1.5v1.5h-1.5zM802.1 388.3h1.5v1.5h-1.5zM817.0 405.7h1.5v1.5h-1.5zM834.9 404.8h1.5v1.5h-1.5zM791.4 417.5h1.5v1.5h-1.5zM772.8 386.1h1.5v1.5h-1.5zM809.3 398.4h1.5v1.5h-1.5zM768.4 407.6h1.5v1.5h-1.5zM770.4 409.6h1.5v1.5h-1.5zM794.1 412.2h1.5v1.5h-1.5zM815.8 397.4h1.5v1.5h-1.5zM783.5 380.0h1.5v1.5h-1.5zM801.8 388.6h1.5v1.5h-1.5zM885.2 389.7h1.5v1.5h-1.5zM816.5 390.1h1.5v1.5h-1.5zM886.3 401.4h1.5v1.5h-1.5zM762.5 402.5h1.5v1.5h-1.5zM792.9 414.0h1.5v1.5h-1.5zM888.8 393.0h1.5v1.5h-1.5zM901.9 396.7h1.5v1.5h-1.5zM794.8 386.7h1.5v1.5h-1.5zM881.4 391.0h1.5v1.5h-1.5zM765.4 400.9h1.5v1.5h-1.5zM898.8 392.2h1.5v1.5h-1.5zM894.2 405.6h1.5v1.5h-1.5zM769.2 411.7h1.5v1.5h-1.5zM756.5 396.8h1.5v1.5h-1.5zM764.3 411.2h1.5v1.5h-1.5zM884.1 387.9h1.5v1.5h-1.5zM903.9 394.6h1.5v1.5h-1.5zM885.4 382.2h1.5v1.5h-1.5zM768.9 398.8h1.5v1.5h-1.5zM768.9 386.2h1.5v1.5h-1.5zM789.4 415.6h1.5v1.5h-1.5zM790.1 403.9h1.5v1.5h-1.5zM881.2 400.9h1.5v1.5h-1.5zM889.7 403.7h1.5v1.5h-1.5zM892.6 389.9h1.5v1.5h-1.5zM885.8 395.4h1.5v1.5h-1.5zM896.2 396.4h1.5v1.5h-1.5zM894.6 403.8h1.5v1.5h-1.5zM775.0 422.8h1.5v1.5h-1.5zM816.5 397.2h1.5v1.5h-1.5zM861.9 389.8h1.5v1.5h-1.5zM822.4 395.6h1.5v1.5h-1.5zM821.1 400.8h1.5v1.5h-1.5zM844.7 403.8h1.5v1.5h-1.5zM864.3 397.8h1.5v1.5h-1.5zM795.3 383.7h1.5v1.5h-1.5zM794.9 388.0h1.5v1.5h-1.5zM777.0 389.8h1.5v1.5h-1.5zM796.9 396.6h1.5v1.5h-1.5zM768.4 408.8h1.5v1.5h-1.5zM797.9 388.0h1.5v1.5h-1.5zM778.0 400.3h1.5v1.5h-1.5zM841.2 399.6h1.5v1.5h-1.5zM891.9 404.0h1.5v1.5h-1.5zM890.2 406.4h1.5v1.5h-1.5zM885.8 395.3h1.5v1.5h-1.5zM897.7 389.5h1.5v1.5h-1.5zM884.2 398.4h1.5v1.5h-1.5zM880.3 399.4h1.5v1.5h-1.5zM848.8 395.0h1.5v1.5h-1.5zM790.1 415.0h1.5v1.5h-1.5zM870.8 392.9h1.5v1.5h-1.5zM807.7 395.5h1.5v1.5h-1.5zM829.4 394.1h1.5v1.5h-1.5zM891.8 399.7h1.5v1.5h-1.5zM851.4 396.6h1.5v1.5h-1.5zM841.3 387.9h1.5v1.5h-1.5zM828.3 407.7h1.5v1.5h-1.5zM805.1 398.3h1.5v1.5h-1.5zM775.8 421.1h1.5v1.5h-1.5zM810.0 399.7h1.5v1.5h-1.5zM880.9 402.9h1.5v1.5h-1.5zM799.7 407.2h1.5v1.5h-1.5zM785.5 386.3h1.5v1.5h-1.5zM758.2 403.8h1.5v1.5h-1.5zM806.5 387.4h1.5v1.5h-1.5zM769.0 386.1h1.5v1.5h-1.5zM773.4 383.7h1.5v1.5h-1.5zM777.2 391.6h1.5v1.5h-1.5zM776.8 385.3h1.5v1.5h-1.5zM770.1 390.9h1.5v1.5h-1.5zM862.7 397.4h1.5v1.5h-1.5zM878.2 399.2h1.5v1.5h-1.5zM801.3 402.9h1.5v1.5h-1.5zM890.7 393.5h1.5v1.5h-1.5zM855.3 395.1h1.5v1.5h-1.5zM878.6 397.6h1.5v1.5h-1.5zM832.2 397.2h1.5v1.5h-1.5zM807.1 402.5h1.5v1.5h-1.5zM765.3 406.7h1.5v1.5h-1.5zM854.8 394.7h1.5v1.5h-1.5zM805.2 403.1h1.5v1.5h-1.5zM838.3 399.2h1.5v1.5h-1.5zM828.9 393.4h1.5v1.5h-1.5zM843.1 395.6h1.5v1.5h-1.5zM862.6 396.7h1.5v1.5h-1.5zM828.9 398.7h1.5v1.5h-1.5zM813.7 395.1h1.5v1.5h-1.5zM860.8 399.2h1.5v1.5h-1.5zM839.2 391.7h1.5v1.5h-1.5zM794.3 413.4h1.5v1.5h-1.5zM785.8 382.0h1.5v1.5h-1.5zM859.8 398.2h1.5v1.5h-1.5zM790.7 384.1h1.5v1.5h-1.5zM805.6 407.0h1.5v1.5h-1.5zM798.6 386.7h1.5v1.5h-1.5zM806.6 409.8h1.5v1.5h-1.5zM796.5 412.1h1.5v1.5h-1.5zM775.8 421.0h1.5v1.5h-1.5zM762.6 399.3h1.5v1.5h-1.5zM814.8 394.8h1.5v1.5h-1.5zM825.2 406.0h1.5v1.5h-1.5zM828.6 393.1h1.5v1.5h-1.5zM874.0 391.4h1.5v1.5h-1.5zM840.2 407.5h1.5v1.5h-1.5zM775.3 404.5h1.5v1.5h-1.5zM843.5 394.0h1.5v1.5h-1.5zM782.8 393.2h1.5v1.5h-1.5zM772.2 386.6h1.5v1.5h-1.5zM829.5 395.9h1.5v1.5h-1.5zM808.9 398.3h1.5v1.5h-1.5zM793.6 393.0h1.5v1.5h-1.5zM802.8 394.6h1.5v1.5h-1.5zM818.7 402.7h1.5v1.5h-1.5zM890.8 405.4h1.5v1.5h-1.5zM862.4 387.8h1.5v1.5h-1.5zM815.5 400.4h1.5v1.5h-1.5zM816.6 395.6h1.5v1.5h-1.5zM818.9 395.7h1.5v1.5h-1.5zM843.0 396.8h1.5v1.5h-1.5zM842.2 398.3h1.5v1.5h-1.5zM802.4 406.1h1.5v1.5h-1.5zM804.7 405.1h1.5v1.5h-1.5zM771.7 411.3h1.5v1.5h-1.5zM803.1 400.2h1.5v1.5h-1.5zM814.8 399.5h1.5v1.5h-1.5zM822.8 405.0h1.5v1.5h-1.5zM861.7 387.5h1.5v1.5h-1.5zM843.0 391.5h1.5v1.5h-1.5zM862.8 392.7h1.5v1.5h-1.5zM764.7 393.6h1.5v1.5h-1.5zM805.4 384.2h1.5v1.5h-1.5zM889.2 391.6h1.5v1.5h-1.5zM849.7 401.5h1.5v1.5h-1.5zM825.0 401.6h1.5v1.5h-1.5zM819.4 399.3h1.5v1.5h-1.5zM848.8 384.4h1.5v1.5h-1.5zM788.8 390.1h1.5v1.5h-1.5zM797.6 409.9h1.5v1.5h-1.5zM779.6 381.6h1.5v1.5h-1.5zM765.1 414.2h1.5v1.5h-1.5zM800.1 388.7h1.5v1.5h-1.5zM792.0 421.8h1.5v1.5h-1.5zM770.1 410.0h1.5v1.5h-1.5zM765.2 405.2h1.5v1.5h-1.5zM803.4 399.6h1.5v1.5h-1.5zM790.6 418.0h1.5v1.5h-1.5zM825.1 391.4h1.5v1.5h-1.5zM823.0 401.9h1.5v1.5h-1.5zM851.3 391.3h1.5v1.5h-1.5zM804.4 393.6h1.5v1.5h-1.5zM823.5 398.0h1.5v1.5h-1.5zM799.5 395.6h1.5v1.5h-1.5zM803.9 393.1h1.5v1.5h-1.5zM783.9 387.7h1.5v1.5h-1.5zM760.9 402.3h1.5v1.5h-1.5zM769.6 379.1h1.5v1.5h-1.5zM773.4 375.6h1.5v1.5h-1.5zM765.9 408.6h1.5v1.5h-1.5zM764.4 408.5h1.5v1.5h-1.5zM814.1 401.7h1.5v1.5h-1.5zM865.4 395.7h1.5v1.5h-1.5zM787.8 415.6h1.5v1.5h-1.5zM777.4 415.0h1.5v1.5h-1.5zM769.6 382.0h1.5v1.5h-1.5zM795.9 407.9h1.5v1.5h-1.5zM776.1 389.3h1.5v1.5h-1.5zM764.0 397.2h1.5v1.5h-1.5zM791.9 384.1h1.5v1.5h-1.5zM778.3 406.2h1.5v1.5h-1.5zM784.0 410.5h1.5v1.5h-1.5zM806.4 404.6h1.5v1.5h-1.5zM807.2 405.6h1.5v1.5h-1.5zM790.4 385.6h1.5v1.5h-1.5zM765.1 384.5h1.5v1.5h-1.5zM800.5 395.2h1.5v1.5h-1.5zM775.1 404.5h1.5v1.5h-1.5zM759.3 410.3h1.5v1.5h-1.5zM863.2 401.1h1.5v1.5h-1.5zM792.1 409.4h1.5v1.5h-1.5zM779.5 388.4h1.5v1.5h-1.5zM802.0 409.5h1.5v1.5h-1.5zM782.5 388.3h1.5v1.5h-1.5zM898.1 308.5h1.5v1.5h-1.5zM766.1 383.8h1.5v1.5h-1.5zM765.4 391.8h1.5v1.5h-1.5zM780.9 385.1h1.5v1.5h-1.5zM796.4 389.7h1.5v1.5h-1.5zM827.1 391.4h1.5v1.5h-1.5zM827.3 396.8h1.5v1.5h-1.5zM816.7 398.3h1.5v1.5h-1.5zM801.6 392.4h1.5v1.5h-1.5zM795.0 410.0h1.5v1.5h-1.5zM822.9 397.4h1.5v1.5h-1.5zM779.5 411.2h1.5v1.5h-1.5zM780.8 381.1h1.5v1.5h-1.5zM796.6 405.2h1.5v1.5h-1.5z" fill="#38c8d0"/>
<path d="M781.2 416.7h1.5v1.5h-1.5zM790.3 418.7h1.5v1.5h-1.5zM766.7 402.6h1.5v1.5h-1.5zM784.0 413.8h1.5v1.5h-1.5zM801.6 389.4h1.5v1.5h-1.5zM809.6 401.7h1.5v1.5h-1.5zM772.1 389.5h1.5v1.5h-1.5zM779.8 389.5h1.5v1.5h-1.5zM764.0 405.9h1.5v1.5h-1.5zM787.1 408.9h1.5v1.5h-1.5zM786.0 386.5h1.5v1.5h-1.5zM838.8 391.7h1.5v1.5h-1.5zM786.1 389.7h1.5v1.5h-1.5zM781.2 395.3h1.5v1.5h-1.5zM771.2 384.4h1.5v1.5h-1.5zM793.2 392.5h1.5v1.5h-1.5zM771.6 407.3h1.5v1.5h-1.5zM768.8 413.6h1.5v1.5h-1.5zM769.4 407.3h1.5v1.5h-1.5zM763.7 393.8h1.5v1.5h-1.5zM791.8 385.9h1.5v1.5h-1.5zM770.4 413.3h1.5v1.5h-1.5zM790.1 389.7h1.5v1.5h-1.5zM779.1 385.4h1.5v1.5h-1.5zM760.9 407.5h1.5v1.5h-1.5zM771.0 383.5h1.5v1.5h-1.5zM779.9 410.4h1.5v1.5h-1.5zM785.4 394.0h1.5v1.5h-1.5zM797.7 387.9h1.5v1.5h-1.5zM791.4 405.4h1.5v1.5h-1.5zM775.6 403.0h1.5v1.5h-1.5zM776.8 403.8h1.5v1.5h-1.5zM791.8 384.3h1.5v1.5h-1.5zM785.2 408.4h1.5v1.5h-1.5zM788.2 387.7h1.5v1.5h-1.5zM773.3 414.7h1.5v1.5h-1.5zM775.4 401.7h1.5v1.5h-1.5zM767.7 393.6h1.5v1.5h-1.5zM794.1 391.8h1.5v1.5h-1.5zM797.6 395.0h1.5v1.5h-1.5zM769.1 395.8h1.5v1.5h-1.5zM775.3 402.4h1.5v1.5h-1.5zM768.8 392.5h1.5v1.5h-1.5zM786.2 395.6h1.5v1.5h-1.5zM776.5 408.0h1.5v1.5h-1.5zM784.1 421.0h1.5v1.5h-1.5zM777.3 407.2h1.5v1.5h-1.5zM766.0 404.6h1.5v1.5h-1.5zM778.6 411.2h1.5v1.5h-1.5zM790.5 410.6h1.5v1.5h-1.5zM795.3 419.7h1.5v1.5h-1.5zM782.9 383.2h1.5v1.5h-1.5zM757.1 399.3h1.5v1.5h-1.5zM780.5 411.1h1.5v1.5h-1.5zM762.7 402.0h1.5v1.5h-1.5zM792.7 392.2h1.5v1.5h-1.5zM786.3 413.4h1.5v1.5h-1.5zM790.2 410.2h1.5v1.5h-1.5zM782.8 392.5h1.5v1.5h-1.5zM762.9 399.5h1.5v1.5h-1.5zM776.0 386.5h1.5v1.5h-1.5zM785.4 392.9h1.5v1.5h-1.5zM790.7 392.3h1.5v1.5h-1.5zM811.5 396.3h1.5v1.5h-1.5zM779.5 400.4h1.5v1.5h-1.5zM779.2 419.9h1.5v1.5h-1.5zM762.1 406.1h1.5v1.5h-1.5zM771.3 386.6h1.5v1.5h-1.5zM788.3 389.6h1.5v1.5h-1.5zM801.6 410.4h1.5v1.5h-1.5zM768.1 391.5h1.5v1.5h-1.5zM810.2 401.2h1.5v1.5h-1.5zM778.9 380.9h1.5v1.5h-1.5zM767.9 399.2h1.5v1.5h-1.5zM798.0 407.6h1.5v1.5h-1.5zM778.7 416.7h1.5v1.5h-1.5zM781.4 406.4h1.5v1.5h-1.5zM768.2 396.6h1.5v1.5h-1.5zM789.2 387.3h1.5v1.5h-1.5zM788.9 413.5h1.5v1.5h-1.5zM795.4 398.9h1.5v1.5h-1.5zM783.9 414.4h1.5v1.5h-1.5zM797.8 402.9h1.5v1.5h-1.5zM796.3 392.7h1.5v1.5h-1.5zM843.0 396.6h1.5v1.5h-1.5zM826.5 394.7h1.5v1.5h-1.5zM799.9 400.2h1.5v1.5h-1.5zM785.4 404.6h1.5v1.5h-1.5zM803.7 406.3h1.5v1.5h-1.5zM838.3 407.7h1.5v1.5h-1.5zM836.3 406.3h1.5v1.5h-1.5zM834.0 402.6h1.5v1.5h-1.5zM793.8 401.8h1.5v1.5h-1.5zM790.6 417.8h1.5v1.5h-1.5zM803.7 405.9h1.5v1.5h-1.5zM816.5 400.1h1.5v1.5h-1.5zM777.2 398.6h1.5v1.5h-1.5zM772.2 408.7h1.5v1.5h-1.5zM795.6 410.9h1.5v1.5h-1.5zM765.9 397.8h1.5v1.5h-1.5zM767.6 412.8h1.5v1.5h-1.5zM769.2 399.3h1.5v1.5h-1.5zM766.4 390.0h1.5v1.5h-1.5zM794.3 391.6h1.5v1.5h-1.5zM781.8 388.8h1.5v1.5h-1.5zM778.3 409.0h1.5v1.5h-1.5zM781.2 385.1h1.5v1.5h-1.5zM795.0 388.2h1.5v1.5h-1.5zM788.5 406.5h1.5v1.5h-1.5zM768.9 383.2h1.5v1.5h-1.5zM794.2 390.9h1.5v1.5h-1.5zM773.8 399.8h1.5v1.5h-1.5zM787.8 383.9h1.5v1.5h-1.5zM802.4 398.0h1.5v1.5h-1.5zM815.5 398.8h1.5v1.5h-1.5zM816.2 401.5h1.5v1.5h-1.5zM797.8 413.9h1.5v1.5h-1.5zM805.9 398.7h1.5v1.5h-1.5zM781.8 408.1h1.5v1.5h-1.5zM800.2 399.9h1.5v1.5h-1.5zM788.3 388.9h1.5v1.5h-1.5zM789.5 385.5h1.5v1.5h-1.5zM764.4 400.4h1.5v1.5h-1.5zM788.9 392.2h1.5v1.5h-1.5zM798.0 388.7h1.5v1.5h-1.5zM801.1 396.7h1.5v1.5h-1.5zM794.1 396.6h1.5v1.5h-1.5zM787.8 416.2h1.5v1.5h-1.5zM842.2 395.9h1.5v1.5h-1.5zM810.6 397.1h1.5v1.5h-1.5zM882.7 399.1h1.5v1.5h-1.5zM786.2 383.6h1.5v1.5h-1.5zM768.0 411.6h1.5v1.5h-1.5zM774.4 409.6h1.5v1.5h-1.5zM773.0 390.2h1.5v1.5h-1.5zM771.1 397.3h1.5v1.5h-1.5zM790.1 383.8h1.5v1.5h-1.5zM800.2 403.9h1.5v1.5h-1.5zM820.4 394.5h1.5v1.5h-1.5zM792.9 412.7h1.5v1.5h-1.5zM798.7 399.9h1.5v1.5h-1.5zM794.1 401.6h1.5v1.5h-1.5zM819.6 399.0h1.5v1.5h-1.5zM823.6 403.8h1.5v1.5h-1.5zM802.9 396.7h1.5v1.5h-1.5zM798.4 387.8h1.5v1.5h-1.5zM760.1 398.9h1.5v1.5h-1.5zM778.4 409.2h1.5v1.5h-1.5zM799.3 391.0h1.5v1.5h-1.5zM792.3 393.8h1.5v1.5h-1.5zM777.1 388.9h1.5v1.5h-1.5zM823.3 393.7h1.5v1.5h-1.5zM789.3 398.0h1.5v1.5h-1.5zM775.7 392.6h1.5v1.5h-1.5zM772.7 412.2h1.5v1.5h-1.5zM778.8 391.6h1.5v1.5h-1.5zM764.8 394.0h1.5v1.5h-1.5zM801.5 385.6h1.5v1.5h-1.5zM788.5 389.6h1.5v1.5h-1.5zM773.7 401.0h1.5v1.5h-1.5zM791.8 395.8h1.5v1.5h-1.5zM785.9 395.1h1.5v1.5h-1.5zM785.8 395.5h1.5v1.5h-1.5zM791.8 413.9h1.5v1.5h-1.5zM793.2 406.2h1.5v1.5h-1.5zM807.0 400.8h1.5v1.5h-1.5zM767.0 394.6h1.5v1.5h-1.5zM805.0 399.9h1.5v1.5h-1.5zM789.3 406.0h1.5v1.5h-1.5zM774.5 388.7h1.5v1.5h-1.5zM771.2 393.9h1.5v1.5h-1.5zM766.2 397.5h1.5v1.5h-1.5zM765.8 402.5h1.5v1.5h-1.5zM797.9 403.5h1.5v1.5h-1.5zM781.2 392.9h1.5v1.5h-1.5zM793.8 409.6h1.5v1.5h-1.5zM816.3 400.4h1.5v1.5h-1.5zM789.6 395.2h1.5v1.5h-1.5zM764.7 388.5h1.5v1.5h-1.5zM778.1 396.6h1.5v1.5h-1.5zM764.3 400.3h1.5v1.5h-1.5zM793.9 411.2h1.5v1.5h-1.5zM766.9 387.9h1.5v1.5h-1.5zM761.5 402.8h1.5v1.5h-1.5zM795.0 414.4h1.5v1.5h-1.5zM768.5 415.6h1.5v1.5h-1.5zM780.2 407.3h1.5v1.5h-1.5zM784.0 399.0h1.5v1.5h-1.5zM770.2 409.4h1.5v1.5h-1.5zM805.9 401.9h1.5v1.5h-1.5zM825.7 400.6h1.5v1.5h-1.5zM863.1 397.6h1.5v1.5h-1.5zM763.1 393.3h1.5v1.5h-1.5zM775.3 374.7h1.5v1.5h-1.5zM784.5 418.3h1.5v1.5h-1.5zM788.2 410.0h1.5v1.5h-1.5zM763.1 398.6h1.5v1.5h-1.5zM790.3 403.3h1.5v1.5h-1.5zM779.6 413.5h1.5v1.5h-1.5zM790.5 401.0h1.5v1.5h-1.5zM817.0 408.1h1.5v1.5h-1.5zM772.8 403.5h1.5v1.5h-1.5zM797.3 397.8h1.5v1.5h-1.5zM845.9 395.5h1.5v1.5h-1.5zM794.3 411.3h1.5v1.5h-1.5zM788.2 388.6h1.5v1.5h-1.5zM788.2 398.6h1.5v1.5h-1.5zM795.1 400.5h1.5v1.5h-1.5zM793.9 403.3h1.5v1.5h-1.5zM798.4 399.2h1.5v1.5h-1.5zM808.8 398.5h1.5v1.5h-1.5zM807.4 405.7h1.5v1.5h-1.5zM836.6 390.8h1.5v1.5h-1.5zM837.6 398.9h1.5v1.5h-1.5zM828.1 397.8h1.5v1.5h-1.5zM802.0 403.5h1.5v1.5h-1.5zM795.5 394.9h1.5v1.5h-1.5zM848.6 394.7h1.5v1.5h-1.5zM790.2 385.4h1.5v1.5h-1.5zM796.6 402.9h1.5v1.5h-1.5zM819.7 401.6h1.5v1.5h-1.5zM842.5 397.3h1.5v1.5h-1.5zM773.6 404.6h1.5v1.5h-1.5zM766.3 399.3h1.5v1.5h-1.5zM783.5 410.2h1.5v1.5h-1.5zM778.4 396.8h1.5v1.5h-1.5zM790.6 399.8h1.5v1.5h-1.5zM781.1 408.6h1.5v1.5h-1.5zM793.5 390.1h1.5v1.5h-1.5zM761.0 399.1h1.5v1.5h-1.5zM781.6 410.0h1.5v1.5h-1.5zM800.0 409.2h1.5v1.5h-1.5zM883.9 406.0h1.5v1.5h-1.5zM832.9 400.5h1.5v1.5h-1.5zM804.8 407.1h1.5v1.5h-1.5zM793.2 406.7h1.5v1.5h-1.5zM798.9 406.7h1.5v1.5h-1.5zM791.4 385.9h1.5v1.5h-1.5zM768.1 398.2h1.5v1.5h-1.5zM790.4 409.5h1.5v1.5h-1.5zM810.3 400.7h1.5v1.5h-1.5zM804.7 401.9h1.5v1.5h-1.5zM838.4 396.3h1.5v1.5h-1.5zM802.4 400.3h1.5v1.5h-1.5zM883.2 389.7h1.5v1.5h-1.5zM779.8 416.8h1.5v1.5h-1.5zM771.9 381.2h1.5v1.5h-1.5zM800.8 397.4h1.5v1.5h-1.5zM777.6 389.5h1.5v1.5h-1.5zM866.1 394.6h1.5v1.5h-1.5zM788.5 395.9h1.5v1.5h-1.5zM764.6 409.9h1.5v1.5h-1.5zM805.2 389.0h1.5v1.5h-1.5zM814.2 398.5h1.5v1.5h-1.5zM885.9 399.6h1.5v1.5h-1.5zM791.0 416.1h1.5v1.5h-1.5zM773.2 399.9h1.5v1.5h-1.5zM773.6 382.2h1.5v1.5h-1.5zM767.6 389.2h1.5v1.5h-1.5zM763.9 391.0h1.5v1.5h-1.5zM783.5 415.7h1.5v1.5h-1.5zM797.7 383.4h1.5v1.5h-1.5zM765.5 397.7h1.5v1.5h-1.5zM799.6 405.3h1.5v1.5h-1.5zM780.0 397.7h1.5v1.5h-1.5zM759.8 406.5h1.5v1.5h-1.5zM763.8 415.9h1.5v1.5h-1.5zM879.0 247.4h1.5v1.5h-1.5zM797.1 414.4h1.5v1.5h-1.5zM778.5 412.5h1.5v1.5h-1.5zM793.3 395.3h1.5v1.5h-1.5zM795.0 398.3h1.5v1.5h-1.5zM803.6 412.1h1.5v1.5h-1.5zM806.7 401.6h1.5v1.5h-1.5zM799.7 388.4h1.5v1.5h-1.5zM768.2 410.6h1.5v1.5h-1.5zM766.0 402.3h1.5v1.5h-1.5zM773.5 384.3h1.5v1.5h-1.5zM781.1 389.8h1.5v1.5h-1.5zM788.2 385.5h1.5v1.5h-1.5zM799.4 405.4h1.5v1.5h-1.5zM766.8 397.4h1.5v1.5h-1.5zM775.3 401.0h1.5v1.5h-1.5zM801.8 409.2h1.5v1.5h-1.5zM790.3 416.6h1.5v1.5h-1.5zM842.6 392.9h1.5v1.5h-1.5zM809.5 402.9h1.5v1.5h-1.5zM803.4 404.9h1.5v1.5h-1.5zM780.8 389.4h1.5v1.5h-1.5zM765.7 402.4h1.5v1.5h-1.5zM788.2 405.3h1.5v1.5h-1.5zM778.3 414.7h1.5v1.5h-1.5zM772.1 390.6h1.5v1.5h-1.5zM781.3 390.8h1.5v1.5h-1.5zM804.0 409.7h1.5v1.5h-1.5zM768.2 387.1h1.5v1.5h-1.5zM780.6 410.5h1.5v1.5h-1.5zM768.7 392.3h1.5v1.5h-1.5zM779.2 419.0h1.5v1.5h-1.5zM764.7 390.0h1.5v1.5h-1.5zM796.9 391.7h1.5v1.5h-1.5zM777.5 405.3h1.5v1.5h-1.5zM770.9 400.8h1.5v1.5h-1.5zM768.2 401.9h1.5v1.5h-1.5zM776.5 389.0h1.5v1.5h-1.5zM785.3 404.1h1.5v1.5h-1.5zM798.3 394.4h1.5v1.5h-1.5zM811.2 397.2h1.5v1.5h-1.5zM828.5 394.5h1.5v1.5h-1.5zM792.9 391.4h1.5v1.5h-1.5zM790.5 387.1h1.5v1.5h-1.5zM863.5 397.9h1.5v1.5h-1.5zM807.3 401.0h1.5v1.5h-1.5zM793.1 399.5h1.5v1.5h-1.5zM793.6 382.4h1.5v1.5h-1.5zM775.3 389.3h1.5v1.5h-1.5zM786.0 394.0h1.5v1.5h-1.5zM794.7 388.5h1.5v1.5h-1.5zM775.5 382.7h1.5v1.5h-1.5zM799.6 397.9h1.5v1.5h-1.5zM790.1 400.8h1.5v1.5h-1.5zM796.5 405.2h1.5v1.5h-1.5zM762.0 403.5h1.5v1.5h-1.5zM815.6 393.5h1.5v1.5h-1.5zM809.0 396.0h1.5v1.5h-1.5zM773.5 412.4h1.5v1.5h-1.5zM772.2 383.9h1.5v1.5h-1.5zM767.0 402.9h1.5v1.5h-1.5zM770.8 392.7h1.5v1.5h-1.5zM767.6 395.9h1.5v1.5h-1.5zM794.6 395.4h1.5v1.5h-1.5zM771.7 403.3h1.5v1.5h-1.5zM777.3 413.1h1.5v1.5h-1.5zM779.0 400.7h1.5v1.5h-1.5zM803.8 396.2h1.5v1.5h-1.5zM788.3 384.8h1.5v1.5h-1.5zM780.9 397.5h1.5v1.5h-1.5zM785.8 394.8h1.5v1.5h-1.5zM780.5 410.6h1.5v1.5h-1.5zM774.4 408.1h1.5v1.5h-1.5zM807.0 395.7h1.5v1.5h-1.5zM784.0 387.0h1.5v1.5h-1.5zM800.4 407.7h1.5v1.5h-1.5zM773.3 405.4h1.5v1.5h-1.5zM783.6 396.6h1.5v1.5h-1.5zM757.6 404.1h1.5v1.5h-1.5zM768.7 395.7h1.5v1.5h-1.5zM807.8 409.5h1.5v1.5h-1.5zM834.8 405.8h1.5v1.5h-1.5zM877.9 390.2h1.5v1.5h-1.5zM775.6 418.1h1.5v1.5h-1.5zM780.7 400.4h1.5v1.5h-1.5zM883.4 392.4h1.5v1.5h-1.5zM806.1 407.9h1.5v1.5h-1.5zM808.5 399.9h1.5v1.5h-1.5zM839.8 399.8h1.5v1.5h-1.5zM799.4 395.1h1.5v1.5h-1.5zM796.8 387.4h1.5v1.5h-1.5zM790.3 400.2h1.5v1.5h-1.5zM797.8 409.1h1.5v1.5h-1.5zM810.5 395.3h1.5v1.5h-1.5zM793.7 385.8h1.5v1.5h-1.5zM769.5 399.7h1.5v1.5h-1.5zM811.3 401.6h1.5v1.5h-1.5zM780.5 387.4h1.5v1.5h-1.5zM764.9 401.4h1.5v1.5h-1.5zM779.9 410.7h1.5v1.5h-1.5zM764.3 407.5h1.5v1.5h-1.5zM764.4 405.0h1.5v1.5h-1.5zM806.1 406.7h1.5v1.5h-1.5zM774.7 389.3h1.5v1.5h-1.5zM794.1 386.1h1.5v1.5h-1.5zM772.0 398.0h1.5v1.5h-1.5zM793.0 408.9h1.5v1.5h-1.5zM882.3 395.3h1.5v1.5h-1.5zM837.1 403.2h1.5v1.5h-1.5zM773.5 396.1h1.5v1.5h-1.5zM807.5 406.1h1.5v1.5h-1.5zM763.7 390.1h1.5v1.5h-1.5zM786.6 407.6h1.5v1.5h-1.5zM805.3 405.2h1.5v1.5h-1.5zM783.1 389.5h1.5v1.5h-1.5zM812.6 400.2h1.5v1.5h-1.5zM794.3 383.5h1.5v1.5h-1.5zM796.9 380.6h1.5v1.5h-1.5zM795.2 387.5h1.5v1.5h-1.5zM787.3 409.8h1.5v1.5h-1.5zM763.4 414.4h1.5v1.5h-1.5zM803.4 391.4h1.5v1.5h-1.5zM775.4 411.4h1.5v1.5h-1.5zM784.1 381.3h1.5v1.5h-1.5zM792.4 388.7h1.5v1.5h-1.5zM773.1 417.2h1.5v1.5h-1.5zM799.3 407.0h1.5v1.5h-1.5zM797.8 397.3h1.5v1.5h-1.5zM791.9 385.7h1.5v1.5h-1.5zM758.5 396.6h1.5v1.5h-1.5zM780.2 388.7h1.5v1.5h-1.5zM781.7 394.3h1.5v1.5h-1.5zM800.1 405.2h1.5v1.5h-1.5zM883.5 392.8h1.5v1.5h-1.5zM794.9 396.3h1.5v1.5h-1.5zM766.0 405.0h1.5v1.5h-1.5zM773.1 398.4h1.5v1.5h-1.5zM768.7 404.2h1.5v1.5h-1.5zM801.5 385.6h1.5v1.5h-1.5zM798.3 393.7h1.5v1.5h-1.5zM784.8 401.4h1.5v1.5h-1.5zM793.6 408.3h1.5v1.5h-1.5zM761.5 396.9h1.5v1.5h-1.5zM782.6 414.4h1.5v1.5h-1.5zM789.5 395.2h1.5v1.5h-1.5zM780.9 393.4h1.5v1.5h-1.5zM789.5 395.3h1.5v1.5h-1.5zM788.3 387.1h1.5v1.5h-1.5zM804.5 397.5h1.5v1.5h-1.5zM789.6 390.3h1.5v1.5h-1.5zM793.2 402.4h1.5v1.5h-1.5zM780.2 386.1h1.5v1.5h-1.5zM903.5 393.8h1.5v1.5h-1.5zM803.4 402.3h1.5v1.5h-1.5zM764.9 395.9h1.5v1.5h-1.5zM769.7 394.5h1.5v1.5h-1.5zM787.1 411.4h1.5v1.5h-1.5zM764.3 389.3h1.5v1.5h-1.5zM804.4 397.8h1.5v1.5h-1.5zM866.5 397.7h1.5v1.5h-1.5zM830.1 396.5h1.5v1.5h-1.5zM798.0 406.9h1.5v1.5h-1.5zM836.3 402.3h1.5v1.5h-1.5zM779.8 418.5h1.5v1.5h-1.5zM794.1 409.1h1.5v1.5h-1.5zM800.2 405.1h1.5v1.5h-1.5zM863.3 396.1h1.5v1.5h-1.5zM820.2 391.8h1.5v1.5h-1.5zM768.5 385.5h1.5v1.5h-1.5zM796.8 410.4h1.5v1.5h-1.5zM770.6 409.7h1.5v1.5h-1.5zM775.5 393.8h1.5v1.5h-1.5zM785.2 409.9h1.5v1.5h-1.5zM785.6 410.8h1.5v1.5h-1.5zM796.8 397.4h1.5v1.5h-1.5zM762.9 404.8h1.5v1.5h-1.5zM812.4 403.0h1.5v1.5h-1.5zM774.8 396.2h1.5v1.5h-1.5zM774.2 413.6h1.5v1.5h-1.5zM860.4 393.0h1.5v1.5h-1.5zM796.8 410.5h1.5v1.5h-1.5zM783.1 415.3h1.5v1.5h-1.5zM867.8 393.4h1.5v1.5h-1.5zM773.1 406.2h1.5v1.5h-1.5zM791.4 409.7h1.5v1.5h-1.5zM779.3 389.7h1.5v1.5h-1.5zM795.8 415.3h1.5v1.5h-1.5zM784.3 403.1h1.5v1.5h-1.5zM796.1 390.5h1.5v1.5h-1.5zM882.9 391.9h1.5v1.5h-1.5zM881.7 398.8h1.5v1.5h-1.5zM771.2 406.3h1.5v1.5h-1.5zM768.2 404.8h1.5v1.5h-1.5zM938.6 391.0h1.5v1.5h-1.5zM801.9 398.3h1.5v1.5h-1.5zM801.4 387.1h1.5v1.5h-1.5zM797.4 394.0h1.5v1.5h-1.5zM771.8 407.6h1.5v1.5h-1.5zM762.8 410.4h1.5v1.5h-1.5zM772.7 409.8h1.5v1.5h-1.5zM777.5 390.6h1.5v1.5h-1.5zM772.5 383.5h1.5v1.5h-1.5zM786.0 410.4h1.5v1.5h-1.5zM790.5 389.3h1.5v1.5h-1.5zM796.0 390.5h1.5v1.5h-1.5zM801.9 399.4h1.5v1.5h-1.5zM797.4 405.0h1.5v1.5h-1.5zM786.8 390.0h1.5v1.5h-1.5zM793.0 384.1h1.5v1.5h-1.5zM815.8 395.6h1.5v1.5h-1.5zM791.0 411.8h1.5v1.5h-1.5zM799.5 395.2h1.5v1.5h-1.5zM774.5 413.9h1.5v1.5h-1.5zM802.7 386.9h1.5v1.5h-1.5zM779.8 386.9h1.5v1.5h-1.5zM772.4 389.7h1.5v1.5h-1.5zM775.9 398.0h1.5v1.5h-1.5zM788.3 397.9h1.5v1.5h-1.5zM776.3 385.2h1.5v1.5h-1.5zM788.6 390.6h1.5v1.5h-1.5zM801.7 411.6h1.5v1.5h-1.5zM779.9 388.7h1.5v1.5h-1.5zM785.0 387.8h1.5v1.5h-1.5zM849.2 389.9h1.5v1.5h-1.5zM796.9 398.2h1.5v1.5h-1.5zM774.7 391.9h1.5v1.5h-1.5zM796.9 385.5h1.5v1.5h-1.5zM794.8 384.8h1.5v1.5h-1.5zM782.9 387.9h1.5v1.5h-1.5zM793.2 413.9h1.5v1.5h-1.5zM794.7 398.2h1.5v1.5h-1.5zM882.5 397.8h1.5v1.5h-1.5zM880.0 396.3h1.5v1.5h-1.5zM787.6 406.9h1.5v1.5h-1.5zM771.2 403.1h1.5v1.5h-1.5zM796.5 385.8h1.5v1.5h-1.5zM787.7 400.5h1.5v1.5h-1.5zM790.2 394.6h1.5v1.5h-1.5zM841.3 392.7h1.5v1.5h-1.5zM811.5 410.3h1.5v1.5h-1.5zM814.7 393.4h1.5v1.5h-1.5zM806.1 406.4h1.5v1.5h-1.5zM781.4 384.1h1.5v1.5h-1.5zM790.9 407.6h1.5v1.5h-1.5zM792.0 399.2h1.5v1.5h-1.5zM778.9 387.1h1.5v1.5h-1.5zM787.3 412.9h1.5v1.5h-1.5zM777.0 383.5h1.5v1.5h-1.5zM779.5 403.6h1.5v1.5h-1.5zM775.9 392.3h1.5v1.5h-1.5zM781.6 418.4h1.5v1.5h-1.5zM764.2 394.0h1.5v1.5h-1.5zM776.7 406.3h1.5v1.5h-1.5zM780.8 415.7h1.5v1.5h-1.5zM797.4 407.1h1.5v1.5h-1.5zM789.1 386.5h1.5v1.5h-1.5zM769.6 388.6h1.5v1.5h-1.5zM789.0 385.5h1.5v1.5h-1.5zM791.6 390.3h1.5v1.5h-1.5zM792.0 388.5h1.5v1.5h-1.5zM800.6 395.2h1.5v1.5h-1.5zM774.3 403.5h1.5v1.5h-1.5zM891.3 400.7h1.5v1.5h-1.5zM882.5 392.5h1.5v1.5h-1.5zM800.0 412.1h1.5v1.5h-1.5zM783.8 391.5h1.5v1.5h-1.5zM765.6 409.2h1.5v1.5h-1.5zM786.2 396.1h1.5v1.5h-1.5zM772.5 413.8h1.5v1.5h-1.5zM787.8 385.7h1.5v1.5h-1.5zM792.6 390.2h1.5v1.5h-1.5zM800.3 389.9h1.5v1.5h-1.5zM773.8 411.3h1.5v1.5h-1.5zM780.2 421.0h1.5v1.5h-1.5zM770.0 412.0h1.5v1.5h-1.5zM792.1 398.7h1.5v1.5h-1.5zM770.4 400.1h1.5v1.5h-1.5zM798.1 395.3h1.5v1.5h-1.5zM879.3 393.1h1.5v1.5h-1.5zM852.2 404.5h1.5v1.5h-1.5zM804.1 394.0h1.5v1.5h-1.5zM808.3 398.4h1.5v1.5h-1.5zM846.6 396.1h1.5v1.5h-1.5zM807.7 403.1h1.5v1.5h-1.5zM795.8 405.4h1.5v1.5h-1.5zM802.6 404.5h1.5v1.5h-1.5zM776.8 391.1h1.5v1.5h-1.5zM776.7 409.0h1.5v1.5h-1.5zM792.3 391.4h1.5v1.5h-1.5zM806.8 410.7h1.5v1.5h-1.5zM796.1 392.0h1.5v1.5h-1.5zM902.9 395.8h1.5v1.5h-1.5zM777.0 413.4h1.5v1.5h-1.5zM772.1 396.2h1.5v1.5h-1.5zM770.5 391.6h1.5v1.5h-1.5zM801.4 388.8h1.5v1.5h-1.5zM795.4 414.1h1.5v1.5h-1.5zM800.6 394.8h1.5v1.5h-1.5zM795.3 387.9h1.5v1.5h-1.5zM767.4 396.2h1.5v1.5h-1.5zM794.5 406.4h1.5v1.5h-1.5zM851.9 398.5h1.5v1.5h-1.5zM849.8 394.4h1.5v1.5h-1.5zM787.2 388.6h1.5v1.5h-1.5zM768.3 407.2h1.5v1.5h-1.5zM781.1 395.4h1.5v1.5h-1.5zM776.7 381.2h1.5v1.5h-1.5zM889.5 391.2h1.5v1.5h-1.5zM799.9 384.0h1.5v1.5h-1.5zM792.7 389.8h1.5v1.5h-1.5zM813.1 403.4h1.5v1.5h-1.5zM786.2 408.0h1.5v1.5h-1.5zM781.2 404.6h1.5v1.5h-1.5zM839.2 401.5h1.5v1.5h-1.5zM800.5 401.3h1.5v1.5h-1.5zM862.8 394.6h1.5v1.5h-1.5zM890.9 402.4h1.5v1.5h-1.5zM799.2 400.5h1.5v1.5h-1.5zM831.9 392.9h1.5v1.5h-1.5zM795.0 402.0h1.5v1.5h-1.5zM770.3 401.9h1.5v1.5h-1.5zM801.8 400.4h1.5v1.5h-1.5zM799.2 409.2h1.5v1.5h-1.5zM833.7 395.5h1.5v1.5h-1.5zM795.2 398.1h1.5v1.5h-1.5zM803.5 405.5h1.5v1.5h-1.5zM786.7 407.8h1.5v1.5h-1.5zM795.7 406.2h1.5v1.5h-1.5zM761.5 404.0h1.5v1.5h-1.5zM800.9 400.8h1.5v1.5h-1.5zM796.2 394.2h1.5v1.5h-1.5zM824.7 384.1h1.5v1.5h-1.5zM805.0 405.9h1.5v1.5h-1.5zM782.9 408.8h1.5v1.5h-1.5zM772.6 402.9h1.5v1.5h-1.5zM781.7 386.1h1.5v1.5h-1.5zM778.6 389.1h1.5v1.5h-1.5zM793.1 391.5h1.5v1.5h-1.5zM763.9 403.3h1.5v1.5h-1.5zM786.2 390.0h1.5v1.5h-1.5zM781.9 385.8h1.5v1.5h-1.5zM760.9 401.1h1.5v1.5h-1.5zM821.7 395.5h1.5v1.5h-1.5zM800.0 395.1h1.5v1.5h-1.5zM795.0 399.1h1.5v1.5h-1.5zM801.3 400.8h1.5v1.5h-1.5zM810.2 408.5h1.5v1.5h-1.5zM805.5 399.2h1.5v1.5h-1.5zM801.3 390.2h1.5v1.5h-1.5zM790.4 403.8h1.5v1.5h-1.5z" fill="#3cc040"/>
<path d="M781.6 409.9h1.5v1.5h-1.5zM785.2 394.2h1.5v1.5h-1.5zM791.6 402.6h1.5v1.5h-1.5zM781.9 388.2h1.5v1.5h-1.5zM791.2 400.4h1.5v1.5h-1.5zM796.1 403.8h1.5v1.5h-1.5zM779.6 401.7h1.5v1.5h-1.5zM800.1 396.8h1.5v1.5h-1.5zM782.6 405.1h1.5v1.5h-1.5zM790.7 398.7h1.5v1.5h-1.5zM775.9 399.9h1.5v1.5h-1.5zM774.8 410.3h1.5v1.5h-1.5zM789.9 411.6h1.5v1.5h-1.5zM781.4 395.7h1.5v1.5h-1.5zM795.2 393.0h1.5v1.5h-1.5zM789.4 400.8h1.5v1.5h-1.5zM783.3 390.4h1.5v1.5h-1.5zM791.3 396.1h1.5v1.5h-1.5zM791.3 388.9h1.5v1.5h-1.5zM760.6 405.1h1.5v1.5h-1.5zM783.4 389.1h1.5v1.5h-1.5zM765.0 409.0h1.5v1.5h-1.5zM784.6 412.5h1.5v1.5h-1.5zM778.8 403.5h1.5v1.5h-1.5zM779.9 406.2h1.5v1.5h-1.5zM787.1 399.8h1.5v1.5h-1.5zM776.5 393.9h1.5v1.5h-1.5zM784.7 391.1h1.5v1.5h-1.5zM787.8 385.9h1.5v1.5h-1.5zM775.9 395.8h1.5v1.5h-1.5zM786.1 395.9h1.5v1.5h-1.5zM782.7 403.8h1.5v1.5h-1.5zM776.3 410.0h1.5v1.5h-1.5zM791.7 406.8h1.5v1.5h-1.5zM782.9 401.1h1.5v1.5h-1.5zM783.9 400.0h1.5v1.5h-1.5zM771.0 405.8h1.5v1.5h-1.5zM768.1 397.7h1.5v1.5h-1.5zM797.7 399.4h1.5v1.5h-1.5zM793.6 394.4h1.5v1.5h-1.5zM781.3 401.7h1.5v1.5h-1.5zM780.6 392.0h1.5v1.5h-1.5zM799.6 400.6h1.5v1.5h-1.5zM800.9 393.5h1.5v1.5h-1.5zM772.4 406.8h1.5v1.5h-1.5zM775.8 399.0h1.5v1.5h-1.5zM778.1 392.0h1.5v1.5h-1.5zM778.5 397.3h1.5v1.5h-1.5zM783.2 412.8h1.5v1.5h-1.5zM790.7 411.9h1.5v1.5h-1.5zM805.8 402.0h1.5v1.5h-1.5zM800.5 395.0h1.5v1.5h-1.5zM773.2 396.6h1.5v1.5h-1.5zM780.1 405.0h1.5v1.5h-1.5zM776.7 400.3h1.5v1.5h-1.5zM779.3 392.0h1.5v1.5h-1.5zM796.2 388.8h1.5v1.5h-1.5zM782.8 408.5h1.5v1.5h-1.5zM768.6 396.0h1.5v1.5h-1.5zM781.3 407.5h1.5v1.5h-1.5zM778.0 404.5h1.5v1.5h-1.5zM792.1 401.1h1.5v1.5h-1.5zM794.0 397.8h1.5v1.5h-1.5zM779.2 394.2h1.5v1.5h-1.5zM797.0 406.6h1.5v1.5h-1.5zM785.2 393.7h1.5v1.5h-1.5zM793.0 393.1h1.5v1.5h-1.5zM770.2 403.6h1.5v1.5h-1.5zM771.3 405.5h1.5v1.5h-1.5zM792.2 406.1h1.5v1.5h-1.5zM775.7 402.2h1.5v1.5h-1.5zM786.6 402.1h1.5v1.5h-1.5zM789.4 401.2h1.5v1.5h-1.5zM774.5 392.3h1.5v1.5h-1.5zM793.7 408.0h1.5v1.5h-1.5zM777.4 407.4h1.5v1.5h-1.5zM770.5 399.7h1.5v1.5h-1.5zM787.4 393.1h1.5v1.5h-1.5zM782.7 393.4h1.5v1.5h-1.5zM785.9 406.5h1.5v1.5h-1.5zM762.8 404.9h1.5v1.5h-1.5zM773.9 402.3h1.5v1.5h-1.5zM775.5 398.0h1.5v1.5h-1.5zM783.0 397.1h1.5v1.5h-1.5zM774.3 403.4h1.5v1.5h-1.5zM792.2 402.7h1.5v1.5h-1.5zM781.0 387.6h1.5v1.5h-1.5zM862.9 392.8h1.5v1.5h-1.5zM760.9 405.0h1.5v1.5h-1.5zM796.5 404.8h1.5v1.5h-1.5zM785.7 402.2h1.5v1.5h-1.5zM776.6 390.0h1.5v1.5h-1.5zM782.5 388.3h1.5v1.5h-1.5zM781.3 407.5h1.5v1.5h-1.5zM785.4 404.7h1.5v1.5h-1.5zM798.5 400.3h1.5v1.5h-1.5zM806.8 403.2h1.5v1.5h-1.5zM776.0 395.5h1.5v1.5h-1.5zM786.8 397.8h1.5v1.5h-1.5zM787.3 404.0h1.5v1.5h-1.5zM797.5 406.2h1.5v1.5h-1.5zM782.5 410.5h1.5v1.5h-1.5zM789.9 391.1h1.5v1.5h-1.5zM780.9 391.5h1.5v1.5h-1.5zM780.6 403.0h1.5v1.5h-1.5zM805.4 399.0h1.5v1.5h-1.5zM770.5 399.1h1.5v1.5h-1.5zM774.1 395.1h1.5v1.5h-1.5zM767.7 389.7h1.5v1.5h-1.5zM780.3 402.7h1.5v1.5h-1.5zM783.5 413.4h1.5v1.5h-1.5zM778.5 412.0h1.5v1.5h-1.5zM779.1 388.0h1.5v1.5h-1.5zM793.1 401.6h1.5v1.5h-1.5zM776.2 412.7h1.5v1.5h-1.5zM770.0 402.1h1.5v1.5h-1.5zM773.5 391.8h1.5v1.5h-1.5zM770.4 410.3h1.5v1.5h-1.5zM804.3 399.2h1.5v1.5h-1.5zM777.7 395.0h1.5v1.5h-1.5zM788.9 390.6h1.5v1.5h-1.5zM786.9 404.8h1.5v1.5h-1.5zM774.0 401.1h1.5v1.5h-1.5zM775.4 400.2h1.5v1.5h-1.5zM784.7 394.8h1.5v1.5h-1.5zM774.5 401.3h1.5v1.5h-1.5zM790.1 394.8h1.5v1.5h-1.5zM803.8 405.3h1.5v1.5h-1.5zM782.6 407.5h1.5v1.5h-1.5zM777.8 410.5h1.5v1.5h-1.5zM790.8 393.3h1.5v1.5h-1.5zM789.9 398.1h1.5v1.5h-1.5zM793.5 391.6h1.5v1.5h-1.5zM780.1 411.7h1.5v1.5h-1.5zM795.9 408.0h1.5v1.5h-1.5zM772.7 405.1h1.5v1.5h-1.5zM777.6 389.8h1.5v1.5h-1.5zM792.8 403.0h1.5v1.5h-1.5zM780.2 413.7h1.5v1.5h-1.5zM792.2 394.8h1.5v1.5h-1.5zM785.7 394.8h1.5v1.5h-1.5zM792.0 404.6h1.5v1.5h-1.5zM785.4 404.2h1.5v1.5h-1.5zM786.3 398.9h1.5v1.5h-1.5zM785.8 406.9h1.5v1.5h-1.5zM782.0 397.8h1.5v1.5h-1.5zM780.9 401.4h1.5v1.5h-1.5zM801.5 401.6h1.5v1.5h-1.5zM779.0 394.6h1.5v1.5h-1.5zM795.0 390.3h1.5v1.5h-1.5zM779.7 396.3h1.5v1.5h-1.5zM770.8 396.6h1.5v1.5h-1.5zM796.1 396.2h1.5v1.5h-1.5zM791.4 410.9h1.5v1.5h-1.5zM792.8 398.6h1.5v1.5h-1.5zM779.3 396.5h1.5v1.5h-1.5zM775.2 396.3h1.5v1.5h-1.5zM790.2 401.1h1.5v1.5h-1.5zM828.1 395.4h1.5v1.5h-1.5zM773.7 406.6h1.5v1.5h-1.5zM786.0 395.7h1.5v1.5h-1.5zM777.2 398.2h1.5v1.5h-1.5zM785.4 388.9h1.5v1.5h-1.5zM789.9 404.0h1.5v1.5h-1.5zM810.2 409.9h1.5v1.5h-1.5zM796.1 398.6h1.5v1.5h-1.5zM791.2 398.1h1.5v1.5h-1.5zM793.3 408.1h1.5v1.5h-1.5zM793.8 395.9h1.5v1.5h-1.5zM792.9 390.1h1.5v1.5h-1.5zM773.8 410.8h1.5v1.5h-1.5zM787.6 399.0h1.5v1.5h-1.5zM803.7 394.1h1.5v1.5h-1.5zM793.7 394.6h1.5v1.5h-1.5zM795.9 399.3h1.5v1.5h-1.5zM774.9 403.4h1.5v1.5h-1.5zM796.7 396.7h1.5v1.5h-1.5zM775.7 402.8h1.5v1.5h-1.5zM796.2 394.1h1.5v1.5h-1.5zM786.5 396.9h1.5v1.5h-1.5zM786.4 397.4h1.5v1.5h-1.5zM778.3 401.4h1.5v1.5h-1.5zM783.7 401.6h1.5v1.5h-1.5zM795.1 399.6h1.5v1.5h-1.5zM786.4 403.5h1.5v1.5h-1.5zM791.9 393.7h1.5v1.5h-1.5zM774.0 403.6h1.5v1.5h-1.5zM813.4 400.6h1.5v1.5h-1.5zM765.3 401.0h1.5v1.5h-1.5zM795.2 388.3h1.5v1.5h-1.5zM790.1 393.4h1.5v1.5h-1.5zM768.8 407.2h1.5v1.5h-1.5zM774.3 393.1h1.5v1.5h-1.5zM789.7 395.7h1.5v1.5h-1.5zM793.1 397.1h1.5v1.5h-1.5zM773.4 391.9h1.5v1.5h-1.5zM776.9 396.9h1.5v1.5h-1.5zM786.6 394.6h1.5v1.5h-1.5zM783.5 386.4h1.5v1.5h-1.5zM784.7 412.0h1.5v1.5h-1.5zM768.0 403.7h1.5v1.5h-1.5zM771.7 390.0h1.5v1.5h-1.5zM777.0 412.1h1.5v1.5h-1.5zM778.8 397.8h1.5v1.5h-1.5zM792.4 411.2h1.5v1.5h-1.5zM787.5 409.4h1.5v1.5h-1.5zM816.0 395.3h1.5v1.5h-1.5zM768.1 399.0h1.5v1.5h-1.5zM784.8 400.6h1.5v1.5h-1.5zM783.7 404.4h1.5v1.5h-1.5zM782.0 390.8h1.5v1.5h-1.5zM784.8 408.9h1.5v1.5h-1.5zM791.8 396.9h1.5v1.5h-1.5zM788.1 398.1h1.5v1.5h-1.5zM806.0 406.3h1.5v1.5h-1.5zM788.8 401.5h1.5v1.5h-1.5zM803.6 403.2h1.5v1.5h-1.5zM777.0 395.6h1.5v1.5h-1.5zM792.2 391.3h1.5v1.5h-1.5zM793.6 390.1h1.5v1.5h-1.5zM778.3 405.3h1.5v1.5h-1.5zM820.0 401.7h1.5v1.5h-1.5zM793.3 397.7h1.5v1.5h-1.5zM782.4 399.2h1.5v1.5h-1.5zM773.1 393.7h1.5v1.5h-1.5zM779.1 409.7h1.5v1.5h-1.5zM772.2 392.6h1.5v1.5h-1.5zM775.2 403.0h1.5v1.5h-1.5zM797.0 405.7h1.5v1.5h-1.5zM807.3 401.1h1.5v1.5h-1.5zM776.7 387.1h1.5v1.5h-1.5zM801.8 398.2h1.5v1.5h-1.5zM793.2 403.7h1.5v1.5h-1.5zM777.2 405.5h1.5v1.5h-1.5zM773.4 406.3h1.5v1.5h-1.5zM805.7 398.3h1.5v1.5h-1.5zM797.7 385.4h1.5v1.5h-1.5zM791.7 398.6h1.5v1.5h-1.5zM814.8 398.7h1.5v1.5h-1.5zM788.2 401.3h1.5v1.5h-1.5zM759.4 403.4h1.5v1.5h-1.5zM777.7 401.9h1.5v1.5h-1.5zM795.2 397.8h1.5v1.5h-1.5zM789.2 406.1h1.5v1.5h-1.5zM780.8 390.8h1.5v1.5h-1.5zM798.0 406.3h1.5v1.5h-1.5zM787.3 397.4h1.5v1.5h-1.5zM768.8 410.3h1.5v1.5h-1.5zM786.6 401.9h1.5v1.5h-1.5zM768.8 407.1h1.5v1.5h-1.5zM801.9 403.6h1.5v1.5h-1.5zM804.1 401.4h1.5v1.5h-1.5zM834.5 396.8h1.5v1.5h-1.5zM784.1 403.9h1.5v1.5h-1.5zM779.2 394.7h1.5v1.5h-1.5zM778.6 410.4h1.5v1.5h-1.5zM773.1 392.4h1.5v1.5h-1.5zM784.4 415.2h1.5v1.5h-1.5zM781.1 396.0h1.5v1.5h-1.5zM791.2 402.2h1.5v1.5h-1.5zM787.1 404.3h1.5v1.5h-1.5zM770.6 390.0h1.5v1.5h-1.5zM769.9 403.1h1.5v1.5h-1.5zM790.3 389.0h1.5v1.5h-1.5zM769.6 402.8h1.5v1.5h-1.5zM782.8 396.4h1.5v1.5h-1.5zM790.9 410.7h1.5v1.5h-1.5zM778.4 396.2h1.5v1.5h-1.5zM770.7 403.2h1.5v1.5h-1.5zM791.9 398.7h1.5v1.5h-1.5zM785.6 409.0h1.5v1.5h-1.5zM780.2 410.9h1.5v1.5h-1.5zM786.7 397.8h1.5v1.5h-1.5zM790.9 402.9h1.5v1.5h-1.5zM773.9 400.7h1.5v1.5h-1.5zM779.5 389.8h1.5v1.5h-1.5zM792.1 407.5h1.5v1.5h-1.5zM782.2 410.2h1.5v1.5h-1.5zM781.0 415.3h1.5v1.5h-1.5zM790.2 391.7h1.5v1.5h-1.5zM796.2 407.4h1.5v1.5h-1.5zM770.6 401.3h1.5v1.5h-1.5zM796.3 398.9h1.5v1.5h-1.5zM782.6 399.4h1.5v1.5h-1.5zM778.3 391.6h1.5v1.5h-1.5zM784.6 401.4h1.5v1.5h-1.5zM792.7 387.1h1.5v1.5h-1.5zM769.8 397.2h1.5v1.5h-1.5zM774.3 409.4h1.5v1.5h-1.5zM769.4 392.6h1.5v1.5h-1.5zM769.0 404.0h1.5v1.5h-1.5zM775.1 412.9h1.5v1.5h-1.5zM799.4 406.9h1.5v1.5h-1.5zM798.5 397.1h1.5v1.5h-1.5zM775.5 407.4h1.5v1.5h-1.5zM762.9 403.4h1.5v1.5h-1.5zM787.3 404.2h1.5v1.5h-1.5zM774.4 407.4h1.5v1.5h-1.5zM783.9 411.4h1.5v1.5h-1.5zM783.1 394.9h1.5v1.5h-1.5zM814.3 395.8h1.5v1.5h-1.5zM777.3 396.1h1.5v1.5h-1.5zM781.6 396.4h1.5v1.5h-1.5zM788.7 409.7h1.5v1.5h-1.5zM772.4 400.8h1.5v1.5h-1.5zM783.5 392.8h1.5v1.5h-1.5zM787.4 406.0h1.5v1.5h-1.5zM790.0 405.3h1.5v1.5h-1.5zM773.8 399.8h1.5v1.5h-1.5zM767.6 389.6h1.5v1.5h-1.5zM811.5 396.8h1.5v1.5h-1.5zM786.8 403.7h1.5v1.5h-1.5zM787.8 399.1h1.5v1.5h-1.5zM786.7 388.3h1.5v1.5h-1.5zM780.2 404.7h1.5v1.5h-1.5zM788.9 400.2h1.5v1.5h-1.5zM776.5 399.3h1.5v1.5h-1.5zM781.6 395.4h1.5v1.5h-1.5zM785.0 401.5h1.5v1.5h-1.5zM794.4 391.7h1.5v1.5h-1.5zM784.9 394.3h1.5v1.5h-1.5zM779.0 399.5h1.5v1.5h-1.5zM787.0 395.2h1.5v1.5h-1.5zM777.4 396.4h1.5v1.5h-1.5zM789.3 397.3h1.5v1.5h-1.5zM791.1 398.8h1.5v1.5h-1.5zM795.3 407.0h1.5v1.5h-1.5zM772.3 387.7h1.5v1.5h-1.5zM772.3 397.7h1.5v1.5h-1.5zM779.7 401.6h1.5v1.5h-1.5zM769.9 405.6h1.5v1.5h-1.5zM800.4 398.1h1.5v1.5h-1.5zM787.3 406.0h1.5v1.5h-1.5zM773.3 402.8h1.5v1.5h-1.5zM780.7 394.6h1.5v1.5h-1.5zM789.6 408.6h1.5v1.5h-1.5zM784.9 410.5h1.5v1.5h-1.5zM775.8 402.5h1.5v1.5h-1.5zM787.9 395.4h1.5v1.5h-1.5zM789.0 401.5h1.5v1.5h-1.5zM792.7 399.9h1.5v1.5h-1.5zM784.7 411.3h1.5v1.5h-1.5zM767.8 394.3h1.5v1.5h-1.5zM796.3 391.7h1.5v1.5h-1.5zM777.7 388.1h1.5v1.5h-1.5zM799.5 407.2h1.5v1.5h-1.5zM779.8 398.2h1.5v1.5h-1.5zM791.8 396.1h1.5v1.5h-1.5zM799.2 401.6h1.5v1.5h-1.5zM788.0 414.7h1.5v1.5h-1.5zM790.9 393.3h1.5v1.5h-1.5zM768.2 405.0h1.5v1.5h-1.5zM777.4 392.1h1.5v1.5h-1.5zM781.3 404.6h1.5v1.5h-1.5zM783.7 402.3h1.5v1.5h-1.5zM776.4 410.7h1.5v1.5h-1.5zM786.8 405.3h1.5v1.5h-1.5zM769.0 402.6h1.5v1.5h-1.5zM782.0 398.4h1.5v1.5h-1.5zM793.6 393.2h1.5v1.5h-1.5zM787.4 406.1h1.5v1.5h-1.5zM783.3 404.6h1.5v1.5h-1.5zM772.6 395.9h1.5v1.5h-1.5zM792.7 395.8h1.5v1.5h-1.5zM792.1 393.9h1.5v1.5h-1.5zM784.9 405.0h1.5v1.5h-1.5zM795.8 385.3h1.5v1.5h-1.5zM773.8 389.6h1.5v1.5h-1.5zM786.4 398.5h1.5v1.5h-1.5zM771.7 386.6h1.5v1.5h-1.5zM769.8 403.6h1.5v1.5h-1.5zM780.7 405.6h1.5v1.5h-1.5zM784.2 409.9h1.5v1.5h-1.5zM766.8 403.6h1.5v1.5h-1.5zM794.0 391.7h1.5v1.5h-1.5zM795.8 389.3h1.5v1.5h-1.5zM776.3 408.8h1.5v1.5h-1.5zM778.3 390.5h1.5v1.5h-1.5zM794.9 399.4h1.5v1.5h-1.5zM777.3 392.1h1.5v1.5h-1.5zM786.9 409.9h1.5v1.5h-1.5zM849.6 393.1h1.5v1.5h-1.5zM767.9 398.5h1.5v1.5h-1.5zM789.5 387.6h1.5v1.5h-1.5zM782.3 397.1h1.5v1.5h-1.5zM783.4 407.1h1.5v1.5h-1.5zM795.4 395.6h1.5v1.5h-1.5zM777.2 408.2h1.5v1.5h-1.5zM775.3 407.0h1.5v1.5h-1.5zM782.8 399.2h1.5v1.5h-1.5zM792.3 408.1h1.5v1.5h-1.5zM781.3 405.4h1.5v1.5h-1.5zM781.3 400.5h1.5v1.5h-1.5zM781.9 397.9h1.5v1.5h-1.5zM784.9 402.5h1.5v1.5h-1.5zM798.1 399.5h1.5v1.5h-1.5zM781.5 384.8h1.5v1.5h-1.5zM768.9 383.1h1.5v1.5h-1.5zM777.0 388.8h1.5v1.5h-1.5zM767.4 406.0h1.5v1.5h-1.5zM782.6 403.2h1.5v1.5h-1.5zM786.7 406.8h1.5v1.5h-1.5zM789.5 403.4h1.5v1.5h-1.5zM780.1 409.7h1.5v1.5h-1.5zM772.6 396.3h1.5v1.5h-1.5zM768.4 396.7h1.5v1.5h-1.5zM766.4 405.4h1.5v1.5h-1.5zM780.8 386.6h1.5v1.5h-1.5zM772.3 402.1h1.5v1.5h-1.5zM803.3 395.7h1.5v1.5h-1.5zM778.2 388.2h1.5v1.5h-1.5zM795.6 413.4h1.5v1.5h-1.5zM804.2 403.6h1.5v1.5h-1.5zM775.3 392.1h1.5v1.5h-1.5zM773.9 399.5h1.5v1.5h-1.5zM779.2 395.9h1.5v1.5h-1.5zM786.8 407.6h1.5v1.5h-1.5zM794.6 387.0h1.5v1.5h-1.5zM769.0 392.7h1.5v1.5h-1.5zM790.7 401.4h1.5v1.5h-1.5zM772.9 405.8h1.5v1.5h-1.5zM780.0 397.7h1.5v1.5h-1.5zM781.4 411.3h1.5v1.5h-1.5zM783.1 413.7h1.5v1.5h-1.5zM769.0 399.6h1.5v1.5h-1.5zM800.1 401.7h1.5v1.5h-1.5zM777.1 414.7h1.5v1.5h-1.5zM777.3 415.9h1.5v1.5h-1.5zM768.4 404.5h1.5v1.5h-1.5zM781.1 390.5h1.5v1.5h-1.5zM794.8 394.2h1.5v1.5h-1.5zM790.3 409.0h1.5v1.5h-1.5zM791.7 399.4h1.5v1.5h-1.5zM778.6 406.4h1.5v1.5h-1.5zM792.7 403.7h1.5v1.5h-1.5zM785.0 412.0h1.5v1.5h-1.5zM796.9 390.7h1.5v1.5h-1.5zM801.4 407.6h1.5v1.5h-1.5zM830.3 393.0h1.5v1.5h-1.5zM830.9 395.0h1.5v1.5h-1.5zM795.9 386.7h1.5v1.5h-1.5zM789.7 397.4h1.5v1.5h-1.5zM764.0 393.6h1.5v1.5h-1.5zM788.1 394.5h1.5v1.5h-1.5zM786.3 392.4h1.5v1.5h-1.5zM783.0 403.7h1.5v1.5h-1.5zM771.6 408.2h1.5v1.5h-1.5zM772.8 406.9h1.5v1.5h-1.5zM787.4 407.1h1.5v1.5h-1.5zM782.3 397.8h1.5v1.5h-1.5zM785.2 392.7h1.5v1.5h-1.5zM803.4 410.1h1.5v1.5h-1.5zM801.1 404.6h1.5v1.5h-1.5zM772.5 393.8h1.5v1.5h-1.5zM770.5 402.0h1.5v1.5h-1.5zM770.5 400.7h1.5v1.5h-1.5zM783.5 401.8h1.5v1.5h-1.5zM769.8 401.4h1.5v1.5h-1.5zM777.8 419.0h1.5v1.5h-1.5zM770.6 402.5h1.5v1.5h-1.5zM777.7 395.7h1.5v1.5h-1.5zM788.7 409.5h1.5v1.5h-1.5zM792.9 412.9h1.5v1.5h-1.5zM783.0 392.1h1.5v1.5h-1.5zM886.9 388.1h1.5v1.5h-1.5zM858.9 393.2h1.5v1.5h-1.5zM790.2 390.2h1.5v1.5h-1.5zM791.1 389.9h1.5v1.5h-1.5zM790.9 393.9h1.5v1.5h-1.5zM801.4 395.2h1.5v1.5h-1.5zM798.2 418.1h1.5v1.5h-1.5zM782.4 396.7h1.5v1.5h-1.5zM770.7 394.7h1.5v1.5h-1.5zM788.9 402.6h1.5v1.5h-1.5zM789.6 406.1h1.5v1.5h-1.5zM775.6 406.9h1.5v1.5h-1.5zM793.5 406.7h1.5v1.5h-1.5zM760.9 400.3h1.5v1.5h-1.5zM805.1 409.9h1.5v1.5h-1.5zM778.7 395.0h1.5v1.5h-1.5zM768.0 401.3h1.5v1.5h-1.5zM785.0 393.7h1.5v1.5h-1.5zM777.3 406.3h1.5v1.5h-1.5zM799.4 397.4h1.5v1.5h-1.5zM850.6 394.0h1.5v1.5h-1.5zM781.1 401.4h1.5v1.5h-1.5zM790.1 404.7h1.5v1.5h-1.5zM797.2 402.9h1.5v1.5h-1.5zM797.2 387.0h1.5v1.5h-1.5zM782.1 392.0h1.5v1.5h-1.5zM804.6 402.3h1.5v1.5h-1.5zM785.6 399.6h1.5v1.5h-1.5zM779.9 402.1h1.5v1.5h-1.5zM786.3 404.9h1.5v1.5h-1.5zM777.4 399.9h1.5v1.5h-1.5zM800.0 396.5h1.5v1.5h-1.5zM793.3 389.8h1.5v1.5h-1.5zM783.1 408.6h1.5v1.5h-1.5zM893.8 405.9h1.5v1.5h-1.5zM780.3 404.8h1.5v1.5h-1.5zM771.2 387.3h1.5v1.5h-1.5zM781.5 393.5h1.5v1.5h-1.5zM795.1 392.5h1.5v1.5h-1.5zM791.0 402.3h1.5v1.5h-1.5zM784.6 397.3h1.5v1.5h-1.5zM800.8 400.3h1.5v1.5h-1.5zM793.8 389.2h1.5v1.5h-1.5zM786.6 399.0h1.5v1.5h-1.5zM774.0 390.9h1.5v1.5h-1.5zM767.2 401.5h1.5v1.5h-1.5zM770.4 392.5h1.5v1.5h-1.5zM780.1 409.4h1.5v1.5h-1.5zM813.7 399.5h1.5v1.5h-1.5zM803.6 400.9h1.5v1.5h-1.5zM791.5 409.0h1.5v1.5h-1.5zM774.1 385.8h1.5v1.5h-1.5zM780.0 399.8h1.5v1.5h-1.5zM786.8 399.8h1.5v1.5h-1.5zM784.6 410.3h1.5v1.5h-1.5zM797.4 402.7h1.5v1.5h-1.5zM796.2 399.0h1.5v1.5h-1.5zM766.8 393.4h1.5v1.5h-1.5zM782.8 404.8h1.5v1.5h-1.5zM804.2 403.9h1.5v1.5h-1.5zM781.8 400.8h1.5v1.5h-1.5zM781.4 407.3h1.5v1.5h-1.5zM795.8 396.0h1.5v1.5h-1.5zM788.4 410.8h1.5v1.5h-1.5zM791.4 398.1h1.5v1.5h-1.5zM798.2 392.6h1.5v1.5h-1.5zM802.2 404.0h1.5v1.5h-1.5zM804.3 396.8h1.5v1.5h-1.5zM781.5 408.8h1.5v1.5h-1.5zM790.8 398.4h1.5v1.5h-1.5zM777.6 395.0h1.5v1.5h-1.5zM803.3 397.0h1.5v1.5h-1.5zM790.5 386.1h1.5v1.5h-1.5zM788.8 407.8h1.5v1.5h-1.5zM780.4 384.3h1.5v1.5h-1.5zM798.8 388.1h1.5v1.5h-1.5zM806.5 400.2h1.5v1.5h-1.5zM780.7 402.7h1.5v1.5h-1.5zM769.2 399.2h1.5v1.5h-1.5zM766.9 388.9h1.5v1.5h-1.5zM770.8 396.9h1.5v1.5h-1.5zM784.7 390.4h1.5v1.5h-1.5zM777.4 396.4h1.5v1.5h-1.5zM770.9 400.1h1.5v1.5h-1.5zM777.8 404.2h1.5v1.5h-1.5zM774.5 409.3h1.5v1.5h-1.5zM765.8 402.2h1.5v1.5h-1.5zM793.9 397.5h1.5v1.5h-1.5zM795.7 399.8h1.5v1.5h-1.5zM779.6 392.9h1.5v1.5h-1.5zM794.9 392.5h1.5v1.5h-1.5zM776.5 396.3h1.5v1.5h-1.5zM773.8 398.6h1.5v1.5h-1.5zM786.2 398.6h1.5v1.5h-1.5zM795.2 389.6h1.5v1.5h-1.5zM772.8 405.0h1.5v1.5h-1.5zM798.8 389.9h1.5v1.5h-1.5zM773.2 400.4h1.5v1.5h-1.5zM784.6 394.2h1.5v1.5h-1.5zM794.5 395.3h1.5v1.5h-1.5zM807.7 401.4h1.5v1.5h-1.5zM764.7 395.9h1.5v1.5h-1.5zM766.8 395.9h1.5v1.5h-1.5zM794.9 406.2h1.5v1.5h-1.5zM780.2 408.8h1.5v1.5h-1.5zM763.1 402.2h1.5v1.5h-1.5zM791.5 391.4h1.5v1.5h-1.5zM773.6 404.1h1.5v1.5h-1.5zM778.2 398.0h1.5v1.5h-1.5zM780.2 388.0h1.5v1.5h-1.5zM777.4 402.0h1.5v1.5h-1.5zM790.1 398.3h1.5v1.5h-1.5zM775.7 409.8h1.5v1.5h-1.5zM787.8 414.9h1.5v1.5h-1.5zM792.5 393.9h1.5v1.5h-1.5zM774.2 405.5h1.5v1.5h-1.5zM793.6 390.5h1.5v1.5h-1.5zM790.6 394.0h1.5v1.5h-1.5zM791.3 402.8h1.5v1.5h-1.5zM777.1 408.4h1.5v1.5h-1.5zM786.4 409.7h1.5v1.5h-1.5zM773.1 398.7h1.5v1.5h-1.5zM783.1 404.3h1.5v1.5h-1.5zM778.9 401.2h1.5v1.5h-1.5zM773.2 400.4h1.5v1.5h-1.5zM782.9 395.2h1.5v1.5h-1.5zM773.6 381.5h1.5v1.5h-1.5zM782.5 398.4h1.5v1.5h-1.5zM771.2 388.9h1.5v1.5h-1.5zM788.2 419.2h1.5v1.5h-1.5zM796.6 410.1h1.5v1.5h-1.5zM773.7 403.4h1.5v1.5h-1.5zM772.2 407.7h1.5v1.5h-1.5zM791.7 391.3h1.5v1.5h-1.5zM774.8 390.1h1.5v1.5h-1.5zM777.3 402.8h1.5v1.5h-1.5zM785.6 396.8h1.5v1.5h-1.5zM797.6 402.2h1.5v1.5h-1.5zM797.0 397.1h1.5v1.5h-1.5zM781.9 414.6h1.5v1.5h-1.5zM782.0 399.8h1.5v1.5h-1.5zM797.8 402.2h1.5v1.5h-1.5zM777.6 394.9h1.5v1.5h-1.5zM768.9 397.0h1.5v1.5h-1.5zM781.2 403.2h1.5v1.5h-1.5zM770.7 400.8h1.5v1.5h-1.5zM783.1 404.4h1.5v1.5h-1.5zM790.6 396.5h1.5v1.5h-1.5zM771.9 386.3h1.5v1.5h-1.5zM791.4 402.8h1.5v1.5h-1.5zM778.4 405.8h1.5v1.5h-1.5zM799.0 403.0h1.5v1.5h-1.5zM772.1 390.6h1.5v1.5h-1.5zM796.0 398.5h1.5v1.5h-1.5zM815.0 401.8h1.5v1.5h-1.5zM769.7 410.2h1.5v1.5h-1.5zM789.2 406.9h1.5v1.5h-1.5zM771.8 398.4h1.5v1.5h-1.5zM779.8 388.4h1.5v1.5h-1.5zM774.1 391.8h1.5v1.5h-1.5zM773.4 409.1h1.5v1.5h-1.5zM770.9 395.6h1.5v1.5h-1.5zM786.8 394.2h1.5v1.5h-1.5zM793.2 402.6h1.5v1.5h-1.5zM801.9 400.2h1.5v1.5h-1.5zM785.2 409.7h1.5v1.5h-1.5zM796.7 393.2h1.5v1.5h-1.5zM766.7 405.6h1.5v1.5h-1.5zM779.6 408.7h1.5v1.5h-1.5zM767.6 407.2h1.5v1.5h-1.5zM780.6 393.2h1.5v1.5h-1.5zM786.7 402.4h1.5v1.5h-1.5zM790.5 401.0h1.5v1.5h-1.5zM774.0 400.2h1.5v1.5h-1.5zM769.8 404.9h1.5v1.5h-1.5zM794.9 385.5h1.5v1.5h-1.5zM773.2 396.0h1.5v1.5h-1.5zM771.9 397.0h1.5v1.5h-1.5zM783.7 403.5h1.5v1.5h-1.5zM795.2 389.3h1.5v1.5h-1.5zM786.3 408.1h1.5v1.5h-1.5zM886.5 404.6h1.5v1.5h-1.5zM778.3 394.1h1.5v1.5h-1.5zM792.3 400.5h1.5v1.5h-1.5zM795.9 396.0h1.5v1.5h-1.5zM779.9 408.6h1.5v1.5h-1.5zM770.5 393.5h1.5v1.5h-1.5zM760.4 406.7h1.5v1.5h-1.5zM792.3 405.1h1.5v1.5h-1.5zM802.7 396.9h1.5v1.5h-1.5zM783.3 406.9h1.5v1.5h-1.5zM770.8 388.1h1.5v1.5h-1.5zM776.9 400.4h1.5v1.5h-1.5zM790.9 403.7h1.5v1.5h-1.5zM780.6 400.6h1.5v1.5h-1.5zM779.9 401.3h1.5v1.5h-1.5zM773.1 384.5h1.5v1.5h-1.5zM777.9 403.1h1.5v1.5h-1.5zM779.3 390.7h1.5v1.5h-1.5zM793.4 402.0h1.5v1.5h-1.5zM786.8 393.9h1.5v1.5h-1.5zM778.0 416.3h1.5v1.5h-1.5zM788.1 407.2h1.5v1.5h-1.5zM804.5 399.3h1.5v1.5h-1.5zM796.4 391.0h1.5v1.5h-1.5zM764.5 400.5h1.5v1.5h-1.5zM783.4 412.1h1.5v1.5h-1.5zM777.9 398.8h1.5v1.5h-1.5zM782.1 409.3h1.5v1.5h-1.5zM770.7 389.9h1.5v1.5h-1.5zM794.9 395.1h1.5v1.5h-1.5zM780.7 395.6h1.5v1.5h-1.5zM766.8 389.8h1.5v1.5h-1.5zM791.4 390.3h1.5v1.5h-1.5zM783.0 406.1h1.5v1.5h-1.5zM797.0 398.9h1.5v1.5h-1.5zM791.2 399.6h1.5v1.5h-1.5zM769.5 397.7h1.5v1.5h-1.5zM798.6 412.7h1.5v1.5h-1.5zM788.6 396.9h1.5v1.5h-1.5zM803.3 409.3h1.5v1.5h-1.5zM773.5 404.4h1.5v1.5h-1.5zM783.3 403.8h1.5v1.5h-1.5zM777.8 395.3h1.5v1.5h-1.5zM772.3 394.7h1.5v1.5h-1.5zM784.1 395.0h1.5v1.5h-1.5zM800.7 386.3h1.5v1.5h-1.5zM774.8 395.7h1.5v1.5h-1.5zM770.5 392.5h1.5v1.5h-1.5zM775.1 405.2h1.5v1.5h-1.5zM778.5 403.8h1.5v1.5h-1.5zM780.3 394.4h1.5v1.5h-1.5zM777.1 397.4h1.5v1.5h-1.5zM773.6 397.9h1.5v1.5h-1.5zM785.1 406.9h1.5v1.5h-1.5zM774.2 410.6h1.5v1.5h-1.5zM779.3 389.4h1.5v1.5h-1.5zM789.6 408.8h1.5v1.5h-1.5zM785.5 402.1h1.5v1.5h-1.5zM767.9 406.7h1.5v1.5h-1.5zM774.1 397.4h1.5v1.5h-1.5zM784.4 404.8h1.5v1.5h-1.5zM777.3 392.7h1.5v1.5h-1.5zM770.2 396.0h1.5v1.5h-1.5zM766.2 401.2h1.5v1.5h-1.5zM783.4 394.4h1.5v1.5h-1.5zM781.4 401.7h1.5v1.5h-1.5zM786.5 389.1h1.5v1.5h-1.5zM811.1 401.5h1.5v1.5h-1.5zM789.3 399.7h1.5v1.5h-1.5zM803.6 405.3h1.5v1.5h-1.5zM774.2 400.5h1.5v1.5h-1.5zM775.8 405.8h1.5v1.5h-1.5zM765.9 403.4h1.5v1.5h-1.5zM770.9 403.9h1.5v1.5h-1.5zM836.9 404.1h1.5v1.5h-1.5zM779.2 394.2h1.5v1.5h-1.5zM780.8 398.3h1.5v1.5h-1.5zM770.4 403.4h1.5v1.5h-1.5zM788.5 396.5h1.5v1.5h-1.5zM793.1 411.8h1.5v1.5h-1.5zM796.5 397.8h1.5v1.5h-1.5zM793.0 401.0h1.5v1.5h-1.5zM801.6 404.2h1.5v1.5h-1.5zM784.7 401.2h1.5v1.5h-1.5zM817.3 396.7h1.5v1.5h-1.5zM784.4 402.7h1.5v1.5h-1.5zM790.2 397.8h1.5v1.5h-1.5zM778.8 406.7h1.5v1.5h-1.5zM776.5 403.3h1.5v1.5h-1.5zM777.2 409.1h1.5v1.5h-1.5zM783.6 409.3h1.5v1.5h-1.5zM795.3 397.3h1.5v1.5h-1.5zM776.2 403.8h1.5v1.5h-1.5zM781.7 409.5h1.5v1.5h-1.5zM797.7 392.2h1.5v1.5h-1.5zM806.4 401.2h1.5v1.5h-1.5zM797.2 394.8h1.5v1.5h-1.5zM790.6 394.4h1.5v1.5h-1.5zM785.7 407.4h1.5v1.5h-1.5zM783.4 410.8h1.5v1.5h-1.5zM782.1 399.0h1.5v1.5h-1.5zM768.1 401.9h1.5v1.5h-1.5zM769.1 399.1h1.5v1.5h-1.5zM771.4 395.5h1.5v1.5h-1.5zM779.5 391.7h1.5v1.5h-1.5zM774.8 394.1h1.5v1.5h-1.5zM778.9 409.3h1.5v1.5h-1.5zM777.4 394.1h1.5v1.5h-1.5zM775.9 392.1h1.5v1.5h-1.5zM783.0 401.8h1.5v1.5h-1.5zM777.8 408.8h1.5v1.5h-1.5zM784.5 404.4h1.5v1.5h-1.5zM767.0 400.0h1.5v1.5h-1.5zM791.5 400.7h1.5v1.5h-1.5zM774.0 393.3h1.5v1.5h-1.5zM775.5 409.1h1.5v1.5h-1.5zM796.3 399.0h1.5v1.5h-1.5zM775.3 397.8h1.5v1.5h-1.5zM821.3 399.2h1.5v1.5h-1.5zM786.4 397.0h1.5v1.5h-1.5zM782.9 400.5h1.5v1.5h-1.5zM782.0 388.2h1.5v1.5h-1.5zM785.5 402.2h1.5v1.5h-1.5zM768.9 394.5h1.5v1.5h-1.5zM789.6 406.3h1.5v1.5h-1.5zM785.5 409.3h1.5v1.5h-1.5zM766.4 398.3h1.5v1.5h-1.5zM793.0 400.0h1.5v1.5h-1.5zM800.0 387.9h1.5v1.5h-1.5zM773.6 410.4h1.5v1.5h-1.5zM777.9 400.3h1.5v1.5h-1.5zM783.6 403.6h1.5v1.5h-1.5zM791.3 405.8h1.5v1.5h-1.5zM785.9 397.0h1.5v1.5h-1.5zM783.2 405.8h1.5v1.5h-1.5zM792.4 401.7h1.5v1.5h-1.5zM773.6 396.2h1.5v1.5h-1.5zM779.9 394.9h1.5v1.5h-1.5zM783.6 412.8h1.5v1.5h-1.5zM791.8 403.9h1.5v1.5h-1.5zM777.4 386.8h1.5v1.5h-1.5zM776.3 396.5h1.5v1.5h-1.5zM778.0 403.1h1.5v1.5h-1.5zM781.2 400.7h1.5v1.5h-1.5zM769.6 404.0h1.5v1.5h-1.5zM818.5 395.9h1.5v1.5h-1.5zM893.1 402.2h1.5v1.5h-1.5zM820.4 405.9h1.5v1.5h-1.5zM784.8 385.6h1.5v1.5h-1.5zM778.2 400.0h1.5v1.5h-1.5zM803.0 399.8h1.5v1.5h-1.5zM775.4 398.0h1.5v1.5h-1.5zM773.0 393.1h1.5v1.5h-1.5zM777.1 411.8h1.5v1.5h-1.5zM760.8 401.9h1.5v1.5h-1.5zM779.3 386.6h1.5v1.5h-1.5zM774.8 388.7h1.5v1.5h-1.5zM798.7 410.1h1.5v1.5h-1.5zM779.9 392.4h1.5v1.5h-1.5zM771.4 393.9h1.5v1.5h-1.5zM776.9 397.8h1.5v1.5h-1.5zM773.1 402.9h1.5v1.5h-1.5zM769.8 397.7h1.5v1.5h-1.5zM771.9 407.8h1.5v1.5h-1.5zM790.6 391.9h1.5v1.5h-1.5zM780.6 394.5h1.5v1.5h-1.5zM782.6 399.0h1.5v1.5h-1.5zM775.8 396.7h1.5v1.5h-1.5zM771.9 407.1h1.5v1.5h-1.5zM796.8 409.6h1.5v1.5h-1.5zM787.2 410.2h1.5v1.5h-1.5zM776.6 400.2h1.5v1.5h-1.5zM773.7 405.3h1.5v1.5h-1.5zM788.2 399.9h1.5v1.5h-1.5zM784.4 403.1h1.5v1.5h-1.5zM796.2 402.1h1.5v1.5h-1.5zM786.4 407.1h1.5v1.5h-1.5zM805.4 399.8h1.5v1.5h-1.5zM790.2 392.8h1.5v1.5h-1.5zM781.3 394.7h1.5v1.5h-1.5zM766.9 391.3h1.5v1.5h-1.5zM775.8 395.0h1.5v1.5h-1.5zM828.9 393.7h1.5v1.5h-1.5zM787.1 411.9h1.5v1.5h-1.5zM792.5 402.9h1.5v1.5h-1.5zM781.1 409.6h1.5v1.5h-1.5zM804.6 396.1h1.5v1.5h-1.5zM883.2 393.1h1.5v1.5h-1.5zM796.7 396.5h1.5v1.5h-1.5zM770.6 404.7h1.5v1.5h-1.5zM802.2 392.4h1.5v1.5h-1.5zM782.9 400.5h1.5v1.5h-1.5zM795.7 406.0h1.5v1.5h-1.5zM781.4 402.3h1.5v1.5h-1.5zM787.9 391.3h1.5v1.5h-1.5zM843.9 394.4h1.5v1.5h-1.5zM787.7 396.6h1.5v1.5h-1.5zM782.3 410.7h1.5v1.5h-1.5zM790.3 395.3h1.5v1.5h-1.5zM765.9 403.7h1.5v1.5h-1.5zM793.2 401.9h1.5v1.5h-1.5zM782.3 402.9h1.5v1.5h-1.5zM773.4 403.6h1.5v1.5h-1.5zM780.2 408.9h1.5v1.5h-1.5zM787.0 395.0h1.5v1.5h-1.5zM785.1 391.0h1.5v1.5h-1.5zM773.3 393.3h1.5v1.5h-1.5zM781.2 393.6h1.5v1.5h-1.5zM776.6 397.3h1.5v1.5h-1.5zM790.4 407.0h1.5v1.5h-1.5zM786.4 400.8h1.5v1.5h-1.5zM784.8 390.7h1.5v1.5h-1.5zM769.0 398.7h1.5v1.5h-1.5zM775.9 414.6h1.5v1.5h-1.5zM808.9 412.6h1.5v1.5h-1.5zM788.8 389.9h1.5v1.5h-1.5zM778.1 403.9h1.5v1.5h-1.5zM897.8 387.4h1.5v1.5h-1.5zM807.8 403.1h1.5v1.5h-1.5zM788.4 408.9h1.5v1.5h-1.5zM782.8 407.3h1.5v1.5h-1.5zM773.4 409.6h1.5v1.5h-1.5zM778.9 401.2h1.5v1.5h-1.5zM785.9 405.1h1.5v1.5h-1.5zM769.9 395.9h1.5v1.5h-1.5zM793.2 401.0h1.5v1.5h-1.5zM790.0 406.1h1.5v1.5h-1.5zM784.8 398.4h1.5v1.5h-1.5zM795.1 401.9h1.5v1.5h-1.5zM787.5 412.0h1.5v1.5h-1.5zM767.6 404.6h1.5v1.5h-1.5zM767.2 408.5h1.5v1.5h-1.5zM774.6 398.0h1.5v1.5h-1.5zM795.3 397.3h1.5v1.5h-1.5zM788.3 385.8h1.5v1.5h-1.5zM770.2 401.2h1.5v1.5h-1.5zM782.7 399.5h1.5v1.5h-1.5zM788.7 394.2h1.5v1.5h-1.5zM780.2 404.3h1.5v1.5h-1.5zM779.5 409.2h1.5v1.5h-1.5zM770.4 409.1h1.5v1.5h-1.5zM793.4 409.5h1.5v1.5h-1.5zM796.7 400.7h1.5v1.5h-1.5zM772.6 399.2h1.5v1.5h-1.5zM793.1 392.7h1.5v1.5h-1.5zM770.9 385.2h1.5v1.5h-1.5zM796.9 393.8h1.5v1.5h-1.5zM769.7 406.6h1.5v1.5h-1.5zM773.6 386.1h1.5v1.5h-1.5zM778.4 412.2h1.5v1.5h-1.5zM794.5 393.6h1.5v1.5h-1.5zM791.7 393.0h1.5v1.5h-1.5zM781.3 390.8h1.5v1.5h-1.5zM792.5 407.8h1.5v1.5h-1.5zM786.2 406.2h1.5v1.5h-1.5zM767.3 405.9h1.5v1.5h-1.5zM772.2 404.6h1.5v1.5h-1.5zM776.2 408.1h1.5v1.5h-1.5zM796.9 397.9h1.5v1.5h-1.5zM792.6 408.6h1.5v1.5h-1.5zM800.3 397.0h1.5v1.5h-1.5zM781.3 397.6h1.5v1.5h-1.5zM767.0 408.5h1.5v1.5h-1.5zM791.6 396.2h1.5v1.5h-1.5zM786.3 400.9h1.5v1.5h-1.5zM784.2 414.9h1.5v1.5h-1.5zM777.2 393.0h1.5v1.5h-1.5zM775.9 415.6h1.5v1.5h-1.5zM793.2 391.7h1.5v1.5h-1.5zM791.0 397.1h1.5v1.5h-1.5zM771.3 399.8h1.5v1.5h-1.5zM786.1 405.0h1.5v1.5h-1.5zM774.1 384.2h1.5v1.5h-1.5zM776.3 394.6h1.5v1.5h-1.5zM773.2 400.1h1.5v1.5h-1.5zM784.7 397.4h1.5v1.5h-1.5zM777.8 392.3h1.5v1.5h-1.5zM802.2 404.9h1.5v1.5h-1.5zM775.9 403.4h1.5v1.5h-1.5zM772.6 389.8h1.5v1.5h-1.5zM777.0 395.6h1.5v1.5h-1.5zM795.3 400.4h1.5v1.5h-1.5zM782.4 407.1h1.5v1.5h-1.5zM781.9 397.8h1.5v1.5h-1.5zM814.4 398.7h1.5v1.5h-1.5zM794.6 403.3h1.5v1.5h-1.5zM780.4 394.7h1.5v1.5h-1.5zM772.9 395.5h1.5v1.5h-1.5zM771.8 407.3h1.5v1.5h-1.5zM780.4 410.4h1.5v1.5h-1.5zM780.5 387.6h1.5v1.5h-1.5zM794.7 413.5h1.5v1.5h-1.5zM798.8 399.7h1.5v1.5h-1.5zM785.7 404.3h1.5v1.5h-1.5zM770.1 385.2h1.5v1.5h-1.5zM798.1 394.8h1.5v1.5h-1.5zM784.0 410.7h1.5v1.5h-1.5zM832.0 394.7h1.5v1.5h-1.5zM786.0 406.4h1.5v1.5h-1.5zM804.2 401.4h1.5v1.5h-1.5zM772.5 391.5h1.5v1.5h-1.5zM773.0 399.3h1.5v1.5h-1.5zM792.9 401.6h1.5v1.5h-1.5zM815.8 395.5h1.5v1.5h-1.5zM780.4 400.5h1.5v1.5h-1.5zM772.9 406.1h1.5v1.5h-1.5zM796.3 390.2h1.5v1.5h-1.5zM777.3 407.3h1.5v1.5h-1.5zM769.3 403.3h1.5v1.5h-1.5zM801.1 399.3h1.5v1.5h-1.5zM796.2 394.6h1.5v1.5h-1.5zM806.5 408.8h1.5v1.5h-1.5zM793.7 393.2h1.5v1.5h-1.5zM771.1 395.6h1.5v1.5h-1.5zM774.6 411.7h1.5v1.5h-1.5zM793.0 404.4h1.5v1.5h-1.5zM833.7 399.7h1.5v1.5h-1.5zM884.2 393.1h1.5v1.5h-1.5zM800.7 405.4h1.5v1.5h-1.5zM802.7 409.3h1.5v1.5h-1.5zM778.4 408.6h1.5v1.5h-1.5zM786.9 399.0h1.5v1.5h-1.5zM792.9 396.8h1.5v1.5h-1.5zM797.2 403.3h1.5v1.5h-1.5zM792.3 407.7h1.5v1.5h-1.5zM779.8 404.1h1.5v1.5h-1.5zM777.5 411.3h1.5v1.5h-1.5zM771.4 389.9h1.5v1.5h-1.5zM783.9 399.6h1.5v1.5h-1.5zM783.9 406.7h1.5v1.5h-1.5zM769.8 393.9h1.5v1.5h-1.5zM784.6 408.5h1.5v1.5h-1.5zM773.4 397.8h1.5v1.5h-1.5zM778.5 411.9h1.5v1.5h-1.5zM791.6 403.7h1.5v1.5h-1.5zM812.0 403.9h1.5v1.5h-1.5zM775.8 396.3h1.5v1.5h-1.5zM777.4 396.9h1.5v1.5h-1.5zM783.2 393.8h1.5v1.5h-1.5zM781.2 390.3h1.5v1.5h-1.5zM788.7 407.6h1.5v1.5h-1.5zM795.6 391.8h1.5v1.5h-1.5zM775.4 405.3h1.5v1.5h-1.5zM789.6 391.4h1.5v1.5h-1.5zM785.9 388.5h1.5v1.5h-1.5zM791.2 397.0h1.5v1.5h-1.5zM786.5 401.3h1.5v1.5h-1.5zM783.4 405.7h1.5v1.5h-1.5zM770.2 405.1h1.5v1.5h-1.5zM776.2 407.1h1.5v1.5h-1.5zM794.6 401.7h1.5v1.5h-1.5zM790.7 408.7h1.5v1.5h-1.5zM782.6 387.5h1.5v1.5h-1.5zM767.2 404.0h1.5v1.5h-1.5zM781.1 396.4h1.5v1.5h-1.5zM778.2 394.3h1.5v1.5h-1.5zM772.9 409.0h1.5v1.5h-1.5zM794.8 389.6h1.5v1.5h-1.5zM783.7 414.6h1.5v1.5h-1.5zM768.7 402.3h1.5v1.5h-1.5zM793.6 406.9h1.5v1.5h-1.5zM766.4 406.1h1.5v1.5h-1.5zM798.7 393.1h1.5v1.5h-1.5zM789.1 403.7h1.5v1.5h-1.5zM789.3 403.8h1.5v1.5h-1.5zM771.4 409.5h1.5v1.5h-1.5zM793.7 388.2h1.5v1.5h-1.5zM780.1 409.4h1.5v1.5h-1.5zM787.2 392.0h1.5v1.5h-1.5zM793.0 405.7h1.5v1.5h-1.5zM807.3 391.3h1.5v1.5h-1.5zM794.0 395.5h1.5v1.5h-1.5zM775.9 391.0h1.5v1.5h-1.5zM801.0 394.0h1.5v1.5h-1.5zM795.3 387.7h1.5v1.5h-1.5zM787.2 405.6h1.5v1.5h-1.5zM765.9 393.2h1.5v1.5h-1.5zM776.3 409.9h1.5v1.5h-1.5zM796.1 401.4h1.5v1.5h-1.5zM794.1 401.2h1.5v1.5h-1.5zM784.8 400.2h1.5v1.5h-1.5zM797.7 400.2h1.5v1.5h-1.5zM801.8 397.0h1.5v1.5h-1.5zM788.0 392.7h1.5v1.5h-1.5zM766.6 402.2h1.5v1.5h-1.5zM780.1 386.6h1.5v1.5h-1.5zM802.4 405.4h1.5v1.5h-1.5zM791.7 403.4h1.5v1.5h-1.5zM788.7 395.9h1.5v1.5h-1.5zM782.2 392.3h1.5v1.5h-1.5zM777.8 394.9h1.5v1.5h-1.5zM790.8 405.5h1.5v1.5h-1.5zM788.1 391.6h1.5v1.5h-1.5zM797.1 410.9h1.5v1.5h-1.5zM767.6 387.4h1.5v1.5h-1.5zM784.8 387.5h1.5v1.5h-1.5zM782.4 411.0h1.5v1.5h-1.5zM800.3 394.2h1.5v1.5h-1.5zM767.0 404.4h1.5v1.5h-1.5zM770.6 410.4h1.5v1.5h-1.5zM767.5 394.7h1.5v1.5h-1.5zM774.0 382.8h1.5v1.5h-1.5zM784.2 392.3h1.5v1.5h-1.5zM783.9 405.6h1.5v1.5h-1.5zM794.3 392.6h1.5v1.5h-1.5zM766.6 403.1h1.5v1.5h-1.5zM799.9 405.1h1.5v1.5h-1.5zM776.3 384.9h1.5v1.5h-1.5zM778.5 399.4h1.5v1.5h-1.5zM763.3 389.4h1.5v1.5h-1.5zM789.8 402.3h1.5v1.5h-1.5zM774.0 404.3h1.5v1.5h-1.5zM789.2 388.8h1.5v1.5h-1.5zM781.0 394.0h1.5v1.5h-1.5zM784.2 396.0h1.5v1.5h-1.5zM774.8 394.5h1.5v1.5h-1.5zM786.1 399.9h1.5v1.5h-1.5zM786.8 397.1h1.5v1.5h-1.5zM782.3 392.6h1.5v1.5h-1.5zM772.4 406.6h1.5v1.5h-1.5zM786.6 387.4h1.5v1.5h-1.5zM766.8 395.3h1.5v1.5h-1.5zM782.2 398.6h1.5v1.5h-1.5zM781.7 403.8h1.5v1.5h-1.5zM764.7 403.6h1.5v1.5h-1.5zM788.8 400.7h1.5v1.5h-1.5zM797.8 391.9h1.5v1.5h-1.5zM793.9 398.2h1.5v1.5h-1.5zM791.3 405.6h1.5v1.5h-1.5zM796.4 398.2h1.5v1.5h-1.5zM816.1 398.0h1.5v1.5h-1.5zM780.4 394.8h1.5v1.5h-1.5zM781.6 390.7h1.5v1.5h-1.5zM784.2 388.8h1.5v1.5h-1.5zM783.0 389.4h1.5v1.5h-1.5zM768.5 394.7h1.5v1.5h-1.5zM774.5 401.8h1.5v1.5h-1.5zM763.3 396.6h1.5v1.5h-1.5zM790.0 398.1h1.5v1.5h-1.5zM777.8 389.0h1.5v1.5h-1.5zM787.2 401.9h1.5v1.5h-1.5zM773.9 407.1h1.5v1.5h-1.5zM779.7 408.0h1.5v1.5h-1.5zM782.1 402.0h1.5v1.5h-1.5zM785.8 394.3h1.5v1.5h-1.5zM778.3 388.9h1.5v1.5h-1.5zM800.2 403.1h1.5v1.5h-1.5zM779.8 393.4h1.5v1.5h-1.5zM773.7 389.4h1.5v1.5h-1.5zM777.9 383.6h1.5v1.5h-1.5zM763.8 409.6h1.5v1.5h-1.5zM783.6 384.4h1.5v1.5h-1.5zM798.7 397.0h1.5v1.5h-1.5zM784.7 392.5h1.5v1.5h-1.5zM785.8 388.2h1.5v1.5h-1.5zM775.0 388.3h1.5v1.5h-1.5zM778.1 412.9h1.5v1.5h-1.5zM789.4 396.2h1.5v1.5h-1.5zM766.2 409.9h1.5v1.5h-1.5zM796.1 393.1h1.5v1.5h-1.5zM786.2 408.5h1.5v1.5h-1.5zM781.6 408.2h1.5v1.5h-1.5z" fill="#a8d41e"/>
<path d="M772.6 402.7h1.5v1.5h-1.5zM777.5 406.8h1.5v1.5h-1.5zM782.4 404.3h1.5v1.5h-1.5zM777.8 387.5h1.5v1.5h-1.5zM788.8 396.0h1.5v1.5h-1.5zM774.6 393.9h1.5v1.5h-1.5zM778.8 395.7h1.5v1.5h-1.5zM776.6 400.2h1.5v1.5h-1.5zM781.2 399.5h1.5v1.5h-1.5zM777.1 400.6h1.5v1.5h-1.5zM776.3 395.7h1.5v1.5h-1.5zM779.4 389.9h1.5v1.5h-1.5zM784.4 402.4h1.5v1.5h-1.5zM779.7 397.5h1.5v1.5h-1.5zM778.2 400.1h1.5v1.5h-1.5zM782.0 402.6h1.5v1.5h-1.5zM781.8 403.7h1.5v1.5h-1.5zM773.9 400.0h1.5v1.5h-1.5zM784.9 402.7h1.5v1.5h-1.5zM776.2 404.7h1.5v1.5h-1.5zM773.3 407.1h1.5v1.5h-1.5zM774.8 400.8h1.5v1.5h-1.5zM790.8 400.7h1.5v1.5h-1.5zM783.0 402.8h1.5v1.5h-1.5zM785.6 410.0h1.5v1.5h-1.5zM782.0 405.9h1.5v1.5h-1.5zM770.4 409.5h1.5v1.5h-1.5zM793.0 393.7h1.5v1.5h-1.5zM785.5 402.1h1.5v1.5h-1.5zM796.5 391.3h1.5v1.5h-1.5zM786.8 403.9h1.5v1.5h-1.5zM780.0 395.3h1.5v1.5h-1.5zM773.6 401.2h1.5v1.5h-1.5zM767.5 392.3h1.5v1.5h-1.5zM788.1 405.6h1.5v1.5h-1.5zM778.2 399.5h1.5v1.5h-1.5zM795.1 406.8h1.5v1.5h-1.5zM779.8 401.5h1.5v1.5h-1.5zM767.3 406.6h1.5v1.5h-1.5zM788.6 391.2h1.5v1.5h-1.5zM794.2 394.3h1.5v1.5h-1.5zM782.8 402.8h1.5v1.5h-1.5zM792.1 405.1h1.5v1.5h-1.5zM777.7 395.7h1.5v1.5h-1.5zM786.5 407.1h1.5v1.5h-1.5zM782.5 409.3h1.5v1.5h-1.5zM792.8 406.4h1.5v1.5h-1.5zM779.9 400.3h1.5v1.5h-1.5zM767.2 392.8h1.5v1.5h-1.5zM780.3 405.0h1.5v1.5h-1.5zM770.8 401.9h1.5v1.5h-1.5zM781.5 399.6h1.5v1.5h-1.5zM771.1 395.2h1.5v1.5h-1.5zM785.8 400.0h1.5v1.5h-1.5zM798.2 397.4h1.5v1.5h-1.5zM781.5 391.2h1.5v1.5h-1.5zM772.7 399.1h1.5v1.5h-1.5zM782.1 402.3h1.5v1.5h-1.5zM782.4 404.1h1.5v1.5h-1.5zM791.5 398.5h1.5v1.5h-1.5zM778.2 404.7h1.5v1.5h-1.5zM788.3 399.9h1.5v1.5h-1.5zM780.7 403.2h1.5v1.5h-1.5zM789.8 405.8h1.5v1.5h-1.5zM781.4 405.9h1.5v1.5h-1.5zM776.3 397.6h1.5v1.5h-1.5zM794.4 399.6h1.5v1.5h-1.5zM779.9 396.7h1.5v1.5h-1.5zM778.9 393.8h1.5v1.5h-1.5zM779.6 400.5h1.5v1.5h-1.5zM786.2 409.3h1.5v1.5h-1.5zM780.2 403.8h1.5v1.5h-1.5zM780.4 393.3h1.5v1.5h-1.5zM776.3 391.9h1.5v1.5h-1.5zM771.6 401.2h1.5v1.5h-1.5zM771.7 398.7h1.5v1.5h-1.5zM778.7 404.4h1.5v1.5h-1.5zM787.1 398.9h1.5v1.5h-1.5zM783.3 412.7h1.5v1.5h-1.5zM786.9 404.8h1.5v1.5h-1.5zM776.5 400.2h1.5v1.5h-1.5zM779.6 412.8h1.5v1.5h-1.5zM784.2 400.1h1.5v1.5h-1.5zM785.7 406.8h1.5v1.5h-1.5zM796.9 399.5h1.5v1.5h-1.5zM784.2 398.2h1.5v1.5h-1.5zM776.4 401.7h1.5v1.5h-1.5zM776.7 403.9h1.5v1.5h-1.5zM784.1 406.0h1.5v1.5h-1.5zM779.1 404.3h1.5v1.5h-1.5zM775.4 395.8h1.5v1.5h-1.5zM770.2 406.1h1.5v1.5h-1.5zM769.1 397.7h1.5v1.5h-1.5zM790.1 396.7h1.5v1.5h-1.5zM772.9 393.8h1.5v1.5h-1.5zM781.7 392.9h1.5v1.5h-1.5zM781.3 398.3h1.5v1.5h-1.5zM794.4 402.7h1.5v1.5h-1.5zM781.2 405.4h1.5v1.5h-1.5zM783.5 406.7h1.5v1.5h-1.5zM774.1 405.1h1.5v1.5h-1.5zM796.7 399.6h1.5v1.5h-1.5zM780.0 409.4h1.5v1.5h-1.5zM794.0 396.6h1.5v1.5h-1.5zM772.6 400.0h1.5v1.5h-1.5zM786.6 394.6h1.5v1.5h-1.5zM791.3 391.7h1.5v1.5h-1.5zM785.1 405.3h1.5v1.5h-1.5zM779.0 397.6h1.5v1.5h-1.5zM785.9 390.7h1.5v1.5h-1.5zM777.9 389.2h1.5v1.5h-1.5zM772.5 410.1h1.5v1.5h-1.5zM776.5 399.7h1.5v1.5h-1.5zM783.5 401.6h1.5v1.5h-1.5zM778.5 396.6h1.5v1.5h-1.5zM792.0 398.5h1.5v1.5h-1.5zM773.0 402.4h1.5v1.5h-1.5zM785.7 408.6h1.5v1.5h-1.5zM772.5 400.1h1.5v1.5h-1.5zM780.9 411.5h1.5v1.5h-1.5zM775.1 404.0h1.5v1.5h-1.5zM796.9 395.8h1.5v1.5h-1.5zM787.8 393.9h1.5v1.5h-1.5zM778.7 403.2h1.5v1.5h-1.5zM778.9 404.1h1.5v1.5h-1.5zM781.8 387.9h1.5v1.5h-1.5zM784.8 392.1h1.5v1.5h-1.5zM778.5 392.8h1.5v1.5h-1.5zM784.1 391.7h1.5v1.5h-1.5zM787.3 409.2h1.5v1.5h-1.5zM794.7 400.6h1.5v1.5h-1.5zM782.9 405.8h1.5v1.5h-1.5zM769.2 399.5h1.5v1.5h-1.5zM786.5 404.6h1.5v1.5h-1.5zM791.0 392.9h1.5v1.5h-1.5zM766.6 400.5h1.5v1.5h-1.5zM770.5 397.2h1.5v1.5h-1.5zM780.8 409.3h1.5v1.5h-1.5zM780.7 401.0h1.5v1.5h-1.5zM784.3 406.9h1.5v1.5h-1.5zM785.2 408.8h1.5v1.5h-1.5zM783.1 391.7h1.5v1.5h-1.5zM775.3 399.7h1.5v1.5h-1.5zM781.8 393.8h1.5v1.5h-1.5zM798.8 400.0h1.5v1.5h-1.5zM800.2 395.7h1.5v1.5h-1.5zM770.2 391.5h1.5v1.5h-1.5zM785.6 389.5h1.5v1.5h-1.5zM784.2 407.5h1.5v1.5h-1.5zM794.1 401.2h1.5v1.5h-1.5zM785.4 409.3h1.5v1.5h-1.5zM787.1 398.4h1.5v1.5h-1.5zM774.6 397.1h1.5v1.5h-1.5zM790.3 399.7h1.5v1.5h-1.5zM796.8 397.9h1.5v1.5h-1.5zM785.5 388.9h1.5v1.5h-1.5zM779.4 404.3h1.5v1.5h-1.5zM779.1 396.6h1.5v1.5h-1.5zM783.8 392.6h1.5v1.5h-1.5zM781.3 394.5h1.5v1.5h-1.5zM796.6 400.9h1.5v1.5h-1.5zM803.9 399.8h1.5v1.5h-1.5zM783.3 401.7h1.5v1.5h-1.5zM783.2 392.7h1.5v1.5h-1.5zM790.2 400.1h1.5v1.5h-1.5zM781.6 397.4h1.5v1.5h-1.5zM778.6 397.6h1.5v1.5h-1.5zM770.6 393.4h1.5v1.5h-1.5zM788.1 395.4h1.5v1.5h-1.5zM780.6 407.2h1.5v1.5h-1.5zM781.6 400.9h1.5v1.5h-1.5zM776.8 395.8h1.5v1.5h-1.5zM798.8 399.7h1.5v1.5h-1.5zM781.7 410.0h1.5v1.5h-1.5zM780.2 396.2h1.5v1.5h-1.5zM775.5 404.9h1.5v1.5h-1.5zM777.1 396.9h1.5v1.5h-1.5zM780.4 404.4h1.5v1.5h-1.5zM780.6 397.5h1.5v1.5h-1.5zM767.4 395.3h1.5v1.5h-1.5zM791.0 403.5h1.5v1.5h-1.5zM769.2 393.8h1.5v1.5h-1.5zM794.5 404.6h1.5v1.5h-1.5zM778.3 399.1h1.5v1.5h-1.5zM781.3 409.8h1.5v1.5h-1.5zM769.6 403.1h1.5v1.5h-1.5zM781.4 395.7h1.5v1.5h-1.5zM784.0 393.6h1.5v1.5h-1.5zM785.1 398.5h1.5v1.5h-1.5zM781.9 412.5h1.5v1.5h-1.5zM799.9 398.3h1.5v1.5h-1.5zM775.1 399.3h1.5v1.5h-1.5zM783.7 405.0h1.5v1.5h-1.5zM795.3 400.5h1.5v1.5h-1.5zM792.1 407.7h1.5v1.5h-1.5zM799.2 399.3h1.5v1.5h-1.5zM773.8 390.5h1.5v1.5h-1.5zM780.4 401.1h1.5v1.5h-1.5zM772.7 393.0h1.5v1.5h-1.5zM776.5 400.4h1.5v1.5h-1.5zM781.2 403.4h1.5v1.5h-1.5zM771.5 398.5h1.5v1.5h-1.5zM780.9 401.6h1.5v1.5h-1.5zM771.5 389.7h1.5v1.5h-1.5zM785.1 394.9h1.5v1.5h-1.5zM785.5 403.1h1.5v1.5h-1.5zM777.6 393.1h1.5v1.5h-1.5zM778.6 395.4h1.5v1.5h-1.5zM793.8 403.6h1.5v1.5h-1.5zM797.1 403.1h1.5v1.5h-1.5zM785.5 399.8h1.5v1.5h-1.5zM776.2 398.5h1.5v1.5h-1.5zM776.8 398.2h1.5v1.5h-1.5zM779.3 406.3h1.5v1.5h-1.5zM780.6 393.5h1.5v1.5h-1.5zM783.2 389.5h1.5v1.5h-1.5zM773.0 396.6h1.5v1.5h-1.5zM773.6 404.2h1.5v1.5h-1.5zM778.5 399.1h1.5v1.5h-1.5zM790.7 400.6h1.5v1.5h-1.5zM780.9 399.2h1.5v1.5h-1.5zM775.7 399.5h1.5v1.5h-1.5zM780.0 390.6h1.5v1.5h-1.5zM795.5 400.4h1.5v1.5h-1.5zM777.9 393.0h1.5v1.5h-1.5zM767.4 395.4h1.5v1.5h-1.5zM790.3 404.9h1.5v1.5h-1.5zM771.7 404.1h1.5v1.5h-1.5zM781.7 398.8h1.5v1.5h-1.5zM768.2 400.2h1.5v1.5h-1.5zM781.5 390.1h1.5v1.5h-1.5zM788.6 403.5h1.5v1.5h-1.5zM783.7 403.1h1.5v1.5h-1.5zM777.7 402.7h1.5v1.5h-1.5zM778.5 407.2h1.5v1.5h-1.5zM783.5 401.5h1.5v1.5h-1.5zM794.2 388.6h1.5v1.5h-1.5zM779.5 392.9h1.5v1.5h-1.5zM781.5 400.2h1.5v1.5h-1.5zM776.3 393.0h1.5v1.5h-1.5zM786.6 400.2h1.5v1.5h-1.5zM783.2 406.0h1.5v1.5h-1.5zM779.0 413.2h1.5v1.5h-1.5zM781.0 407.7h1.5v1.5h-1.5zM785.7 408.8h1.5v1.5h-1.5zM781.1 404.5h1.5v1.5h-1.5zM767.5 407.3h1.5v1.5h-1.5zM790.8 397.5h1.5v1.5h-1.5zM773.5 405.5h1.5v1.5h-1.5zM772.2 398.9h1.5v1.5h-1.5zM781.3 400.6h1.5v1.5h-1.5zM777.9 400.1h1.5v1.5h-1.5zM770.3 402.7h1.5v1.5h-1.5zM768.3 402.8h1.5v1.5h-1.5zM789.4 406.1h1.5v1.5h-1.5zM782.4 390.8h1.5v1.5h-1.5zM790.7 402.2h1.5v1.5h-1.5z" fill="#f0e010"/>
<path d="M784.6 396.0h1.5v1.5h-1.5zM783.9 393.2h1.5v1.5h-1.5zM774.7 410.2h1.5v1.5h-1.5zM782.8 398.8h1.5v1.5h-1.5zM781.9 401.5h1.5v1.5h-1.5zM775.2 389.2h1.5v1.5h-1.5zM776.2 404.2h1.5v1.5h-1.5zM791.3 392.1h1.5v1.5h-1.5zM779.8 401.7h1.5v1.5h-1.5zM779.0 398.4h1.5v1.5h-1.5zM774.6 398.1h1.5v1.5h-1.5zM792.5 398.6h1.5v1.5h-1.5zM791.5 396.5h1.5v1.5h-1.5zM780.5 395.3h1.5v1.5h-1.5zM783.1 401.2h1.5v1.5h-1.5zM774.9 403.1h1.5v1.5h-1.5zM799.5 396.1h1.5v1.5h-1.5zM785.8 389.8h1.5v1.5h-1.5zM779.7 401.1h1.5v1.5h-1.5zM779.0 403.2h1.5v1.5h-1.5zM783.3 403.3h1.5v1.5h-1.5zM784.4 403.8h1.5v1.5h-1.5zM782.1 394.6h1.5v1.5h-1.5zM779.4 401.3h1.5v1.5h-1.5zM772.7 396.6h1.5v1.5h-1.5zM774.2 396.3h1.5v1.5h-1.5zM789.0 406.9h1.5v1.5h-1.5zM782.9 404.3h1.5v1.5h-1.5zM777.3 391.7h1.5v1.5h-1.5zM777.7 402.3h1.5v1.5h-1.5zM771.3 401.7h1.5v1.5h-1.5zM779.0 405.1h1.5v1.5h-1.5zM778.9 393.4h1.5v1.5h-1.5zM784.7 406.4h1.5v1.5h-1.5zM780.3 393.4h1.5v1.5h-1.5zM781.4 397.7h1.5v1.5h-1.5zM783.9 403.1h1.5v1.5h-1.5zM780.9 408.2h1.5v1.5h-1.5zM769.4 398.5h1.5v1.5h-1.5zM778.0 407.1h1.5v1.5h-1.5zM775.5 396.6h1.5v1.5h-1.5zM784.9 400.3h1.5v1.5h-1.5zM778.9 391.4h1.5v1.5h-1.5zM790.3 406.3h1.5v1.5h-1.5zM775.2 412.9h1.5v1.5h-1.5zM791.4 404.9h1.5v1.5h-1.5zM780.0 395.9h1.5v1.5h-1.5zM781.3 395.4h1.5v1.5h-1.5zM778.9 398.0h1.5v1.5h-1.5zM787.7 401.0h1.5v1.5h-1.5zM786.4 394.0h1.5v1.5h-1.5zM784.5 396.5h1.5v1.5h-1.5zM774.9 399.0h1.5v1.5h-1.5zM794.8 401.3h1.5v1.5h-1.5zM785.5 398.5h1.5v1.5h-1.5zM807.7 400.8h1.5v1.5h-1.5zM795.1 399.8h1.5v1.5h-1.5z" fill="#f09018"/>
<path d="M784.3 403.8h1.5v1.5h-1.5zM792.4 403.8h1.5v1.5h-1.5zM782.4 397.2h1.5v1.5h-1.5zM782.8 399.7h1.5v1.5h-1.5zM783.3 400.4h1.5v1.5h-1.5zM795.2 401.2h1.5v1.5h-1.5zM785.1 403.4h1.5v1.5h-1.5zM781.5 402.6h1.5v1.5h-1.5zM784.7 397.5h1.5v1.5h-1.5zM779.5 406.6h1.5v1.5h-1.5zM783.4 391.3h1.5v1.5h-1.5zM779.1 397.6h1.5v1.5h-1.5zM781.6 402.7h1.5v1.5h-1.5zM795.4 399.6h1.5v1.5h-1.5zM782.6 400.1h1.5v1.5h-1.5zM788.7 409.9h1.5v1.5h-1.5zM781.9 404.3h1.5v1.5h-1.5zM786.2 408.0h1.5v1.5h-1.5zM784.1 400.3h1.5v1.5h-1.5zM779.5 396.2h1.5v1.5h-1.5zM778.4 393.2h1.5v1.5h-1.5z" fill="#e82a18"/>
<rect x="711.8" y="176.5" width="276.7" height="276.6" fill="none" stroke="#000" stroke-width="1.3"/>
<path d="M707.3,312.41h4.5M707.3,246.15h4.5M707.3,376.04h4.5M707.3,300.54h4.5M707.3,234.96h4.5M707.3,365.12h4.5M707.3,292.12h4.5M707.3,227.01h4.5M707.3,357.37h4.5M707.3,285.59h4.5M707.3,220.85h4.5M707.3,351.36h4.5M707.3,280.25h4.5M707.3,215.81h4.5M707.3,346.45h4.5M707.3,275.74h4.5M707.3,211.55h4.5M707.3,342.3h4.5M707.3,271.83h4.5M707.3,207.86h4.5M707.3,338.71h4.5M707.3,268.38h4.5M707.3,204.61h4.5M707.3,335.54h4.5M707.3,182.55h4.5M703.8,332.7h8M703.8,265.3h8M703.8,201.7h8M703.8,423.7h8M703.8,394.7h8M707.3,394.7h4.5M707.3,397.1h4.5M707.3,399.5h4.5M707.3,401.9h4.5M707.3,404.3h4.5M707.3,406.7h4.5M707.3,409.1h4.5M707.3,411.5h4.5M707.3,413.9h4.5M707.3,416.3h4.5M707.3,418.7h4.5M707.3,421.1h4.5M707.3,423.5h4.5M703.8,409.2h8M703.8,410h8M703.8,408.4h8M707.3,437.93h4.5M707.3,449.96h4.5M851.17,453.1v4.5M917.12,453.1v4.5M788.71,453.1v4.5M862.97,453.1v4.5M928.3,453.1v4.5M799.37,453.1v4.5M871.34,453.1v4.5M936.23,453.1v4.5M806.92,453.1v4.5M877.83,453.1v4.5M942.38,453.1v4.5M812.79,453.1v4.5M883.14,453.1v4.5M947.41,453.1v4.5M817.58,453.1v4.5M887.62,453.1v4.5M951.66,453.1v4.5M821.63,453.1v4.5M891.51,453.1v4.5M955.35,453.1v4.5M825.14,453.1v4.5M894.93,453.1v4.5M958.59,453.1v4.5M828.23,453.1v4.5M980.62,453.1v4.5M831,453.1v8M898,453.1v8M961.5,453.1v8M739.5,453.1v8M770.5,453.1v8M759.57,453.1v4.5M750.43,453.1v4.5M760.93,453.1v4.5M749.07,453.1v4.5M762.3,453.1v4.5M747.7,453.1v4.5M763.67,453.1v5.5M746.33,453.1v5.5M765.03,453.1v4.5M744.97,453.1v4.5M766.4,453.1v4.5M743.6,453.1v4.5M767.77,453.1v4.5M742.23,453.1v4.5M769.13,453.1v4.5M740.87,453.1v4.5M752,453.1v8M752.75,453.1v8M753.5,453.1v8M754.25,453.1v8M755,453.1v8M755.75,453.1v8M756.5,453.1v8M757.25,453.1v8M758,453.1v8" stroke="#000" stroke-width="1.2" fill="none"/>
<text transform="translate(679.74,208.8) scale(1.0993,1)" font-size="10.42" fill="#000" stroke="#000" stroke-width="0.3">10</text>
<text transform="translate(691.95,199.6) scale(1.1053,1)" font-size="10.29" fill="#000" stroke="#000" stroke-width="0.25">5</text>
<text transform="translate(679.74,272.4) scale(1.0993,1)" font-size="10.42" fill="#000" stroke="#000" stroke-width="0.3">10</text>
<text transform="translate(692.13,263.3) scale(1.0350,1)" font-size="10.43" fill="#000" stroke="#000" stroke-width="0.25">4</text>
<text transform="translate(679.74,339.8) scale(1.0993,1)" font-size="10.42" fill="#000" stroke="#000" stroke-width="0.3">10</text>
<text transform="translate(691.94,330.6) scale(1.1330,1)" font-size="10.14" fill="#000" stroke="#000" stroke-width="0.25">3</text>
<text transform="translate(687.21,413.3) scale(0.9292,1)" font-size="10.42" fill="#000" stroke="#000" stroke-width="0.3">0</text>
<text transform="translate(825.93,484.31) scale(1.2625,1)" font-size="9.15" fill="#000" stroke="#000" stroke-width="0.3">10</text>
<text transform="translate(838.33,475.5) scale(1.2041,1)" font-size="9.72" fill="#000" stroke="#000" stroke-width="0.25">3</text>
<text transform="translate(892.93,484.31) scale(1.2625,1)" font-size="9.15" fill="#000" stroke="#000" stroke-width="0.3">10</text>
<text transform="translate(905.52,475.6) scale(1.1000,1)" font-size="10" fill="#000" stroke="#000" stroke-width="0.25">4</text>
<text transform="translate(956.43,484.31) scale(1.2625,1)" font-size="9.15" fill="#000" stroke="#000" stroke-width="0.3">10</text>
<text transform="translate(968.84,475.5) scale(1.1747,1)" font-size="9.86" fill="#000" stroke="#000" stroke-width="0.25">5</text>
<text transform="translate(751.73,484.31) scale(1.2878,1)" font-size="9.15" fill="#000" stroke="#000" stroke-width="0.3">0</text>
<path d="M872.6,195.3 L927.4,197.1 L936.3,204 L933.6,211.5 L929.5,223.8 L924,237.5 L917.8,244.4 L904.1,256.7 L889,270.4 L876.7,284.1 L866.4,297.1 L854.8,295.1 L832.9,289.6 L817.8,283.4 L815.8,262.2 L819.2,251.2 L827.4,234.8 L841.1,217 L847.9,208.8 L860.3,201.9 Z" fill="none" stroke="#111" stroke-width="1.7" stroke-linejoin="round"/>
<path d="M928.8,262.9 L955.5,262.9 L965.1,267.7 L968.5,282.7 L969.2,289.6 L966.4,310.1 L961.6,329.3 L955.5,341.6 L947.3,353.3 L928.8,358.8 L904.1,356.7 L893.2,347.1 L876.7,334.8 L871.9,326.6 L873.3,311.5 L879.5,297.8 L889,284.8 L904.1,273.2 L917.8,266.3 Z" fill="none" stroke="#111" stroke-width="1.7" stroke-linejoin="round"/>
<text transform="translate(769.04,198.2) scale(0.9903,1)" font-size="14.64" fill="#000" stroke="#000" stroke-width="0.3">LP</text>
<text transform="translate(765.88,214.92) scale(0.9834,1)" font-size="12.93" fill="#000" stroke="#000" stroke-width="0.3">4,45</text>
<text transform="translate(955.67,404.75) scale(0.8550,1)" font-size="15.07" fill="#000" stroke="#000" stroke-width="0.3">BC</text>
<text transform="translate(953.19,421.12) scale(0.8683,1)" font-size="14.46" fill="#000" stroke="#000" stroke-width="0.3">4,78</text>
<text transform="translate(667.68,409.53) rotate(-90) scale(0.9945,1)" font-size="30.55" fill="#000">Epcam-PECy7</text>
<text transform="translate(777.78,521.31) scale(1.0368,1)" font-size="29.39" fill="#000">CD49f-APC</text>
<path d="M1176.9 241.6h1.3v1.3h-1.3zM1186.6 230.8h1.3v1.3h-1.3zM1175.1 235.5h1.3v1.3h-1.3zM1185.2 228.0h1.3v1.3h-1.3zM1170.1 230.4h1.3v1.3h-1.3zM1169.5 226.6h1.3v1.3h-1.3zM1172.5 227.0h1.3v1.3h-1.3zM1176.3 235.0h1.3v1.3h-1.3zM1176.3 231.0h1.3v1.3h-1.3zM1178.9 230.9h1.3v1.3h-1.3zM1185.8 225.3h1.3v1.3h-1.3zM1177.1 236.6h1.3v1.3h-1.3zM1190.3 228.1h1.3v1.3h-1.3zM1175.9 226.0h1.3v1.3h-1.3zM1187.9 228.8h1.3v1.3h-1.3zM1193.7 232.0h1.3v1.3h-1.3zM1197.6 232.3h1.3v1.3h-1.3zM1164.0 235.5h1.3v1.3h-1.3zM1197.5 224.2h1.3v1.3h-1.3zM1166.0 227.0h1.3v1.3h-1.3zM1194.7 235.9h1.3v1.3h-1.3zM1181.8 239.1h1.3v1.3h-1.3zM1185.1 226.1h1.3v1.3h-1.3zM1173.4 228.5h1.3v1.3h-1.3zM1190.4 222.0h1.3v1.3h-1.3zM1188.1 225.2h1.3v1.3h-1.3zM1176.9 225.0h1.3v1.3h-1.3zM1176.4 228.5h1.3v1.3h-1.3zM1189.7 223.6h1.3v1.3h-1.3zM1191.2 233.1h1.3v1.3h-1.3zM1188.9 228.7h1.3v1.3h-1.3zM1178.5 227.8h1.3v1.3h-1.3zM1182.0 233.1h1.3v1.3h-1.3zM1190.4 227.7h1.3v1.3h-1.3zM1189.5 223.4h1.3v1.3h-1.3zM1192.1 229.1h1.3v1.3h-1.3zM1183.2 238.7h1.3v1.3h-1.3zM1175.6 229.4h1.3v1.3h-1.3zM1184.5 231.3h1.3v1.3h-1.3zM1186.0 228.1h1.3v1.3h-1.3zM1177.2 228.0h1.3v1.3h-1.3zM1186.0 231.2h1.3v1.3h-1.3zM1174.4 217.1h1.3v1.3h-1.3zM1184.3 223.4h1.3v1.3h-1.3zM1176.5 226.3h1.3v1.3h-1.3zM1201.0 227.7h1.3v1.3h-1.3zM1192.7 235.5h1.3v1.3h-1.3zM1184.3 240.0h1.3v1.3h-1.3zM1170.1 231.8h1.3v1.3h-1.3zM1170.9 230.7h1.3v1.3h-1.3zM1188.2 232.0h1.3v1.3h-1.3zM1180.6 235.7h1.3v1.3h-1.3zM1184.7 224.5h1.3v1.3h-1.3zM1167.8 226.7h1.3v1.3h-1.3zM1168.4 229.6h1.3v1.3h-1.3zM1183.0 230.3h1.3v1.3h-1.3zM1180.1 220.4h1.3v1.3h-1.3zM1169.9 230.9h1.3v1.3h-1.3zM1174.7 221.8h1.3v1.3h-1.3zM1189.0 232.4h1.3v1.3h-1.3zM1178.0 232.7h1.3v1.3h-1.3zM1187.1 218.8h1.3v1.3h-1.3zM1196.8 231.2h1.3v1.3h-1.3zM1185.0 229.8h1.3v1.3h-1.3zM1183.1 226.2h1.3v1.3h-1.3zM1176.6 233.2h1.3v1.3h-1.3zM1192.9 237.9h1.3v1.3h-1.3zM1168.9 231.2h1.3v1.3h-1.3zM1172.1 224.0h1.3v1.3h-1.3zM1181.8 222.5h1.3v1.3h-1.3zM1168.7 223.7h1.3v1.3h-1.3zM1190.8 224.4h1.3v1.3h-1.3zM1176.3 234.0h1.3v1.3h-1.3zM1186.7 230.2h1.3v1.3h-1.3zM1179.2 228.8h1.3v1.3h-1.3zM1179.7 232.9h1.3v1.3h-1.3zM1182.1 229.0h1.3v1.3h-1.3zM1164.3 229.1h1.3v1.3h-1.3zM1172.1 225.2h1.3v1.3h-1.3zM1177.7 226.1h1.3v1.3h-1.3zM1201.9 229.1h1.3v1.3h-1.3zM1189.3 223.7h1.3v1.3h-1.3zM1188.5 236.4h1.3v1.3h-1.3zM1172.6 229.5h1.3v1.3h-1.3zM1190.0 226.5h1.3v1.3h-1.3zM1193.1 233.3h1.3v1.3h-1.3zM1188.7 224.2h1.3v1.3h-1.3zM1205.6 233.7h1.3v1.3h-1.3zM1169.8 229.3h1.3v1.3h-1.3zM1172.2 237.4h1.3v1.3h-1.3zM1179.6 226.5h1.3v1.3h-1.3zM1173.2 227.1h1.3v1.3h-1.3zM1182.4 225.1h1.3v1.3h-1.3zM1186.6 223.3h1.3v1.3h-1.3zM1181.8 230.1h1.3v1.3h-1.3zM1182.8 224.2h1.3v1.3h-1.3zM1185.6 230.4h1.3v1.3h-1.3zM1188.9 226.1h1.3v1.3h-1.3zM1176.0 233.7h1.3v1.3h-1.3zM1175.9 217.5h1.3v1.3h-1.3zM1192.7 230.8h1.3v1.3h-1.3zM1178.9 229.1h1.3v1.3h-1.3zM1174.4 228.9h1.3v1.3h-1.3zM1184.5 226.1h1.3v1.3h-1.3zM1178.8 236.8h1.3v1.3h-1.3zM1183.0 227.1h1.3v1.3h-1.3zM1181.3 230.8h1.3v1.3h-1.3zM1187.6 227.7h1.3v1.3h-1.3zM1190.1 227.3h1.3v1.3h-1.3zM1174.4 229.3h1.3v1.3h-1.3zM1171.0 231.9h1.3v1.3h-1.3zM1196.3 223.9h1.3v1.3h-1.3zM1175.7 226.8h1.3v1.3h-1.3zM1167.9 222.6h1.3v1.3h-1.3zM1164.8 230.7h1.3v1.3h-1.3zM1181.6 225.1h1.3v1.3h-1.3zM1176.1 225.6h1.3v1.3h-1.3zM1165.4 231.8h1.3v1.3h-1.3zM1173.4 228.9h1.3v1.3h-1.3zM1172.4 230.7h1.3v1.3h-1.3zM1190.9 228.3h1.3v1.3h-1.3zM1184.0 230.7h1.3v1.3h-1.3zM1181.8 229.3h1.3v1.3h-1.3zM1170.4 223.9h1.3v1.3h-1.3zM1180.2 229.9h1.3v1.3h-1.3zM1187.8 227.4h1.3v1.3h-1.3zM1183.3 227.8h1.3v1.3h-1.3zM1191.4 230.2h1.3v1.3h-1.3zM1182.6 226.4h1.3v1.3h-1.3zM1188.1 224.2h1.3v1.3h-1.3zM1186.0 234.2h1.3v1.3h-1.3zM1176.8 237.2h1.3v1.3h-1.3zM1193.9 227.4h1.3v1.3h-1.3zM1185.1 234.1h1.3v1.3h-1.3zM1189.3 230.6h1.3v1.3h-1.3zM1172.3 226.0h1.3v1.3h-1.3zM1172.1 225.2h1.3v1.3h-1.3zM1180.2 227.6h1.3v1.3h-1.3zM1174.6 227.0h1.3v1.3h-1.3zM1187.4 227.4h1.3v1.3h-1.3zM1185.5 228.4h1.3v1.3h-1.3zM1192.9 223.8h1.3v1.3h-1.3zM1187.2 232.8h1.3v1.3h-1.3zM1171.7 223.8h1.3v1.3h-1.3zM1190.4 224.1h1.3v1.3h-1.3zM1176.0 233.1h1.3v1.3h-1.3zM1175.3 232.3h1.3v1.3h-1.3zM1182.4 235.4h1.3v1.3h-1.3zM1181.8 229.5h1.3v1.3h-1.3zM1191.2 226.0h1.3v1.3h-1.3zM1190.1 210.7h1.3v1.3h-1.3zM1185.8 229.1h1.3v1.3h-1.3zM1198.8 195.6h1.3v1.3h-1.3zM1189.9 210.4h1.3v1.3h-1.3zM1185.1 202.6h1.3v1.3h-1.3zM1179.4 210.5h1.3v1.3h-1.3zM1182.7 225.2h1.3v1.3h-1.3zM1205.9 192.1h1.3v1.3h-1.3zM1195.5 215.5h1.3v1.3h-1.3zM1193.2 229.3h1.3v1.3h-1.3zM1191.8 217.8h1.3v1.3h-1.3zM1179.1 228.8h1.3v1.3h-1.3zM1192.4 182.6h1.3v1.3h-1.3zM1182.6 218.5h1.3v1.3h-1.3zM1201.0 181.8h1.3v1.3h-1.3zM1198.8 179.0h1.3v1.3h-1.3zM1190.1 225.2h1.3v1.3h-1.3zM1194.5 183.2h1.3v1.3h-1.3zM1190.1 221.4h1.3v1.3h-1.3zM1202.3 190.9h1.3v1.3h-1.3zM1192.7 184.1h1.3v1.3h-1.3zM1189.6 208.7h1.3v1.3h-1.3zM1194.2 214.5h1.3v1.3h-1.3zM1201.5 195.1h1.3v1.3h-1.3zM1196.0 199.9h1.3v1.3h-1.3zM1180.6 214.1h1.3v1.3h-1.3zM1189.5 199.2h1.3v1.3h-1.3zM1193.6 202.1h1.3v1.3h-1.3zM1198.5 210.2h1.3v1.3h-1.3zM1193.1 212.6h1.3v1.3h-1.3zM1201.7 180.7h1.3v1.3h-1.3zM1197.8 197.7h1.3v1.3h-1.3zM1195.6 212.4h1.3v1.3h-1.3zM1183.8 203.0h1.3v1.3h-1.3zM1189.8 194.8h1.3v1.3h-1.3zM1201.2 182.1h1.3v1.3h-1.3zM1199.1 206.8h1.3v1.3h-1.3zM1206.3 189.9h1.3v1.3h-1.3zM1180.7 222.2h1.3v1.3h-1.3zM1198.1 190.6h1.3v1.3h-1.3zM1192.9 190.4h1.3v1.3h-1.3zM1179.8 232.1h1.3v1.3h-1.3zM1196.9 195.7h1.3v1.3h-1.3zM1181.3 230.8h1.3v1.3h-1.3zM1198.5 179.2h1.3v1.3h-1.3zM1187.1 199.7h1.3v1.3h-1.3zM1175.7 219.4h1.3v1.3h-1.3zM1196.8 197.1h1.3v1.3h-1.3zM1189.0 218.7h1.3v1.3h-1.3zM1187.1 224.0h1.3v1.3h-1.3zM1189.3 194.6h1.3v1.3h-1.3zM1195.1 191.6h1.3v1.3h-1.3zM1205.2 192.9h1.3v1.3h-1.3zM1202.0 184.6h1.3v1.3h-1.3zM1202.8 188.3h1.3v1.3h-1.3zM1187.0 210.5h1.3v1.3h-1.3zM1182.4 217.3h1.3v1.3h-1.3zM1182.4 212.1h1.3v1.3h-1.3zM1206.1 187.7h1.3v1.3h-1.3zM1175.6 226.7h1.3v1.3h-1.3zM1173.2 224.2h1.3v1.3h-1.3zM1197.6 184.1h1.3v1.3h-1.3zM1189.7 228.1h1.3v1.3h-1.3zM1194.3 199.8h1.3v1.3h-1.3zM1203.0 185.2h1.3v1.3h-1.3zM1194.0 196.5h1.3v1.3h-1.3zM1198.0 194.7h1.3v1.3h-1.3zM1181.5 228.8h1.3v1.3h-1.3zM1189.7 189.0h1.3v1.3h-1.3zM1205.4 197.0h1.3v1.3h-1.3zM1336.7 80.9h1.3v1.3h-1.3zM1229.6 154.0h1.3v1.3h-1.3zM1272.9 112.0h1.3v1.3h-1.3zM1287.7 88.8h1.3v1.3h-1.3zM1239.1 136.8h1.3v1.3h-1.3zM1192.6 197.8h1.3v1.3h-1.3zM1235.7 162.4h1.3v1.3h-1.3zM1279.3 56.1h1.3v1.3h-1.3zM1237.8 183.8h1.3v1.3h-1.3zM1241.1 159.1h1.3v1.3h-1.3zM1259.7 76.4h1.3v1.3h-1.3zM1239.3 95.9h1.3v1.3h-1.3zM1229.0 113.7h1.3v1.3h-1.3zM1257.6 103.0h1.3v1.3h-1.3zM1294.8 88.5h1.3v1.3h-1.3zM1244.8 124.9h1.3v1.3h-1.3zM1224.1 148.4h1.3v1.3h-1.3zM1271.6 54.3h1.3v1.3h-1.3zM1238.2 133.1h1.3v1.3h-1.3zM1306.3 75.9h1.3v1.3h-1.3zM1203.5 165.9h1.3v1.3h-1.3zM1286.8 80.5h1.3v1.3h-1.3zM1203.9 184.3h1.3v1.3h-1.3zM1242.6 151.7h1.3v1.3h-1.3zM1187.1 175.5h1.3v1.3h-1.3zM1243.2 99.7h1.3v1.3h-1.3zM1214.5 165.8h1.3v1.3h-1.3zM1276.1 88.4h1.3v1.3h-1.3zM1235.0 126.8h1.3v1.3h-1.3zM1219.9 164.0h1.3v1.3h-1.3zM1234.4 157.9h1.3v1.3h-1.3zM1266.5 135.7h1.3v1.3h-1.3zM1267.1 87.4h1.3v1.3h-1.3zM1207.3 183.5h1.3v1.3h-1.3zM1255.5 151.6h1.3v1.3h-1.3zM1208.9 203.6h1.3v1.3h-1.3zM1220.6 158.1h1.3v1.3h-1.3zM1232.4 152.4h1.3v1.3h-1.3zM1215.3 144.6h1.3v1.3h-1.3zM1215.3 160.5h1.3v1.3h-1.3zM1235.5 159.4h1.3v1.3h-1.3zM1251.3 120.2h1.3v1.3h-1.3zM1238.7 177.7h1.3v1.3h-1.3zM1193.8 177.4h1.3v1.3h-1.3zM1244.6 171.9h1.3v1.3h-1.3zM1193.6 181.6h1.3v1.3h-1.3zM1266.5 90.7h1.3v1.3h-1.3zM1192.1 130.7h1.3v1.3h-1.3zM1225.7 130.1h1.3v1.3h-1.3zM1252.3 101.7h1.3v1.3h-1.3zM1248.2 152.8h1.3v1.3h-1.3zM1236.7 156.0h1.3v1.3h-1.3zM1220.8 181.1h1.3v1.3h-1.3zM1216.3 170.5h1.3v1.3h-1.3zM1248.5 136.6h1.3v1.3h-1.3zM1187.2 179.4h1.3v1.3h-1.3zM1290.6 92.6h1.3v1.3h-1.3zM1214.2 184.2h1.3v1.3h-1.3zM1244.2 110.7h1.3v1.3h-1.3zM1197.5 152.0h1.3v1.3h-1.3zM1272.8 81.9h1.3v1.3h-1.3zM1201.0 161.9h1.3v1.3h-1.3zM1215.4 154.3h1.3v1.3h-1.3zM1300.8 63.9h1.3v1.3h-1.3zM1214.5 163.6h1.3v1.3h-1.3zM1214.0 171.7h1.3v1.3h-1.3zM1219.3 139.8h1.3v1.3h-1.3zM1275.1 76.8h1.3v1.3h-1.3zM1189.9 192.4h1.3v1.3h-1.3zM1208.1 202.6h1.3v1.3h-1.3zM1207.5 154.0h1.3v1.3h-1.3zM1209.6 197.2h1.3v1.3h-1.3zM1280.0 64.5h1.3v1.3h-1.3zM1205.9 195.5h1.3v1.3h-1.3zM1248.8 116.4h1.3v1.3h-1.3zM1210.9 161.9h1.3v1.3h-1.3zM1259.0 81.4h1.3v1.3h-1.3zM1269.4 79.4h1.3v1.3h-1.3zM1308.4 75.7h1.3v1.3h-1.3zM1274.6 110.5h1.3v1.3h-1.3zM1248.3 100.4h1.3v1.3h-1.3zM1252.5 102.5h1.3v1.3h-1.3zM1200.9 175.0h1.3v1.3h-1.3zM1258.5 136.1h1.3v1.3h-1.3zM1230.4 100.1h1.3v1.3h-1.3zM1227.7 115.2h1.3v1.3h-1.3zM1238.0 138.6h1.3v1.3h-1.3zM1197.8 189.8h1.3v1.3h-1.3zM1240.0 99.0h1.3v1.3h-1.3zM1200.9 200.4h1.3v1.3h-1.3zM1214.6 131.7h1.3v1.3h-1.3zM1262.7 101.1h1.3v1.3h-1.3zM1232.6 161.6h1.3v1.3h-1.3zM1250.0 151.1h1.3v1.3h-1.3zM1299.3 100.4h1.3v1.3h-1.3zM1218.3 173.5h1.3v1.3h-1.3zM1265.8 62.3h1.3v1.3h-1.3zM1244.4 132.0h1.3v1.3h-1.3zM1239.2 132.0h1.3v1.3h-1.3zM1199.2 174.3h1.3v1.3h-1.3zM1221.5 172.5h1.3v1.3h-1.3zM1219.3 119.3h1.3v1.3h-1.3zM1271.2 119.8h1.3v1.3h-1.3zM1216.3 140.7h1.3v1.3h-1.3zM1312.3 73.7h1.3v1.3h-1.3zM1214.5 161.3h1.3v1.3h-1.3zM1227.1 125.8h1.3v1.3h-1.3zM1218.5 182.3h1.3v1.3h-1.3zM1266.7 85.9h1.3v1.3h-1.3zM1308.8 61.5h1.3v1.3h-1.3zM1215.9 143.2h1.3v1.3h-1.3zM1259.9 142.2h1.3v1.3h-1.3zM1298.9 54.4h1.3v1.3h-1.3zM1263.4 92.1h1.3v1.3h-1.3zM1234.0 115.4h1.3v1.3h-1.3zM1223.2 113.2h1.3v1.3h-1.3zM1241.9 156.0h1.3v1.3h-1.3zM1219.2 155.4h1.3v1.3h-1.3zM1233.4 148.0h1.3v1.3h-1.3zM1232.4 135.4h1.3v1.3h-1.3zM1217.5 161.3h1.3v1.3h-1.3zM1229.3 180.5h1.3v1.3h-1.3zM1279.8 106.1h1.3v1.3h-1.3zM1246.4 108.1h1.3v1.3h-1.3zM1218.4 128.9h1.3v1.3h-1.3zM1204.3 141.1h1.3v1.3h-1.3zM1223.8 182.5h1.3v1.3h-1.3zM1294.2 67.5h1.3v1.3h-1.3zM1203.8 181.7h1.3v1.3h-1.3zM1264.8 113.7h1.3v1.3h-1.3zM1237.3 185.8h1.3v1.3h-1.3zM1260.4 113.8h1.3v1.3h-1.3zM1220.9 169.3h1.3v1.3h-1.3zM1329.3 60.7h1.3v1.3h-1.3zM1208.8 174.3h1.3v1.3h-1.3zM1252.5 140.9h1.3v1.3h-1.3zM1267.9 104.8h1.3v1.3h-1.3zM1224.6 165.6h1.3v1.3h-1.3zM1316.6 51.0h1.3v1.3h-1.3zM1270.9 80.0h1.3v1.3h-1.3zM1242.5 162.8h1.3v1.3h-1.3zM1300.3 73.8h1.3v1.3h-1.3zM1268.3 91.3h1.3v1.3h-1.3zM1191.7 178.9h1.3v1.3h-1.3zM1302.7 73.5h1.3v1.3h-1.3zM1196.0 200.4h1.3v1.3h-1.3zM1217.6 198.5h1.3v1.3h-1.3zM1237.0 118.0h1.3v1.3h-1.3zM1266.2 76.2h1.3v1.3h-1.3zM1220.5 141.0h1.3v1.3h-1.3zM1242.0 109.6h1.3v1.3h-1.3zM1197.2 116.6h1.3v1.3h-1.3zM1248.2 110.8h1.3v1.3h-1.3zM1283.6 77.9h1.3v1.3h-1.3zM1281.4 85.2h1.3v1.3h-1.3zM1218.5 157.0h1.3v1.3h-1.3zM1287.1 55.4h1.3v1.3h-1.3zM1210.5 179.4h1.3v1.3h-1.3zM1244.7 97.0h1.3v1.3h-1.3zM1209.8 150.3h1.3v1.3h-1.3zM1263.6 66.6h1.3v1.3h-1.3zM1317.4 33.0h1.3v1.3h-1.3zM1265.3 156.3h1.3v1.3h-1.3zM1290.8 102.1h1.3v1.3h-1.3zM1301.5 100.5h1.3v1.3h-1.3zM1257.7 108.5h1.3v1.3h-1.3zM1221.2 120.0h1.3v1.3h-1.3zM1209.2 137.9h1.3v1.3h-1.3zM1254.6 130.7h1.3v1.3h-1.3zM1200.2 185.4h1.3v1.3h-1.3zM1210.2 182.9h1.3v1.3h-1.3zM1256.7 124.9h1.3v1.3h-1.3zM1299.9 97.0h1.3v1.3h-1.3zM1231.0 115.0h1.3v1.3h-1.3zM1189.8 181.4h1.3v1.3h-1.3zM1276.0 54.2h1.3v1.3h-1.3zM1203.6 198.1h1.3v1.3h-1.3zM1256.6 99.5h1.3v1.3h-1.3zM1175.8 200.3h1.3v1.3h-1.3zM1196.9 178.7h1.3v1.3h-1.3zM1270.1 89.6h1.3v1.3h-1.3zM1216.0 159.8h1.3v1.3h-1.3zM1292.0 127.4h1.3v1.3h-1.3zM1257.5 103.6h1.3v1.3h-1.3zM1236.9 115.6h1.3v1.3h-1.3zM1214.7 209.1h1.3v1.3h-1.3zM1226.3 132.9h1.3v1.3h-1.3zM1256.2 151.2h1.3v1.3h-1.3zM1221.3 149.6h1.3v1.3h-1.3zM1222.1 112.1h1.3v1.3h-1.3zM1262.0 85.8h1.3v1.3h-1.3zM1286.9 26.1h1.3v1.3h-1.3zM1248.2 138.8h1.3v1.3h-1.3zM1223.2 189.0h1.3v1.3h-1.3zM1217.0 154.4h1.3v1.3h-1.3zM1189.2 194.2h1.3v1.3h-1.3zM1213.0 174.3h1.3v1.3h-1.3zM1255.2 123.5h1.3v1.3h-1.3zM1229.4 174.4h1.3v1.3h-1.3zM1218.8 162.8h1.3v1.3h-1.3zM1214.1 182.9h1.3v1.3h-1.3zM1285.3 101.5h1.3v1.3h-1.3zM1217.9 192.6h1.3v1.3h-1.3zM1290.4 86.5h1.3v1.3h-1.3zM1315.4 77.9h1.3v1.3h-1.3zM1194.5 185.2h1.3v1.3h-1.3zM1269.7 125.8h1.3v1.3h-1.3zM1239.7 150.5h1.3v1.3h-1.3zM1260.5 149.2h1.3v1.3h-1.3zM1232.5 96.7h1.3v1.3h-1.3zM1212.9 172.0h1.3v1.3h-1.3zM1262.1 117.3h1.3v1.3h-1.3zM1216.5 124.8h1.3v1.3h-1.3zM1202.4 181.6h1.3v1.3h-1.3zM1216.4 205.4h1.3v1.3h-1.3zM1206.5 110.4h1.3v1.3h-1.3zM1255.1 115.7h1.3v1.3h-1.3zM1226.3 131.3h1.3v1.3h-1.3zM1249.8 133.0h1.3v1.3h-1.3zM1235.0 142.6h1.3v1.3h-1.3zM1224.6 142.4h1.3v1.3h-1.3zM1276.6 101.8h1.3v1.3h-1.3zM1229.8 147.0h1.3v1.3h-1.3zM1292.0 67.9h1.3v1.3h-1.3zM1246.0 170.4h1.3v1.3h-1.3zM1294.6 85.7h1.3v1.3h-1.3zM1207.3 160.6h1.3v1.3h-1.3zM1229.7 109.4h1.3v1.3h-1.3zM1244.4 133.2h1.3v1.3h-1.3zM1190.0 189.7h1.3v1.3h-1.3zM1193.7 197.7h1.3v1.3h-1.3zM1289.5 73.7h1.3v1.3h-1.3zM1265.3 120.4h1.3v1.3h-1.3zM1188.0 184.7h1.3v1.3h-1.3zM1187.3 181.0h1.3v1.3h-1.3zM1266.5 80.8h1.3v1.3h-1.3zM1295.1 66.0h1.3v1.3h-1.3zM1234.7 120.0h1.3v1.3h-1.3zM1214.3 166.4h1.3v1.3h-1.3zM1200.1 201.1h1.3v1.3h-1.3zM1224.7 181.3h1.3v1.3h-1.3zM1220.0 141.7h1.3v1.3h-1.3zM1210.1 172.6h1.3v1.3h-1.3zM1227.8 162.0h1.3v1.3h-1.3zM1185.2 182.9h1.3v1.3h-1.3zM1226.4 127.4h1.3v1.3h-1.3zM1235.4 113.7h1.3v1.3h-1.3zM1227.1 126.7h1.3v1.3h-1.3zM1199.2 156.3h1.3v1.3h-1.3zM1301.7 64.1h1.3v1.3h-1.3zM1306.7 62.4h1.3v1.3h-1.3zM1233.2 117.9h1.3v1.3h-1.3zM1324.8 63.6h1.3v1.3h-1.3zM1267.5 100.2h1.3v1.3h-1.3zM1222.3 157.5h1.3v1.3h-1.3zM1209.2 98.4h1.3v1.3h-1.3zM1182.1 162.4h1.3v1.3h-1.3zM1293.8 77.4h1.3v1.3h-1.3zM1251.0 108.3h1.3v1.3h-1.3zM1320.4 76.6h1.3v1.3h-1.3zM1216.0 166.4h1.3v1.3h-1.3zM1272.3 131.9h1.3v1.3h-1.3zM1216.8 168.6h1.3v1.3h-1.3zM1255.1 116.5h1.3v1.3h-1.3zM1214.2 166.5h1.3v1.3h-1.3zM1190.0 193.2h1.3v1.3h-1.3zM1223.5 121.2h1.3v1.3h-1.3zM1284.3 103.4h1.3v1.3h-1.3zM1273.1 82.1h1.3v1.3h-1.3zM1280.2 98.0h1.3v1.3h-1.3zM1215.1 134.4h1.3v1.3h-1.3zM1204.6 171.6h1.3v1.3h-1.3zM1225.1 90.8h1.3v1.3h-1.3zM1282.3 50.9h1.3v1.3h-1.3zM1282.3 82.6h1.3v1.3h-1.3zM1250.3 86.9h1.3v1.3h-1.3zM1219.5 122.2h1.3v1.3h-1.3zM1273.0 88.1h1.3v1.3h-1.3zM1231.3 195.4h1.3v1.3h-1.3zM1269.2 80.1h1.3v1.3h-1.3z" fill="#2d279e"/>
<rect x="1123.6" y="10.4" width="275.4" height="275.6" fill="none" stroke="#000" stroke-width="1.3"/>
<path d="M1119.1,148.86h4.5M1119.1,80.7h4.5M1119.1,208.34h4.5M1119.1,136.55h4.5M1119.1,69.42h4.5M1119.1,198.66h4.5M1119.1,127.82h4.5M1119.1,61.41h4.5M1119.1,191.79h4.5M1119.1,121.04h4.5M1119.1,55.2h4.5M1119.1,186.46h4.5M1119.1,115.51h4.5M1119.1,50.12h4.5M1119.1,182.1h4.5M1119.1,110.83h4.5M1119.1,45.83h4.5M1119.1,178.42h4.5M1119.1,106.77h4.5M1119.1,42.11h4.5M1119.1,175.23h4.5M1119.1,103.2h4.5M1119.1,38.83h4.5M1119.1,172.42h4.5M1119.1,16.6h4.5M1115.6,169.9h8M1115.6,100h8M1115.6,35.9h8M1115.6,246.1h8M1115.6,224.9h8M1119.1,224.9h4.5M1119.1,225.65h4.5M1119.1,226.4h4.5M1119.1,227.15h4.5M1119.1,227.9h4.5M1119.1,228.65h4.5M1119.1,229.4h4.5M1119.1,230.15h4.5M1119.1,230.9h4.5M1119.1,231.65h4.5M1119.1,232.4h4.5M1119.1,233.15h4.5M1119.1,233.9h4.5M1119.1,234.65h4.5M1119.1,235.4h4.5M1119.1,236.15h4.5M1119.1,236.9h4.5M1119.1,237.65h4.5M1119.1,238.4h4.5M1119.1,239.15h4.5M1119.1,239.9h4.5M1119.1,240.65h4.5M1119.1,241.4h4.5M1119.1,242.15h4.5M1119.1,242.9h4.5M1119.1,243.65h4.5M1119.1,244.4h4.5M1119.1,245.15h4.5M1119.1,245.9h4.5M1115.6,235.5h8M1115.6,236.3h8M1115.6,234.7h8M1119.1,256.5h4.5M1119.1,265.3h4.5M1119.1,272.4h4.5M1119.1,278.6h4.5M1265.77,286v4.5M1328.86,286v4.5M1201.07,286v4.5M1277.04,286v4.5M1339.6,286v4.5M1212.51,286v4.5M1285.03,286v4.5M1347.23,286v4.5M1220.63,286v4.5M1291.23,286v4.5M1353.14,286v4.5M1226.93,286v4.5M1296.3,286v4.5M1357.97,286v4.5M1232.08,286v4.5M1300.59,286v4.5M1362.05,286v4.5M1236.43,286v4.5M1304.3,286v4.5M1365.59,286v4.5M1240.2,286v4.5M1307.57,286v4.5M1368.71,286v4.5M1243.53,286v4.5M1389.86,286v4.5M1246.5,286v8M1310.5,286v8M1371.5,286v8M1137.5,286v8M1181.5,286v8M1164.79,286v4.5M1154.21,286v4.5M1166.88,286v4.5M1152.12,286v4.5M1168.97,286v4.5M1150.03,286v4.5M1171.06,286v5.5M1147.94,286v5.5M1173.14,286v4.5M1145.86,286v4.5M1175.23,286v4.5M1143.77,286v4.5M1177.32,286v4.5M1141.68,286v4.5M1179.41,286v4.5M1139.59,286v4.5M1156.5,286v8M1157.25,286v8M1158,286v8M1158.75,286v8M1159.5,286v8M1160.25,286v8M1161,286v8M1161.75,286v8M1162.5,286v8" stroke="#000" stroke-width="1.2" fill="none"/>
<text transform="translate(1091.54,43) scale(1.0993,1)" font-size="10.42" fill="#000" stroke="#000" stroke-width="0.3">10</text>
<text transform="translate(1103.75,33.8) scale(1.1053,1)" font-size="10.29" fill="#000" stroke="#000" stroke-width="0.25">5</text>
<text transform="translate(1091.54,107.1) scale(1.0993,1)" font-size="10.42" fill="#000" stroke="#000" stroke-width="0.3">10</text>
<text transform="translate(1103.93,98) scale(1.0350,1)" font-size="10.43" fill="#000" stroke="#000" stroke-width="0.25">4</text>
<text transform="translate(1091.54,177) scale(1.0993,1)" font-size="10.42" fill="#000" stroke="#000" stroke-width="0.3">10</text>
<text transform="translate(1103.74,167.8) scale(1.1330,1)" font-size="10.14" fill="#000" stroke="#000" stroke-width="0.25">3</text>
<text transform="translate(1099.01,239.6) scale(0.9292,1)" font-size="10.42" fill="#000" stroke="#000" stroke-width="0.3">0</text>
<text transform="translate(1241.43,317.21) scale(1.2625,1)" font-size="9.15" fill="#000" stroke="#000" stroke-width="0.3">10</text>
<text transform="translate(1253.83,308.4) scale(1.2041,1)" font-size="9.72" fill="#000" stroke="#000" stroke-width="0.25">3</text>
<text transform="translate(1305.43,317.21) scale(1.2625,1)" font-size="9.15" fill="#000" stroke="#000" stroke-width="0.3">10</text>
<text transform="translate(1318.02,308.5) scale(1.1000,1)" font-size="10" fill="#000" stroke="#000" stroke-width="0.25">4</text>
<text transform="translate(1366.43,317.21) scale(1.2625,1)" font-size="9.15" fill="#000" stroke="#000" stroke-width="0.3">10</text>
<text transform="translate(1378.84,308.4) scale(1.1747,1)" font-size="9.86" fill="#000" stroke="#000" stroke-width="0.25">5</text>
<text transform="translate(1156.23,317.21) scale(1.2878,1)" font-size="9.15" fill="#000" stroke="#000" stroke-width="0.3">0</text>
<path d="M1169,27.9 L1230.7,21.1 L1337,22.2 L1337.3,42.4 L1332.7,45.3 L1321.2,54.6 L1316.8,59.7 L1306.8,66.2 L1293.8,74.1 L1282.3,80.6 L1276.5,85.6 L1266.4,96.4 L1254.9,105.8 L1247.7,112.3 L1239.7,120.2 L1234.7,127.4 L1228.9,136.1 L1223.9,146.2 L1218.8,154.8 L1213.1,163.5 L1206.6,175 L1200.1,203.8 L1169.2,205.9 L1165,175 L1163.7,117.5 L1166,60 Z" fill="none" stroke="#111" stroke-width="1.8" stroke-linejoin="round"/>
<path d="M1339.9,51.8 L1343.5,137.5 L1341.4,202.4 L1244.8,203.1 L1208,205.3 L1213.8,175 L1220.3,164.9 L1227.5,153.4 L1236.1,141.8 L1246.2,127.4 L1252,120.2 L1266.4,105.8 L1279.4,94.3 L1293.8,82 L1302.4,77 L1319.7,64.7 L1332.7,56.8 Z" fill="none" stroke="#111" stroke-width="1.8" stroke-linejoin="round"/>
<text transform="translate(1187.72,50.1) scale(1.0374,1)" font-size="13.04" fill="#000" stroke="#000" stroke-width="0.35">R+</text>
<text transform="translate(1184.33,67.77) scale(0.9484,1)" font-size="14.1" fill="#000" stroke="#000" stroke-width="0.35">24,0</text>
<text transform="translate(1302.68,170.75) scale(0.8235,1)" font-size="15.07" fill="#000" stroke="#000" stroke-width="0.35">G+</text>
<text transform="translate(1298.83,187.57) scale(0.9009,1)" font-size="14.82" fill="#000" stroke="#000" stroke-width="0.35">29,3</text>
<text transform="translate(1086.3,173.73) rotate(-90) scale(1.0020,1)" font-size="31.59" fill="#000">RFP</text>
<text transform="translate(1218.96,366.81) scale(1.0683,1)" font-size="28.87" fill="#000">GFP</text>
<path d="M1182.0 630.1h1.3v1.3h-1.3zM1186.1 638.8h1.3v1.3h-1.3zM1187.7 627.1h1.3v1.3h-1.3zM1182.1 629.3h1.3v1.3h-1.3zM1195.6 635.4h1.3v1.3h-1.3zM1201.3 628.8h1.3v1.3h-1.3zM1177.1 638.0h1.3v1.3h-1.3zM1184.9 640.9h1.3v1.3h-1.3zM1186.0 635.1h1.3v1.3h-1.3zM1176.0 636.9h1.3v1.3h-1.3zM1176.8 641.7h1.3v1.3h-1.3zM1186.0 637.0h1.3v1.3h-1.3zM1180.8 640.4h1.3v1.3h-1.3zM1192.6 641.0h1.3v1.3h-1.3zM1197.5 630.4h1.3v1.3h-1.3zM1191.4 644.2h1.3v1.3h-1.3zM1192.3 639.9h1.3v1.3h-1.3zM1180.6 635.5h1.3v1.3h-1.3zM1183.7 638.4h1.3v1.3h-1.3zM1193.3 636.3h1.3v1.3h-1.3zM1195.1 635.9h1.3v1.3h-1.3zM1188.7 630.6h1.3v1.3h-1.3zM1194.8 633.2h1.3v1.3h-1.3zM1187.1 633.5h1.3v1.3h-1.3zM1178.2 639.6h1.3v1.3h-1.3zM1192.5 637.0h1.3v1.3h-1.3zM1185.4 636.7h1.3v1.3h-1.3zM1173.0 634.5h1.3v1.3h-1.3zM1197.6 640.4h1.3v1.3h-1.3zM1193.2 624.5h1.3v1.3h-1.3zM1196.5 631.1h1.3v1.3h-1.3zM1184.9 639.0h1.3v1.3h-1.3zM1203.8 633.2h1.3v1.3h-1.3zM1194.1 637.7h1.3v1.3h-1.3zM1198.9 641.7h1.3v1.3h-1.3zM1183.2 638.4h1.3v1.3h-1.3zM1186.5 628.7h1.3v1.3h-1.3zM1201.9 634.0h1.3v1.3h-1.3zM1189.2 630.0h1.3v1.3h-1.3zM1189.7 637.0h1.3v1.3h-1.3zM1203.9 639.4h1.3v1.3h-1.3zM1200.6 633.9h1.3v1.3h-1.3zM1191.7 637.2h1.3v1.3h-1.3zM1207.9 634.1h1.3v1.3h-1.3zM1175.1 643.2h1.3v1.3h-1.3zM1188.9 635.5h1.3v1.3h-1.3zM1184.2 636.0h1.3v1.3h-1.3zM1203.7 637.4h1.3v1.3h-1.3zM1204.7 639.5h1.3v1.3h-1.3zM1184.9 637.9h1.3v1.3h-1.3zM1190.9 634.9h1.3v1.3h-1.3zM1198.6 635.2h1.3v1.3h-1.3zM1194.6 637.2h1.3v1.3h-1.3zM1192.1 637.5h1.3v1.3h-1.3zM1199.1 633.4h1.3v1.3h-1.3zM1208.3 632.5h1.3v1.3h-1.3zM1190.7 634.0h1.3v1.3h-1.3zM1179.0 637.0h1.3v1.3h-1.3zM1188.5 633.1h1.3v1.3h-1.3zM1189.2 630.4h1.3v1.3h-1.3zM1186.0 633.6h1.3v1.3h-1.3zM1196.3 632.9h1.3v1.3h-1.3zM1196.6 637.6h1.3v1.3h-1.3zM1198.3 632.8h1.3v1.3h-1.3zM1194.2 633.3h1.3v1.3h-1.3zM1192.1 643.0h1.3v1.3h-1.3zM1179.8 636.9h1.3v1.3h-1.3zM1186.3 631.0h1.3v1.3h-1.3zM1181.4 640.1h1.3v1.3h-1.3zM1192.7 633.4h1.3v1.3h-1.3zM1188.5 631.5h1.3v1.3h-1.3zM1189.3 637.8h1.3v1.3h-1.3zM1194.7 629.0h1.3v1.3h-1.3zM1186.8 634.7h1.3v1.3h-1.3zM1199.8 637.4h1.3v1.3h-1.3zM1199.6 638.2h1.3v1.3h-1.3zM1180.6 632.8h1.3v1.3h-1.3zM1202.1 632.9h1.3v1.3h-1.3zM1186.4 634.6h1.3v1.3h-1.3zM1182.7 640.2h1.3v1.3h-1.3zM1186.6 627.3h1.3v1.3h-1.3zM1177.5 638.5h1.3v1.3h-1.3zM1192.9 636.3h1.3v1.3h-1.3zM1201.1 640.9h1.3v1.3h-1.3zM1175.2 630.2h1.3v1.3h-1.3zM1193.7 639.9h1.3v1.3h-1.3zM1195.2 631.3h1.3v1.3h-1.3zM1195.9 636.3h1.3v1.3h-1.3zM1195.8 633.3h1.3v1.3h-1.3zM1193.8 624.5h1.3v1.3h-1.3zM1185.2 634.8h1.3v1.3h-1.3zM1198.1 636.7h1.3v1.3h-1.3zM1192.8 638.7h1.3v1.3h-1.3zM1197.2 632.3h1.3v1.3h-1.3zM1192.6 630.0h1.3v1.3h-1.3zM1187.2 638.0h1.3v1.3h-1.3zM1189.2 633.5h1.3v1.3h-1.3zM1195.4 639.5h1.3v1.3h-1.3zM1199.5 641.1h1.3v1.3h-1.3zM1171.4 634.0h1.3v1.3h-1.3zM1177.5 634.3h1.3v1.3h-1.3zM1174.1 631.9h1.3v1.3h-1.3zM1184.6 626.4h1.3v1.3h-1.3zM1183.3 635.0h1.3v1.3h-1.3zM1191.5 638.1h1.3v1.3h-1.3zM1186.7 639.6h1.3v1.3h-1.3zM1202.3 634.9h1.3v1.3h-1.3zM1183.8 642.9h1.3v1.3h-1.3zM1182.9 632.8h1.3v1.3h-1.3zM1181.8 634.9h1.3v1.3h-1.3zM1186.8 632.7h1.3v1.3h-1.3zM1191.1 633.2h1.3v1.3h-1.3zM1185.0 633.9h1.3v1.3h-1.3zM1180.8 632.1h1.3v1.3h-1.3zM1176.6 633.3h1.3v1.3h-1.3zM1191.3 636.3h1.3v1.3h-1.3zM1184.4 635.5h1.3v1.3h-1.3zM1180.2 630.6h1.3v1.3h-1.3zM1187.0 637.2h1.3v1.3h-1.3zM1192.7 631.6h1.3v1.3h-1.3zM1209.0 637.0h1.3v1.3h-1.3zM1205.0 635.4h1.3v1.3h-1.3zM1181.1 626.8h1.3v1.3h-1.3zM1185.3 630.6h1.3v1.3h-1.3zM1171.0 639.1h1.3v1.3h-1.3zM1170.9 632.3h1.3v1.3h-1.3zM1172.0 632.3h1.3v1.3h-1.3zM1198.2 633.2h1.3v1.3h-1.3zM1188.1 635.5h1.3v1.3h-1.3zM1175.6 637.5h1.3v1.3h-1.3zM1183.1 633.8h1.3v1.3h-1.3zM1184.7 642.3h1.3v1.3h-1.3zM1183.2 632.6h1.3v1.3h-1.3zM1203.5 633.1h1.3v1.3h-1.3zM1171.1 634.3h1.3v1.3h-1.3zM1185.2 635.8h1.3v1.3h-1.3zM1191.8 641.3h1.3v1.3h-1.3zM1194.1 645.1h1.3v1.3h-1.3zM1168.8 633.6h1.3v1.3h-1.3zM1191.3 634.4h1.3v1.3h-1.3zM1177.5 637.8h1.3v1.3h-1.3zM1184.0 634.6h1.3v1.3h-1.3zM1174.4 638.8h1.3v1.3h-1.3zM1196.8 630.5h1.3v1.3h-1.3zM1219.1 638.7h1.3v1.3h-1.3zM1199.1 625.7h1.3v1.3h-1.3zM1186.7 637.3h1.3v1.3h-1.3zM1172.8 637.9h1.3v1.3h-1.3zM1197.8 645.7h1.3v1.3h-1.3zM1200.9 631.2h1.3v1.3h-1.3zM1200.5 633.1h1.3v1.3h-1.3zM1208.4 624.6h1.3v1.3h-1.3zM1199.8 609.8h1.3v1.3h-1.3zM1190.2 597.9h1.3v1.3h-1.3zM1186.9 600.6h1.3v1.3h-1.3zM1193.1 601.8h1.3v1.3h-1.3zM1191.1 611.4h1.3v1.3h-1.3zM1185.1 631.0h1.3v1.3h-1.3zM1197.6 619.8h1.3v1.3h-1.3zM1204.6 627.1h1.3v1.3h-1.3zM1184.5 617.2h1.3v1.3h-1.3zM1185.2 635.0h1.3v1.3h-1.3zM1186.2 601.9h1.3v1.3h-1.3zM1181.9 608.0h1.3v1.3h-1.3zM1193.9 605.6h1.3v1.3h-1.3zM1180.8 605.4h1.3v1.3h-1.3zM1193.2 609.3h1.3v1.3h-1.3zM1192.0 618.6h1.3v1.3h-1.3zM1193.4 601.5h1.3v1.3h-1.3zM1180.5 600.4h1.3v1.3h-1.3zM1190.7 630.6h1.3v1.3h-1.3zM1191.3 628.0h1.3v1.3h-1.3zM1195.1 629.2h1.3v1.3h-1.3zM1191.5 603.9h1.3v1.3h-1.3zM1186.1 613.5h1.3v1.3h-1.3zM1196.4 620.1h1.3v1.3h-1.3zM1197.4 612.8h1.3v1.3h-1.3zM1197.8 624.9h1.3v1.3h-1.3zM1184.6 592.6h1.3v1.3h-1.3zM1192.1 598.7h1.3v1.3h-1.3zM1184.5 631.3h1.3v1.3h-1.3zM1188.3 611.6h1.3v1.3h-1.3zM1193.8 615.1h1.3v1.3h-1.3zM1181.2 624.5h1.3v1.3h-1.3zM1206.0 621.7h1.3v1.3h-1.3zM1196.2 596.0h1.3v1.3h-1.3zM1185.4 631.3h1.3v1.3h-1.3zM1185.7 602.7h1.3v1.3h-1.3zM1189.0 617.7h1.3v1.3h-1.3zM1188.6 615.4h1.3v1.3h-1.3zM1182.3 610.2h1.3v1.3h-1.3zM1188.4 602.0h1.3v1.3h-1.3zM1180.7 625.5h1.3v1.3h-1.3zM1186.1 624.3h1.3v1.3h-1.3zM1200.4 627.5h1.3v1.3h-1.3zM1189.1 619.5h1.3v1.3h-1.3zM1187.6 636.6h1.3v1.3h-1.3zM1198.3 602.6h1.3v1.3h-1.3zM1191.4 616.3h1.3v1.3h-1.3zM1193.3 621.0h1.3v1.3h-1.3zM1185.7 599.0h1.3v1.3h-1.3zM1195.6 601.5h1.3v1.3h-1.3zM1187.8 623.9h1.3v1.3h-1.3zM1195.1 634.4h1.3v1.3h-1.3zM1193.1 600.9h1.3v1.3h-1.3zM1199.8 619.6h1.3v1.3h-1.3zM1195.0 597.0h1.3v1.3h-1.3zM1189.5 622.1h1.3v1.3h-1.3zM1183.4 619.1h1.3v1.3h-1.3zM1187.7 613.6h1.3v1.3h-1.3zM1185.8 633.3h1.3v1.3h-1.3zM1198.9 625.0h1.3v1.3h-1.3zM1187.2 629.9h1.3v1.3h-1.3zM1175.7 606.2h1.3v1.3h-1.3zM1191.9 629.1h1.3v1.3h-1.3zM1194.0 599.5h1.3v1.3h-1.3zM1183.6 595.5h1.3v1.3h-1.3zM1193.7 617.4h1.3v1.3h-1.3zM1181.9 628.0h1.3v1.3h-1.3zM1191.4 635.8h1.3v1.3h-1.3zM1197.3 566.7h1.3v1.3h-1.3zM1192.1 603.0h1.3v1.3h-1.3zM1215.8 531.2h1.3v1.3h-1.3zM1233.7 543.2h1.3v1.3h-1.3zM1229.5 510.3h1.3v1.3h-1.3zM1178.9 608.9h1.3v1.3h-1.3zM1193.2 560.0h1.3v1.3h-1.3zM1274.6 511.2h1.3v1.3h-1.3zM1174.9 599.4h1.3v1.3h-1.3zM1208.0 574.1h1.3v1.3h-1.3zM1233.1 526.7h1.3v1.3h-1.3zM1198.4 583.8h1.3v1.3h-1.3zM1221.6 511.1h1.3v1.3h-1.3zM1193.1 577.1h1.3v1.3h-1.3zM1195.9 587.9h1.3v1.3h-1.3zM1272.6 505.4h1.3v1.3h-1.3zM1260.0 489.9h1.3v1.3h-1.3zM1306.0 464.4h1.3v1.3h-1.3zM1226.4 579.8h1.3v1.3h-1.3zM1198.0 559.3h1.3v1.3h-1.3zM1201.8 567.7h1.3v1.3h-1.3zM1228.2 530.6h1.3v1.3h-1.3zM1256.9 505.6h1.3v1.3h-1.3zM1251.8 513.8h1.3v1.3h-1.3zM1223.5 525.8h1.3v1.3h-1.3zM1236.8 522.2h1.3v1.3h-1.3zM1236.4 535.3h1.3v1.3h-1.3zM1179.9 558.3h1.3v1.3h-1.3zM1193.6 592.0h1.3v1.3h-1.3zM1218.3 567.5h1.3v1.3h-1.3zM1170.1 603.9h1.3v1.3h-1.3zM1232.2 526.3h1.3v1.3h-1.3zM1179.1 568.8h1.3v1.3h-1.3zM1204.5 542.4h1.3v1.3h-1.3zM1264.4 493.5h1.3v1.3h-1.3zM1254.5 532.5h1.3v1.3h-1.3zM1237.8 520.7h1.3v1.3h-1.3zM1199.1 575.4h1.3v1.3h-1.3zM1182.7 604.1h1.3v1.3h-1.3zM1228.1 528.2h1.3v1.3h-1.3zM1208.5 566.6h1.3v1.3h-1.3zM1224.9 535.1h1.3v1.3h-1.3zM1261.3 534.7h1.3v1.3h-1.3zM1228.9 533.9h1.3v1.3h-1.3zM1266.6 489.4h1.3v1.3h-1.3zM1245.6 523.6h1.3v1.3h-1.3zM1184.2 599.1h1.3v1.3h-1.3zM1200.4 565.7h1.3v1.3h-1.3zM1272.1 493.7h1.3v1.3h-1.3zM1178.2 594.1h1.3v1.3h-1.3zM1236.6 544.6h1.3v1.3h-1.3zM1200.2 550.7h1.3v1.3h-1.3zM1182.8 608.9h1.3v1.3h-1.3zM1187.2 599.8h1.3v1.3h-1.3zM1272.1 493.8h1.3v1.3h-1.3zM1218.1 577.2h1.3v1.3h-1.3zM1278.8 466.3h1.3v1.3h-1.3zM1259.5 496.5h1.3v1.3h-1.3zM1224.2 563.5h1.3v1.3h-1.3zM1274.3 503.0h1.3v1.3h-1.3zM1201.9 607.2h1.3v1.3h-1.3zM1238.5 498.4h1.3v1.3h-1.3zM1197.9 536.8h1.3v1.3h-1.3zM1194.9 572.2h1.3v1.3h-1.3zM1241.0 544.2h1.3v1.3h-1.3zM1200.4 565.8h1.3v1.3h-1.3zM1185.5 591.7h1.3v1.3h-1.3zM1280.5 515.4h1.3v1.3h-1.3zM1232.9 524.9h1.3v1.3h-1.3zM1168.6 583.6h1.3v1.3h-1.3zM1180.4 585.1h1.3v1.3h-1.3zM1236.6 523.8h1.3v1.3h-1.3zM1254.4 504.7h1.3v1.3h-1.3zM1200.7 600.8h1.3v1.3h-1.3zM1271.9 509.8h1.3v1.3h-1.3zM1234.1 526.9h1.3v1.3h-1.3zM1230.3 538.6h1.3v1.3h-1.3zM1217.1 537.3h1.3v1.3h-1.3zM1249.9 498.5h1.3v1.3h-1.3zM1238.3 529.8h1.3v1.3h-1.3zM1241.3 555.3h1.3v1.3h-1.3zM1276.8 500.7h1.3v1.3h-1.3zM1240.6 524.8h1.3v1.3h-1.3zM1237.8 523.7h1.3v1.3h-1.3zM1179.6 598.1h1.3v1.3h-1.3zM1180.7 598.3h1.3v1.3h-1.3zM1226.0 551.3h1.3v1.3h-1.3zM1175.8 572.7h1.3v1.3h-1.3zM1291.1 472.7h1.3v1.3h-1.3zM1250.1 514.4h1.3v1.3h-1.3zM1193.1 608.6h1.3v1.3h-1.3zM1273.6 513.5h1.3v1.3h-1.3zM1194.2 584.1h1.3v1.3h-1.3zM1247.9 491.9h1.3v1.3h-1.3zM1243.4 543.2h1.3v1.3h-1.3zM1235.2 492.9h1.3v1.3h-1.3zM1216.4 573.2h1.3v1.3h-1.3zM1171.2 611.7h1.3v1.3h-1.3zM1279.2 492.0h1.3v1.3h-1.3zM1183.6 580.2h1.3v1.3h-1.3zM1237.4 532.6h1.3v1.3h-1.3zM1184.7 571.2h1.3v1.3h-1.3zM1211.3 541.1h1.3v1.3h-1.3zM1240.2 529.0h1.3v1.3h-1.3zM1209.9 563.2h1.3v1.3h-1.3zM1190.6 549.5h1.3v1.3h-1.3zM1217.0 568.1h1.3v1.3h-1.3zM1219.5 570.7h1.3v1.3h-1.3zM1230.8 532.6h1.3v1.3h-1.3zM1172.4 615.1h1.3v1.3h-1.3zM1182.5 600.5h1.3v1.3h-1.3zM1221.0 566.2h1.3v1.3h-1.3zM1214.9 536.7h1.3v1.3h-1.3zM1194.5 588.6h1.3v1.3h-1.3zM1206.3 589.7h1.3v1.3h-1.3zM1206.4 573.8h1.3v1.3h-1.3zM1201.1 575.5h1.3v1.3h-1.3zM1187.6 605.2h1.3v1.3h-1.3zM1193.3 598.2h1.3v1.3h-1.3zM1187.7 602.6h1.3v1.3h-1.3zM1176.5 548.6h1.3v1.3h-1.3zM1266.7 529.2h1.3v1.3h-1.3zM1200.4 555.3h1.3v1.3h-1.3zM1188.6 559.0h1.3v1.3h-1.3zM1264.9 499.0h1.3v1.3h-1.3zM1196.4 576.4h1.3v1.3h-1.3zM1203.7 552.0h1.3v1.3h-1.3zM1274.4 477.0h1.3v1.3h-1.3zM1191.5 569.4h1.3v1.3h-1.3zM1187.4 588.8h1.3v1.3h-1.3zM1227.1 540.5h1.3v1.3h-1.3zM1239.8 486.5h1.3v1.3h-1.3zM1258.6 533.1h1.3v1.3h-1.3zM1221.3 547.4h1.3v1.3h-1.3zM1233.9 528.7h1.3v1.3h-1.3zM1303.6 479.3h1.3v1.3h-1.3zM1259.7 533.2h1.3v1.3h-1.3zM1244.2 543.0h1.3v1.3h-1.3zM1212.4 569.4h1.3v1.3h-1.3zM1275.2 521.9h1.3v1.3h-1.3zM1180.2 565.7h1.3v1.3h-1.3zM1204.7 548.2h1.3v1.3h-1.3zM1205.5 549.6h1.3v1.3h-1.3zM1204.9 582.1h1.3v1.3h-1.3zM1248.3 523.0h1.3v1.3h-1.3zM1275.8 483.2h1.3v1.3h-1.3zM1244.0 537.6h1.3v1.3h-1.3zM1246.7 515.4h1.3v1.3h-1.3zM1279.6 473.3h1.3v1.3h-1.3zM1213.0 551.9h1.3v1.3h-1.3zM1241.3 494.6h1.3v1.3h-1.3zM1271.4 488.5h1.3v1.3h-1.3zM1207.7 546.4h1.3v1.3h-1.3zM1291.5 464.7h1.3v1.3h-1.3zM1221.1 521.0h1.3v1.3h-1.3zM1219.4 522.4h1.3v1.3h-1.3zM1279.2 497.4h1.3v1.3h-1.3zM1178.5 602.1h1.3v1.3h-1.3zM1223.3 514.1h1.3v1.3h-1.3zM1244.5 534.5h1.3v1.3h-1.3zM1275.1 498.8h1.3v1.3h-1.3zM1222.0 562.1h1.3v1.3h-1.3zM1242.4 507.1h1.3v1.3h-1.3zM1247.4 498.2h1.3v1.3h-1.3zM1241.6 547.4h1.3v1.3h-1.3zM1234.5 524.8h1.3v1.3h-1.3zM1232.7 557.6h1.3v1.3h-1.3zM1236.1 535.7h1.3v1.3h-1.3zM1196.5 560.0h1.3v1.3h-1.3zM1219.7 535.0h1.3v1.3h-1.3zM1234.6 535.2h1.3v1.3h-1.3zM1216.9 589.5h1.3v1.3h-1.3zM1220.8 564.9h1.3v1.3h-1.3zM1194.9 545.1h1.3v1.3h-1.3zM1205.3 572.8h1.3v1.3h-1.3zM1225.2 575.6h1.3v1.3h-1.3zM1274.7 486.8h1.3v1.3h-1.3zM1205.1 578.3h1.3v1.3h-1.3zM1222.3 536.9h1.3v1.3h-1.3zM1222.3 535.9h1.3v1.3h-1.3zM1252.8 527.0h1.3v1.3h-1.3zM1249.7 511.9h1.3v1.3h-1.3zM1292.2 465.7h1.3v1.3h-1.3zM1232.6 537.8h1.3v1.3h-1.3zM1248.7 503.3h1.3v1.3h-1.3zM1208.8 561.7h1.3v1.3h-1.3zM1241.3 525.0h1.3v1.3h-1.3zM1245.3 496.7h1.3v1.3h-1.3zM1200.4 572.2h1.3v1.3h-1.3zM1231.8 524.3h1.3v1.3h-1.3zM1195.5 569.2h1.3v1.3h-1.3zM1200.7 614.3h1.3v1.3h-1.3zM1196.0 544.2h1.3v1.3h-1.3zM1275.6 508.5h1.3v1.3h-1.3zM1186.8 613.9h1.3v1.3h-1.3zM1192.2 608.5h1.3v1.3h-1.3zM1224.3 526.5h1.3v1.3h-1.3zM1232.4 565.6h1.3v1.3h-1.3zM1191.8 603.2h1.3v1.3h-1.3zM1277.5 496.3h1.3v1.3h-1.3zM1215.7 546.7h1.3v1.3h-1.3zM1246.7 527.3h1.3v1.3h-1.3zM1246.9 498.2h1.3v1.3h-1.3zM1253.0 482.6h1.3v1.3h-1.3zM1209.6 551.0h1.3v1.3h-1.3zM1207.3 596.8h1.3v1.3h-1.3zM1248.8 512.9h1.3v1.3h-1.3zM1195.8 601.4h1.3v1.3h-1.3zM1291.8 466.1h1.3v1.3h-1.3zM1238.2 540.5h1.3v1.3h-1.3zM1259.5 487.7h1.3v1.3h-1.3zM1219.8 571.5h1.3v1.3h-1.3zM1238.8 488.8h1.3v1.3h-1.3zM1246.9 512.7h1.3v1.3h-1.3zM1256.8 523.7h1.3v1.3h-1.3zM1199.8 556.5h1.3v1.3h-1.3zM1195.6 580.3h1.3v1.3h-1.3zM1274.8 463.8h1.3v1.3h-1.3zM1176.3 574.7h1.3v1.3h-1.3zM1223.6 588.1h1.3v1.3h-1.3zM1219.3 527.8h1.3v1.3h-1.3zM1203.9 550.2h1.3v1.3h-1.3zM1232.3 547.9h1.3v1.3h-1.3zM1197.8 567.9h1.3v1.3h-1.3zM1203.4 603.8h1.3v1.3h-1.3zM1279.6 474.6h1.3v1.3h-1.3zM1238.0 525.5h1.3v1.3h-1.3zM1196.1 565.7h1.3v1.3h-1.3zM1171.1 604.8h1.3v1.3h-1.3zM1194.1 586.6h1.3v1.3h-1.3zM1281.4 500.8h1.3v1.3h-1.3zM1255.1 512.0h1.3v1.3h-1.3zM1232.0 550.1h1.3v1.3h-1.3zM1207.3 574.9h1.3v1.3h-1.3zM1234.8 547.6h1.3v1.3h-1.3zM1177.2 576.1h1.3v1.3h-1.3zM1194.6 554.5h1.3v1.3h-1.3zM1296.3 496.9h1.3v1.3h-1.3zM1230.4 535.6h1.3v1.3h-1.3zM1194.5 591.2h1.3v1.3h-1.3zM1211.4 521.5h1.3v1.3h-1.3zM1214.4 572.3h1.3v1.3h-1.3zM1196.7 588.4h1.3v1.3h-1.3zM1202.3 568.0h1.3v1.3h-1.3zM1184.6 583.7h1.3v1.3h-1.3zM1235.6 516.9h1.3v1.3h-1.3zM1180.6 610.2h1.3v1.3h-1.3zM1208.4 551.4h1.3v1.3h-1.3zM1266.0 479.7h1.3v1.3h-1.3zM1261.7 523.3h1.3v1.3h-1.3zM1247.4 511.3h1.3v1.3h-1.3zM1198.7 544.4h1.3v1.3h-1.3zM1267.3 499.3h1.3v1.3h-1.3zM1201.6 598.3h1.3v1.3h-1.3zM1230.9 537.8h1.3v1.3h-1.3zM1230.4 524.3h1.3v1.3h-1.3zM1256.0 505.7h1.3v1.3h-1.3zM1196.0 541.7h1.3v1.3h-1.3zM1224.4 522.6h1.3v1.3h-1.3zM1217.6 530.7h1.3v1.3h-1.3zM1188.1 598.3h1.3v1.3h-1.3zM1201.3 555.4h1.3v1.3h-1.3zM1241.1 498.0h1.3v1.3h-1.3zM1191.3 565.3h1.3v1.3h-1.3zM1212.8 557.5h1.3v1.3h-1.3zM1199.3 586.8h1.3v1.3h-1.3zM1243.2 545.6h1.3v1.3h-1.3zM1215.2 536.1h1.3v1.3h-1.3zM1199.3 563.6h1.3v1.3h-1.3zM1225.8 553.0h1.3v1.3h-1.3zM1210.0 546.2h1.3v1.3h-1.3zM1178.3 608.6h1.3v1.3h-1.3zM1303.9 491.9h1.3v1.3h-1.3zM1252.2 506.2h1.3v1.3h-1.3zM1258.8 496.0h1.3v1.3h-1.3zM1171.5 594.3h1.3v1.3h-1.3zM1203.6 559.0h1.3v1.3h-1.3zM1224.6 578.3h1.3v1.3h-1.3zM1203.1 589.6h1.3v1.3h-1.3zM1224.4 535.8h1.3v1.3h-1.3z" fill="#2d279e"/>
<rect x="1126.6" y="419.2" width="273.9" height="272.6" fill="none" stroke="#000" stroke-width="1.3"/>
<path d="M1122.1,556.99h4.5M1122.1,488.81h4.5M1122.1,616.02h4.5M1122.1,544.7h4.5M1122.1,477.47h4.5M1122.1,606.44h4.5M1122.1,535.98h4.5M1122.1,469.43h4.5M1122.1,599.65h4.5M1122.1,529.21h4.5M1122.1,463.19h4.5M1122.1,594.38h4.5M1122.1,523.69h4.5M1122.1,458.09h4.5M1122.1,590.07h4.5M1122.1,519.01h4.5M1122.1,453.78h4.5M1122.1,586.43h4.5M1122.1,514.96h4.5M1122.1,450.04h4.5M1122.1,583.27h4.5M1122.1,511.39h4.5M1122.1,446.75h4.5M1122.1,580.49h4.5M1122.1,424.41h4.5M1118.6,578h8M1118.6,508.2h8M1118.6,443.8h8M1118.6,653.4h8M1118.6,632.4h8M1122.1,632.4h4.5M1122.1,633.15h4.5M1122.1,633.9h4.5M1122.1,634.65h4.5M1122.1,635.4h4.5M1122.1,636.15h4.5M1122.1,636.9h4.5M1122.1,637.65h4.5M1122.1,638.4h4.5M1122.1,639.15h4.5M1122.1,639.9h4.5M1122.1,640.65h4.5M1122.1,641.4h4.5M1122.1,642.15h4.5M1122.1,642.9h4.5M1122.1,643.65h4.5M1122.1,644.4h4.5M1122.1,645.15h4.5M1122.1,645.9h4.5M1122.1,646.65h4.5M1122.1,647.4h4.5M1122.1,648.15h4.5M1122.1,648.9h4.5M1122.1,649.65h4.5M1122.1,650.4h4.5M1122.1,651.15h4.5M1122.1,651.9h4.5M1122.1,652.65h4.5M1122.1,653.4h4.5M1118.6,642.9h8M1118.6,643.7h8M1118.6,642.1h8M1122.1,663.7h4.5M1122.1,672.42h4.5M1122.1,679.45h4.5M1122.1,685.59h4.5M1267.71,691.8v4.5M1330.63,691.8v4.5M1203.42,691.8v4.5M1278.94,691.8v4.5M1341.36,691.8v4.5M1214.77,691.8v4.5M1286.91,691.8v4.5M1348.97,691.8v4.5M1222.83,691.8v4.5M1293.09,691.8v4.5M1354.87,691.8v4.5M1229.08,691.8v4.5M1298.15,691.8v4.5M1359.69,691.8v4.5M1234.19,691.8v4.5M1302.42,691.8v4.5M1363.77,691.8v4.5M1238.51,691.8v4.5M1306.12,691.8v4.5M1367.3,691.8v4.5M1242.25,691.8v4.5M1309.38,691.8v4.5M1370.41,691.8v4.5M1245.55,691.8v4.5M1391.53,691.8v4.5M1248.5,691.8v8M1312.3,691.8v8M1373.2,691.8v8M1140,691.8v8M1184,691.8v8M1167.29,691.8v4.5M1156.71,691.8v4.5M1169.38,691.8v4.5M1154.62,691.8v4.5M1171.47,691.8v4.5M1152.53,691.8v4.5M1173.56,691.8v5.5M1150.44,691.8v5.5M1175.64,691.8v4.5M1148.36,691.8v4.5M1177.73,691.8v4.5M1146.27,691.8v4.5M1179.82,691.8v4.5M1144.18,691.8v4.5M1181.91,691.8v4.5M1142.09,691.8v4.5M1159,691.8v8M1159.75,691.8v8M1160.5,691.8v8M1161.25,691.8v8M1162,691.8v8M1162.75,691.8v8M1163.5,691.8v8M1164.25,691.8v8M1165,691.8v8" stroke="#000" stroke-width="1.2" fill="none"/>
<text transform="translate(1094.54,450.9) scale(1.0993,1)" font-size="10.42" fill="#000" stroke="#000" stroke-width="0.3">10</text>
<text transform="translate(1106.75,441.7) scale(1.1053,1)" font-size="10.29" fill="#000" stroke="#000" stroke-width="0.25">5</text>
<text transform="translate(1094.54,515.3) scale(1.0993,1)" font-size="10.42" fill="#000" stroke="#000" stroke-width="0.3">10</text>
<text transform="translate(1106.93,506.2) scale(1.0350,1)" font-size="10.43" fill="#000" stroke="#000" stroke-width="0.25">4</text>
<text transform="translate(1094.54,585.1) scale(1.0993,1)" font-size="10.42" fill="#000" stroke="#000" stroke-width="0.3">10</text>
<text transform="translate(1106.74,575.9) scale(1.1330,1)" font-size="10.14" fill="#000" stroke="#000" stroke-width="0.25">3</text>
<text transform="translate(1102.01,647) scale(0.9292,1)" font-size="10.42" fill="#000" stroke="#000" stroke-width="0.3">0</text>
<text transform="translate(1243.43,723.01) scale(1.2625,1)" font-size="9.15" fill="#000" stroke="#000" stroke-width="0.3">10</text>
<text transform="translate(1255.83,714.2) scale(1.2041,1)" font-size="9.72" fill="#000" stroke="#000" stroke-width="0.25">3</text>
<text transform="translate(1307.23,723.01) scale(1.2625,1)" font-size="9.15" fill="#000" stroke="#000" stroke-width="0.3">10</text>
<text transform="translate(1319.82,714.3) scale(1.1000,1)" font-size="10" fill="#000" stroke="#000" stroke-width="0.25">4</text>
<text transform="translate(1368.13,723.01) scale(1.2625,1)" font-size="9.15" fill="#000" stroke="#000" stroke-width="0.3">10</text>
<text transform="translate(1380.54,714.2) scale(1.1747,1)" font-size="9.86" fill="#000" stroke="#000" stroke-width="0.25">5</text>
<text transform="translate(1158.73,723.01) scale(1.2878,1)" font-size="9.15" fill="#000" stroke="#000" stroke-width="0.3">0</text>
<path d="M1154,443 L1215.4,437.6 L1320.6,437.6 L1320.2,457.1 L1312.8,463.9 L1308.8,467.4 L1299.7,476 L1296.9,477.8 L1280.3,488.1 L1270.7,493.9 L1264.1,497.7 L1256.1,505.8 L1252,509.8 L1239.6,520.8 L1226,534.5 L1215.4,548.1 L1206.3,561.7 L1199.5,574.6 L1192.7,588.9 L1188.2,601.1 L1185.1,617 L1155.3,619.7 L1148.5,531.5 Z" fill="none" stroke="#111" stroke-width="1.8" stroke-linejoin="round"/>
<path d="M1322.9,463.6 L1326.7,551.1 L1324.4,613.9 L1192.7,615.4 L1195,596.5 L1199.5,582.9 L1210.9,563.2 L1221.5,549.6 L1235.1,534.5 L1245.7,522.3 L1252,516.9 L1263.6,505.5 L1269.2,501 L1276.8,493.9 L1280.3,491.9 L1296.9,481.3 L1305,476 L1308.8,473 L1319.7,466.4 Z" fill="none" stroke="#111" stroke-width="1.8" stroke-linejoin="round"/>
<text transform="translate(1167.49,474.8) scale(1.0877,1)" font-size="12.75" fill="#000" stroke="#000" stroke-width="0.3">R+</text>
<text transform="translate(1164.18,492.72) scale(0.8927,1)" font-size="14.46" fill="#000" stroke="#000" stroke-width="0.3">32,4</text>
<text transform="translate(1295.46,588.57) scale(0.9571,1)" font-size="13.38" fill="#000" stroke="#000" stroke-width="0.35">G+</text>
<text transform="translate(1291.44,605.97) scale(0.9305,1)" font-size="14.1" fill="#000" stroke="#000" stroke-width="0.35">23,7</text>
<text transform="translate(1086.8,584.66) rotate(-90) scale(0.9145,1)" font-size="33.62" fill="#000">RFP</text>
<text transform="translate(1218.96,762.69) scale(0.9954,1)" font-size="30.99" fill="#000">GFP</text>
<line x1="887.7" y1="216.3" x2="1059.19" y2="98.3" stroke="#000" stroke-width="3.1" stroke-linecap="butt"/>
<path d="M1066.6,93.2 L1059.29,105.51 L1059.19,98.3 L1052.49,95.63 Z" fill="#000"/>
<line x1="944.5" y1="330.7" x2="1061.02" y2="465.69" stroke="#000" stroke-width="2.9" stroke-linecap="butt"/>
<path d="M1066.9,472.5 L1053.86,466.58 L1061.02,465.69 L1062.95,458.74 Z" fill="#000"/>
<text transform="translate(997.5,101) scale(0.9617,1)" font-size="41.59" font-weight="bold" fill="#000">LP</text>
<text transform="translate(990.45,489.69) scale(0.9546,1)" font-size="41.13" font-weight="bold" fill="#000">BC</text>
</svg>
</body></html>
